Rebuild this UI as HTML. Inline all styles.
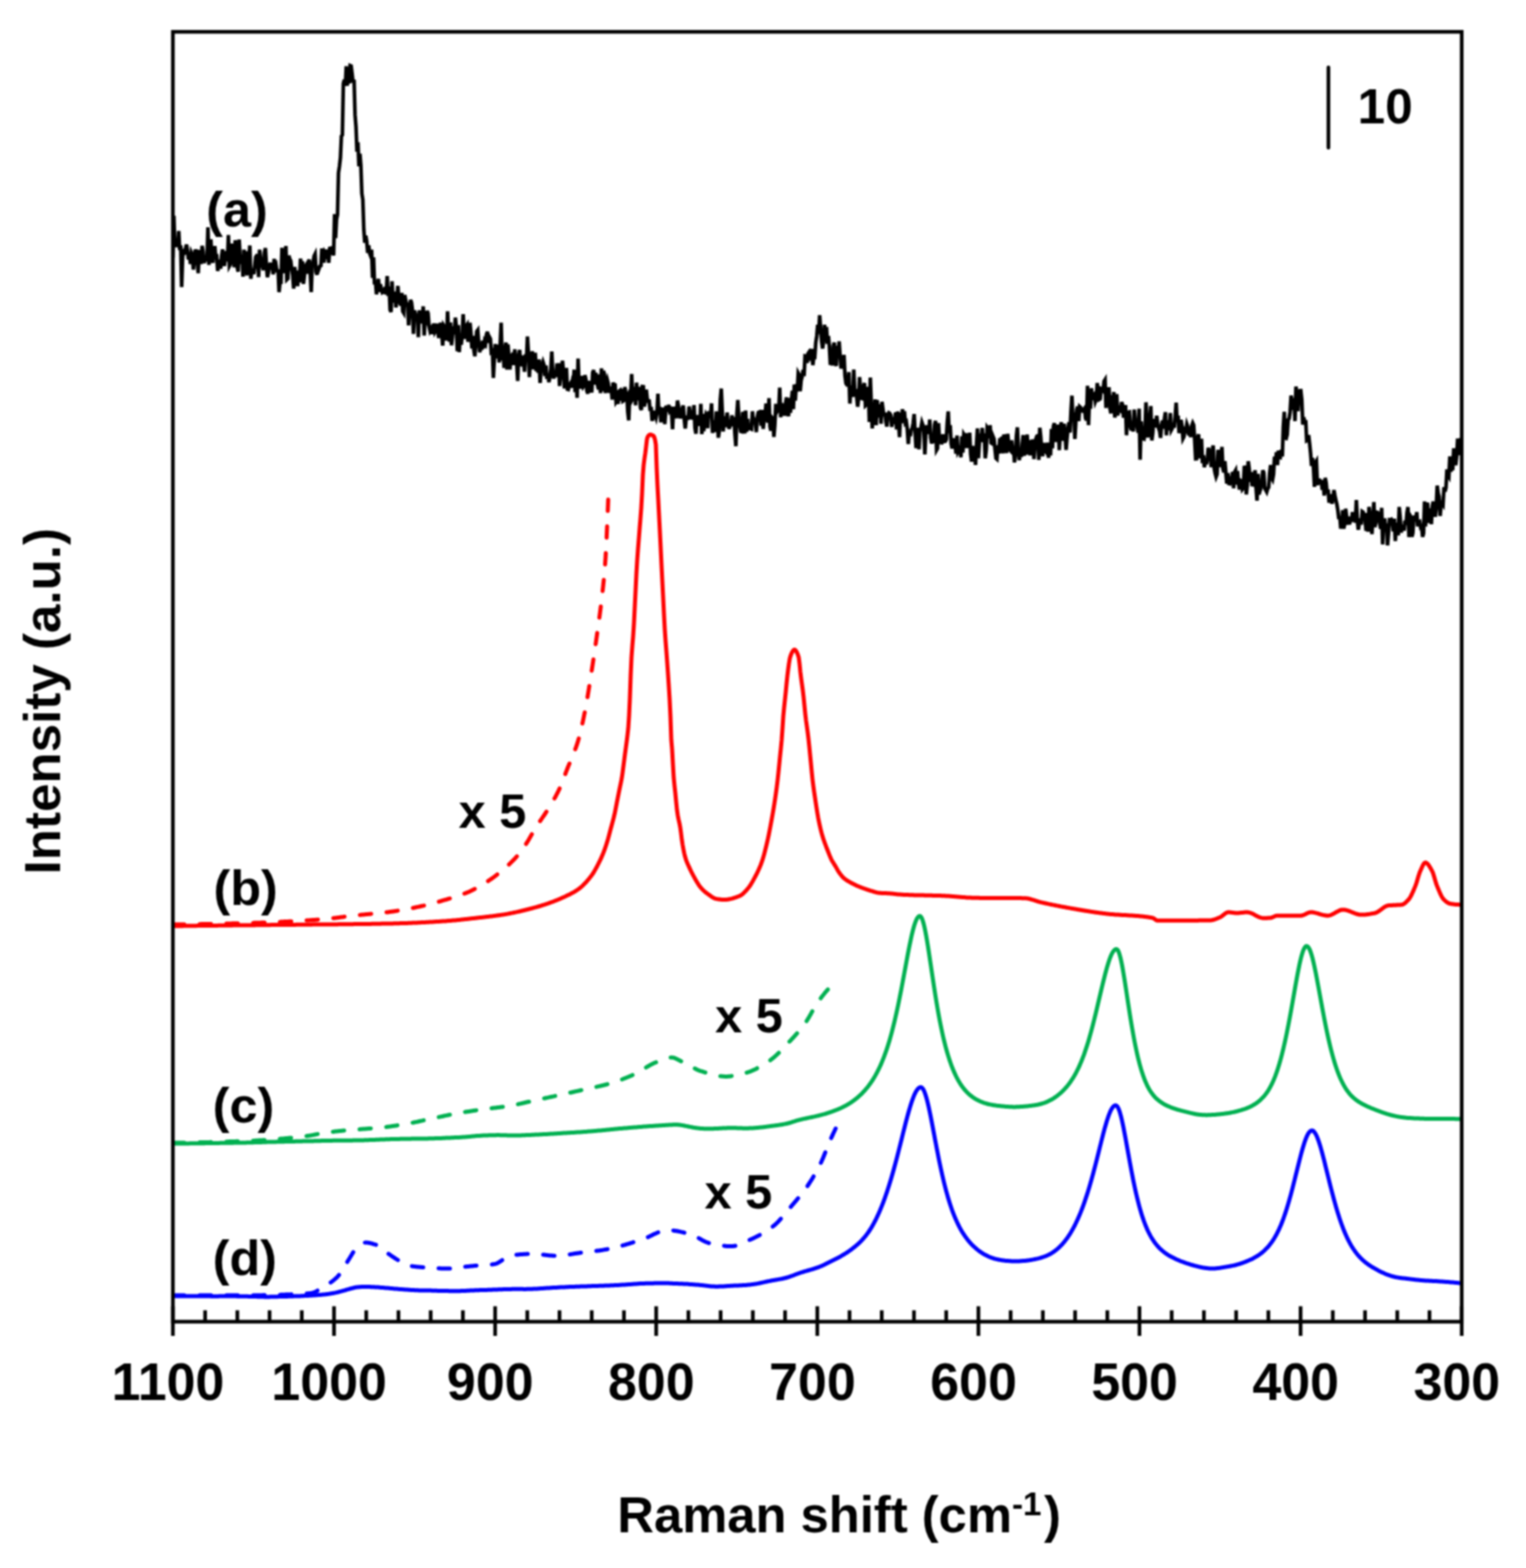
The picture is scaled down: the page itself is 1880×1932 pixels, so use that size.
<!DOCTYPE html>
<html><head><meta charset="utf-8"><title>Raman spectra</title>
<style>
html,body{margin:0;padding:0;background:#fff;width:1880px;height:1932px;overflow:hidden}
svg{display:block}
text{font-family:"Liberation Sans",Arial,sans-serif;font-weight:bold;fill:#000}
</style></head><body>
<svg width="1880" height="1932" viewBox="0 0 1880 1932">
<defs><filter id="bl" x="0" y="0" width="1880" height="1932" filterUnits="userSpaceOnUse" color-interpolation-filters="sRGB"><feConvolveMatrix order="5" kernelMatrix="4 14 20 14 4 14 49 70 49 14 20 70 100 70 20 14 49 70 49 14 4 14 20 14 4" divisor="784" edgeMode="duplicate"/></filter></defs>
<g filter="url(#bl)">
<rect x="0" y="0" width="1880" height="1932" fill="#fff"/>
<g clip-path="url(#plot)">
<path d="M213.0 317.5 L214.2 265.7 L215.4 304.5 L216.6 295.4 L217.8 299.2 L219.0 304.2 L220.2 284.7 L221.4 308.2 L222.6 302.2 L223.8 353.6 L225.0 316.7 L226.2 309.8 L227.4 310.6 L228.6 305.9 L229.8 301.3 L231.0 309.2 L232.2 319.7 L233.4 311.0 L234.6 325.3 L235.8 311.4 L237.0 314.0 L238.2 332.2 L239.4 320.2 L240.6 307.5 L241.8 311.3 L243.0 320.0 L244.2 336.7 L245.4 310.2 L246.6 310.5 L247.8 325.4 L249.0 302.8 L250.2 309.9 L251.4 324.0 L252.6 320.5 L253.8 314.8 L255.0 321.9 L256.2 280.1 L257.4 326.5 L258.6 303.0 L259.8 294.8 L261.0 318.4 L262.2 323.8 L263.4 310.4 L264.6 303.2 L265.8 316.7 L267.0 316.1 L268.2 333.9 L269.4 326.3 L270.6 320.0 L271.8 331.2 L273.0 315.7 L274.2 307.2 L275.4 325.6 L276.6 325.7 L277.8 316.3 L279.0 309.7 L280.2 322.0 L281.4 289.5 L282.6 327.8 L283.8 325.6 L285.0 300.2 L286.2 320.7 L287.4 308.6 L288.6 329.4 L289.8 296.0 L291.0 309.6 L292.2 329.2 L293.4 334.8 L294.6 295.1 L295.8 315.2 L297.0 325.3 L298.2 314.2 L299.4 340.8 L300.6 307.6 L301.8 326.3 L303.0 309.7 L304.2 339.3 L305.4 322.4 L306.6 318.4 L307.8 302.5 L309.0 343.5 L310.2 332.5 L311.4 332.8 L312.6 337.6 L313.8 328.4 L315.0 316.7 L316.2 315.0 L317.4 315.2 L318.6 341.5 L319.8 307.7 L321.0 318.3 L322.2 321.8 L323.4 328.6 L324.6 333.0 L325.8 311.3 L327.0 305.7 L328.2 326.6 L329.4 341.5 L330.6 336.2 L331.8 329.9 L333.0 323.8 L334.2 331.3 L335.4 325.1 L336.6 338.0 L337.8 318.9 L339.0 330.2 L340.2 327.5 L341.4 335.5 L342.6 331.9 L343.8 360.0 L345.0 347.5 L346.2 347.6 L347.4 305.3 L348.6 325.9 L349.8 322.8 L351.0 336.6 L352.2 303.0 L353.4 344.5 L354.6 343.3 L355.8 315.0 L357.0 319.0 L358.2 321.3 L359.4 331.5 L360.6 338.8 L361.8 355.7 L363.0 328.9 L364.2 340.6 L365.4 333.3 L366.6 352.6 L367.8 340.5 L369.0 348.0 L370.2 318.7 L371.4 329.4 L372.6 321.9 L373.8 349.8 L375.0 339.6 L376.2 328.0 L377.4 326.1 L378.6 337.2 L379.8 322.8 L381.0 319.8 L382.2 336.5 L383.4 360.0 L384.6 327.2 L385.8 323.1 L387.0 315.4 L388.2 313.0 L389.4 335.0 L390.6 338.5 L391.8 327.9 L393.0 331.1 L394.2 327.8 L395.4 327.2 L396.6 306.2 L397.8 317.9 L399.0 323.5 L400.2 311.3 L401.4 313.5 L402.6 307.8 L403.8 311.8 L405.0 323.9 L406.2 306.1 L407.4 305.8 L408.6 313.5 L409.8 307.1 L411.0 314.8 L412.2 263.9 L413.4 293.5 L414.6 269.9 L415.8 264.5 L417.0 213.0 L418.2 205.0 L419.4 194.3 L420.6 167.8 L421.8 166.3 L423.0 103.0 L424.2 98.3 L425.4 105.8 L426.6 81.7 L427.8 105.5 L429.0 87.3 L430.2 102.8 L431.4 80.7 L432.6 81.2 L433.8 91.1 L435.0 101.8 L436.2 98.3 L437.4 141.4 L438.6 156.6 L439.8 187.0 L441.0 175.3 L442.2 204.9 L443.4 189.5 L444.6 204.4 L445.8 238.6 L447.0 245.9 L448.2 282.5 L449.4 299.2 L450.6 290.4 L451.8 297.2 L453.0 311.6 L454.2 302.4 L455.4 312.1 L456.6 315.3 L457.8 307.7 L459.0 342.5 L460.2 317.1 L461.4 350.3 L462.6 345.9 L463.8 362.7 L465.0 350.7 L466.2 343.6 L467.4 359.6 L468.6 350.2 L469.8 356.3 L471.0 360.4 L472.2 359.6 L473.4 360.2 L474.6 353.6 L475.8 362.4 L477.0 340.0 L478.2 364.7 L479.4 353.1 L480.6 381.8 L481.8 384.4 L483.0 346.5 L484.2 372.3 L485.4 369.7 L486.6 359.3 L487.8 378.8 L489.0 367.5 L490.2 352.3 L491.4 370.8 L492.6 372.8 L493.8 376.3 L495.0 360.8 L496.2 383.5 L497.4 385.5 L498.6 363.5 L499.8 370.0 L501.0 377.6 L502.2 372.5 L503.4 400.9 L504.6 383.2 L505.8 369.4 L507.0 372.8 L508.2 382.4 L509.4 411.4 L510.6 382.6 L511.8 387.1 L513.0 392.5 L514.2 386.7 L515.4 415.3 L516.6 382.3 L517.8 398.4 L519.0 392.2 L520.2 398.4 L521.4 377.5 L522.6 413.5 L523.8 391.5 L525.0 394.0 L526.2 383.0 L527.4 386.0 L528.6 402.2 L529.8 407.8 L531.0 405.6 L532.2 411.6 L533.4 406.3 L534.6 398.6 L535.8 408.8 L537.0 406.5 L538.2 398.7 L539.4 409.1 L540.6 416.4 L541.8 404.3 L543.0 397.7 L544.2 411.1 L545.4 425.8 L546.6 401.0 L547.8 402.9 L549.0 402.9 L550.2 419.7 L551.4 383.5 L552.6 410.5 L553.8 420.9 L555.0 397.3 L556.2 425.5 L557.4 414.6 L558.6 402.1 L559.8 411.6 L561.0 391.3 L562.2 403.4 L563.4 432.7 L564.6 400.5 L565.8 434.0 L567.0 411.4 L568.2 424.8 L569.4 414.0 L570.6 387.1 L571.8 407.7 L573.0 417.4 L574.2 401.9 L575.4 400.1 L576.6 421.2 L577.8 409.6 L579.0 397.6 L580.2 410.3 L581.4 429.4 L582.6 413.9 L583.8 431.4 L585.0 439.0 L586.2 421.6 L587.4 408.3 L588.6 406.7 L589.8 422.6 L591.0 434.0 L592.2 427.2 L593.4 431.1 L594.6 419.8 L595.8 429.2 L597.0 420.5 L598.2 422.8 L599.4 411.7 L600.6 408.8 L601.8 422.4 L603.0 415.4 L604.2 417.7 L605.4 437.7 L606.6 428.9 L607.8 465.6 L609.0 442.2 L610.2 424.0 L611.4 441.4 L612.6 436.8 L613.8 424.7 L615.0 446.6 L616.2 424.5 L617.4 397.5 L618.6 444.2 L619.8 427.7 L621.0 453.4 L622.2 428.2 L623.4 422.2 L624.6 455.4 L625.8 424.3 L627.0 440.1 L628.2 455.4 L629.4 439.8 L630.6 437.9 L631.8 440.5 L633.0 449.7 L634.2 430.4 L635.4 447.8 L636.6 447.8 L637.8 469.3 L639.0 437.6 L640.2 431.1 L641.4 451.3 L642.6 438.1 L643.8 446.8 L645.0 445.3 L646.2 458.1 L647.4 436.6 L648.6 443.8 L649.8 414.7 L651.0 435.1 L652.2 464.6 L653.4 438.4 L654.6 438.6 L655.8 432.9 L657.0 454.9 L658.2 450.5 L659.4 434.5 L660.6 457.2 L661.8 452.7 L663.0 459.1 L664.2 442.8 L665.4 471.8 L666.6 456.3 L667.8 450.4 L669.0 446.0 L670.2 449.7 L671.4 463.4 L672.6 450.3 L673.8 466.8 L675.0 461.3 L676.2 470.9 L677.4 464.9 L678.6 454.8 L679.8 433.1 L681.0 460.0 L682.2 466.3 L683.4 459.2 L684.6 464.3 L685.8 452.4 L687.0 453.9 L688.2 447.6 L689.4 475.6 L690.6 461.6 L691.8 454.2 L693.0 444.5 L694.2 459.0 L695.4 478.5 L696.6 467.2 L697.8 453.3 L699.0 479.5 L700.2 479.9 L701.4 474.9 L702.6 472.9 L703.8 477.7 L705.0 470.7 L706.2 473.8 L707.4 455.5 L708.6 483.2 L709.8 468.3 L711.0 490.2 L712.2 441.8 L713.4 475.1 L714.6 478.7 L715.8 463.2 L717.0 473.1 L718.2 477.0 L719.4 475.3 L720.6 462.2 L721.8 467.4 L723.0 481.6 L724.2 485.1 L725.4 471.3 L726.6 471.4 L727.8 473.3 L729.0 483.7 L730.2 458.9 L731.4 456.0 L732.6 473.8 L733.8 459.4 L735.0 466.1 L736.2 474.5 L737.4 479.7 L738.6 461.4 L739.8 484.3 L741.0 453.8 L742.2 482.0 L743.4 457.0 L744.6 461.0 L745.8 484.4 L747.0 472.3 L748.2 468.0 L749.4 472.6 L750.6 484.0 L751.8 478.2 L753.0 478.9 L754.2 492.3 L755.4 471.5 L756.6 474.8 L757.8 474.7 L759.0 495.4 L760.2 493.7 L761.4 497.7 L762.6 482.2 L763.8 481.2 L765.0 493.7 L766.2 479.2 L767.4 494.3 L768.6 493.5 L769.8 476.9 L771.0 484.7 L772.2 484.7 L773.4 507.3 L774.6 518.0 L775.8 486.2 L777.0 488.0 L778.2 460.8 L779.4 491.2 L780.6 489.0 L781.8 476.6 L783.0 499.3 L784.2 471.5 L785.4 488.2 L786.6 492.9 L787.8 476.6 L789.0 502.3 L790.2 505.2 L791.4 476.3 L792.6 476.5 L793.8 501.0 L795.0 493.9 L796.2 480.1 L797.4 491.5 L798.6 494.2 L799.8 494.2 L801.0 506.3 L802.2 501.4 L803.4 518.5 L804.6 514.1 L805.8 506.2 L807.0 511.4 L808.2 514.8 L809.4 507.8 L810.6 485.0 L811.8 510.5 L813.0 501.4 L814.2 520.4 L815.4 502.5 L816.6 508.1 L817.8 506.1 L819.0 522.7 L820.2 505.1 L821.4 500.1 L822.6 507.4 L823.8 498.8 L825.0 506.4 L826.2 504.8 L827.4 508.6 L828.6 528.8 L829.8 501.2 L831.0 507.0 L832.2 504.5 L833.4 515.4 L834.6 493.5 L835.8 499.8 L837.0 508.0 L838.2 515.5 L839.4 508.7 L840.6 503.7 L841.8 499.6 L843.0 516.6 L844.2 528.1 L845.4 515.0 L846.6 513.8 L847.8 517.2 L849.0 500.9 L850.2 508.8 L851.4 509.6 L852.6 516.7 L853.8 513.0 L855.0 499.1 L856.2 527.4 L857.4 534.5 L858.6 511.3 L859.8 519.4 L861.0 518.1 L862.2 524.5 L863.4 497.6 L864.6 534.9 L865.8 510.1 L867.0 531.2 L868.2 517.2 L869.4 511.7 L870.6 514.9 L871.8 527.6 L873.0 506.7 L874.2 512.7 L875.4 511.6 L876.6 497.0 L877.8 533.4 L879.0 524.9 L880.2 517.9 L881.4 532.2 L882.6 506.9 L883.8 517.6 L885.0 539.3 L886.2 530.5 L887.4 492.1 L888.6 478.8 L889.8 506.4 L891.0 531.6 L892.2 513.2 L893.4 516.3 L894.6 526.2 L895.8 508.3 L897.0 521.5 L898.2 528.4 L899.4 524.5 L900.6 523.7 L901.8 511.7 L903.0 525.1 L904.2 513.8 L905.4 534.6 L906.6 549.7 L907.8 510.0 L909.0 492.8 L910.2 513.8 L911.4 523.4 L912.6 531.5 L913.8 531.8 L915.0 509.5 L916.2 509.4 L917.4 534.1 L918.6 505.8 L919.8 532.0 L921.0 516.2 L922.2 528.1 L923.4 527.4 L924.6 528.2 L925.8 528.7 L927.0 506.8 L928.2 522.0 L929.4 518.4 L930.6 521.6 L931.8 532.4 L933.0 514.0 L934.2 508.3 L935.4 507.7 L936.6 512.2 L937.8 524.5 L939.0 505.2 L940.2 528.4 L941.4 517.5 L942.6 510.9 L943.8 497.1 L945.0 515.6 L946.2 520.5 L947.4 490.6 L948.6 525.6 L949.8 530.6 L951.0 514.4 L952.2 515.8 L953.4 538.4 L954.6 523.7 L955.8 497.6 L957.0 507.6 L958.2 505.3 L959.4 504.7 L960.6 477.5 L961.8 514.2 L963.0 496.7 L964.2 505.5 L965.4 501.0 L966.6 512.2 L967.8 497.1 L969.0 489.7 L970.2 504.1 L971.4 512.9 L972.6 490.3 L973.8 508.6 L975.0 493.3 L976.2 481.6 L977.4 504.1 L978.6 473.9 L979.8 493.7 L981.0 473.3 L982.2 482.3 L983.4 459.6 L984.6 461.8 L985.8 482.0 L987.0 468.8 L988.2 464.2 L989.4 455.7 L990.6 463.5 L991.8 438.6 L993.0 438.9 L994.2 447.3 L995.4 435.9 L996.6 434.1 L997.8 438.3 L999.0 434.2 L1000.2 430.1 L1001.4 449.9 L1002.6 439.5 L1003.8 439.8 L1005.0 422.2 L1006.2 414.0 L1007.4 400.2 L1008.6 411.2 L1009.8 388.4 L1011.0 404.9 L1012.2 419.9 L1013.4 429.5 L1014.6 421.6 L1015.8 400.1 L1017.0 417.2 L1018.2 402.9 L1019.4 423.6 L1020.6 413.9 L1021.8 427.2 L1023.0 449.6 L1024.2 431.6 L1025.4 450.3 L1026.6 426.2 L1027.8 422.0 L1029.0 444.1 L1030.2 451.0 L1031.4 426.1 L1032.6 436.2 L1033.8 420.7 L1035.0 438.3 L1036.2 454.2 L1037.4 445.6 L1038.6 443.4 L1039.8 437.4 L1041.0 463.0 L1042.2 472.5 L1043.4 474.2 L1044.6 473.8 L1045.8 458.5 L1047.0 497.3 L1048.2 477.0 L1049.4 477.3 L1050.6 489.1 L1051.8 455.4 L1053.0 481.6 L1054.2 481.6 L1055.4 488.6 L1056.6 501.1 L1057.8 491.4 L1059.0 464.6 L1060.2 483.4 L1061.4 490.9 L1062.6 491.3 L1063.8 475.4 L1065.0 472.0 L1066.2 499.8 L1067.4 498.7 L1068.6 495.7 L1069.8 476.6 L1071.0 520.0 L1072.2 465.2 L1073.4 497.0 L1074.6 527.8 L1075.8 502.1 L1077.0 508.0 L1078.2 492.2 L1079.4 523.8 L1080.6 493.0 L1081.8 512.4 L1083.0 511.8 L1084.2 498.2 L1085.4 522.1 L1086.6 495.0 L1087.8 504.4 L1089.0 512.7 L1090.2 508.6 L1091.4 519.6 L1092.6 525.5 L1093.8 511.3 L1095.0 508.7 L1096.2 509.4 L1097.4 511.6 L1098.6 526.1 L1099.8 514.2 L1101.0 522.2 L1102.2 516.7 L1103.4 508.2 L1104.6 529.2 L1105.8 507.0 L1107.0 520.2 L1108.2 538.7 L1109.4 508.4 L1110.6 521.7 L1111.8 504.1 L1113.0 517.8 L1114.2 506.8 L1115.4 521.3 L1116.6 520.0 L1117.8 528.8 L1119.0 547.0 L1120.2 532.2 L1121.4 537.4 L1122.6 529.5 L1123.8 527.8 L1125.0 521.3 L1126.2 510.2 L1127.4 533.0 L1128.6 552.2 L1129.8 538.8 L1131.0 527.0 L1132.2 553.6 L1133.4 529.0 L1134.6 527.1 L1135.8 520.4 L1137.0 523.7 L1138.2 532.6 L1139.4 559.9 L1140.6 533.7 L1141.8 524.1 L1143.0 529.5 L1144.2 534.4 L1145.4 516.8 L1146.6 539.2 L1147.8 546.3 L1149.0 542.1 L1150.2 545.7 L1151.4 523.3 L1152.6 518.6 L1153.8 554.7 L1155.0 552.7 L1156.2 521.3 L1157.4 542.6 L1158.6 540.7 L1159.8 547.2 L1161.0 543.4 L1162.2 535.2 L1163.4 543.9 L1164.6 543.7 L1165.8 541.6 L1167.0 520.3 L1168.2 506.9 L1169.4 533.6 L1170.6 523.8 L1171.8 546.7 L1173.0 552.6 L1174.2 547.5 L1175.4 540.1 L1176.6 545.7 L1177.8 559.1 L1179.0 536.6 L1180.2 556.6 L1181.4 554.3 L1182.6 549.1 L1183.8 563.5 L1185.0 537.7 L1186.2 557.7 L1187.4 535.3 L1188.6 537.4 L1189.8 533.9 L1191.0 552.0 L1192.2 535.4 L1193.4 547.3 L1194.6 533.1 L1195.8 559.5 L1197.0 568.8 L1198.2 549.4 L1199.4 566.5 L1200.6 553.5 L1201.8 572.8 L1203.0 548.0 L1204.2 527.9 L1205.4 564.7 L1206.6 545.3 L1207.8 534.4 L1209.0 538.9 L1210.2 527.3 L1211.4 544.8 L1212.6 534.0 L1213.8 564.7 L1215.0 554.9 L1216.2 527.0 L1217.4 528.8 L1218.6 540.1 L1219.8 523.9 L1221.0 545.7 L1222.2 546.5 L1223.4 537.8 L1224.6 540.7 L1225.8 553.4 L1227.0 564.7 L1228.2 565.8 L1229.4 548.6 L1230.6 558.8 L1231.8 540.0 L1233.0 554.1 L1234.2 538.1 L1235.4 558.7 L1236.6 535.5 L1237.8 539.1 L1239.0 550.9 L1240.2 558.1 L1241.4 534.5 L1242.6 545.6 L1243.8 553.9 L1245.0 555.3 L1246.2 542.6 L1247.4 554.0 L1248.6 549.8 L1249.8 569.8 L1251.0 559.7 L1252.2 537.1 L1253.4 526.5 L1254.6 554.1 L1255.8 567.0 L1257.0 554.8 L1258.2 563.2 L1259.4 546.7 L1260.6 536.1 L1261.8 561.3 L1263.0 553.3 L1264.2 560.2 L1265.4 535.3 L1266.6 553.8 L1267.8 544.0 L1269.0 561.0 L1270.2 544.1 L1271.4 543.6 L1272.6 543.6 L1273.8 565.6 L1275.0 550.5 L1276.2 540.8 L1277.4 537.4 L1278.6 536.9 L1279.8 566.7 L1281.0 527.1 L1282.2 538.4 L1283.4 555.9 L1284.6 562.1 L1285.8 545.7 L1287.0 556.3 L1288.2 555.4 L1289.4 557.5 L1290.6 545.5 L1291.8 564.0 L1293.0 546.0 L1294.2 561.1 L1295.4 528.7 L1296.6 552.4 L1297.8 525.2 L1299.0 521.4 L1300.2 544.5 L1301.4 527.8 L1302.6 542.2 L1303.8 523.2 L1305.0 554.6 L1306.2 534.7 L1307.4 520.2 L1308.6 535.1 L1309.8 542.9 L1311.0 522.2 L1312.2 536.9 L1313.4 554.4 L1314.6 539.4 L1315.8 528.0 L1317.0 520.3 L1318.2 533.0 L1319.4 506.9 L1320.6 487.5 L1321.8 514.7 L1323.0 508.4 L1324.2 540.8 L1325.4 519.9 L1326.6 504.7 L1327.8 500.8 L1329.0 518.9 L1330.2 501.1 L1331.4 502.2 L1332.6 506.1 L1333.8 506.4 L1335.0 504.7 L1336.2 503.1 L1337.4 515.3 L1338.6 517.8 L1339.8 475.3 L1341.0 523.8 L1342.2 492.2 L1343.4 503.7 L1344.6 478.4 L1345.8 490.1 L1347.0 488.2 L1348.2 486.5 L1349.4 495.0 L1350.6 491.9 L1351.8 471.9 L1353.0 482.3 L1354.2 492.2 L1355.4 491.4 L1356.6 479.0 L1357.8 479.6 L1359.0 481.1 L1360.2 469.7 L1361.4 467.8 L1362.6 502.6 L1363.8 479.7 L1365.0 486.4 L1366.2 477.2 L1367.4 502.8 L1368.6 509.3 L1369.8 486.9 L1371.0 496.9 L1372.2 483.0 L1373.4 514.5 L1374.6 505.7 L1375.8 485.7 L1377.0 512.0 L1378.2 502.8 L1379.4 505.0 L1380.6 506.0 L1381.8 495.5 L1383.0 498.8 L1384.2 514.5 L1385.4 508.2 L1386.6 499.0 L1387.8 536.3 L1389.0 510.7 L1390.2 507.8 L1391.4 507.5 L1392.6 525.5 L1393.8 530.3 L1395.0 522.9 L1396.2 531.7 L1397.4 504.6 L1398.6 519.3 L1399.8 519.4 L1401.0 526.2 L1402.2 533.0 L1403.4 503.6 L1404.6 566.4 L1405.8 519.2 L1407.0 534.3 L1408.2 540.4 L1409.4 540.9 L1410.6 533.6 L1411.8 495.7 L1413.0 517.3 L1414.2 539.1 L1415.4 518.5 L1416.6 516.4 L1417.8 500.3 L1419.0 542.6 L1420.2 533.5 L1421.4 516.2 L1422.6 524.8 L1423.8 524.7 L1425.0 512.2 L1426.2 522.0 L1427.4 528.0 L1428.6 531.2 L1429.8 539.5 L1431.0 524.3 L1432.2 518.1 L1433.4 528.2 L1434.6 515.6 L1435.8 507.9 L1437.0 536.4 L1438.2 517.9 L1439.4 523.8 L1440.6 530.1 L1441.8 509.0 L1443.0 529.9 L1444.2 527.7 L1445.4 521.1 L1446.6 527.1 L1447.8 513.4 L1449.0 496.2 L1450.2 519.4 L1451.4 512.0 L1452.6 533.6 L1453.8 526.6 L1455.0 517.3 L1456.2 524.5 L1457.4 540.4 L1458.6 538.1 L1459.8 529.3 L1461.0 530.4 L1462.2 522.5 L1463.4 525.7 L1464.6 536.5 L1465.8 530.6 L1467.0 538.6 L1468.2 524.7 L1469.4 521.3 L1470.6 523.9 L1471.8 541.8 L1473.0 565.3 L1474.2 565.2 L1475.4 540.4 L1476.6 535.0 L1477.8 564.4 L1479.0 561.5 L1480.2 540.5 L1481.4 570.6 L1482.6 561.0 L1483.8 575.7 L1485.0 564.7 L1486.2 572.1 L1487.4 566.1 L1488.6 551.6 L1489.8 561.1 L1491.0 556.6 L1492.2 575.5 L1493.4 554.5 L1494.6 548.9 L1495.8 576.5 L1497.0 583.0 L1498.2 587.6 L1499.4 584.4 L1500.6 554.3 L1501.8 565.1 L1503.0 567.9 L1504.2 575.3 L1505.4 550.7 L1506.6 577.5 L1507.8 582.0 L1509.0 568.2 L1510.2 582.0 L1511.4 595.8 L1512.6 582.9 L1513.8 595.8 L1515.0 596.1 L1516.2 589.5 L1517.4 589.9 L1518.6 581.5 L1519.8 601.5 L1521.0 581.6 L1522.2 579.5 L1523.4 597.0 L1524.6 580.5 L1525.8 594.9 L1527.0 603.1 L1528.2 591.9 L1529.4 592.7 L1530.6 602.9 L1531.8 601.4 L1533.0 574.2 L1534.2 577.2 L1535.4 609.2 L1536.6 598.0 L1537.8 568.4 L1539.0 577.2 L1540.2 593.7 L1541.4 581.6 L1542.6 599.0 L1543.8 594.3 L1545.0 599.3 L1546.2 579.4 L1547.4 600.9 L1548.6 616.9 L1549.8 583.9 L1551.0 609.2 L1552.2 605.2 L1553.4 601.2 L1554.6 592.7 L1555.8 579.5 L1557.0 582.6 L1558.2 601.9 L1559.4 603.9 L1560.6 606.1 L1561.8 602.1 L1563.0 600.5 L1564.2 583.3 L1565.4 572.9 L1566.6 588.6 L1567.8 590.9 L1569.0 584.2 L1570.2 562.7 L1571.4 571.9 L1572.6 557.3 L1573.8 573.2 L1575.0 555.1 L1576.2 561.7 L1577.4 562.7 L1578.6 554.4 L1579.8 562.5 L1581.0 526.2 L1582.2 507.3 L1583.4 539.8 L1584.6 540.2 L1585.8 535.5 L1587.0 517.0 L1588.2 515.8 L1589.4 507.2 L1590.6 487.4 L1591.8 494.1 L1593.0 505.1 L1594.2 490.5 L1595.4 518.9 L1596.6 476.3 L1597.8 488.7 L1599.0 506.7 L1600.2 486.3 L1601.4 481.4 L1602.6 481.3 L1603.8 492.3 L1605.0 523.1 L1606.2 514.1 L1607.4 521.7 L1608.6 517.7 L1609.8 543.0 L1611.0 542.3 L1612.2 536.0 L1613.4 546.2 L1614.6 558.2 L1615.8 574.0 L1617.0 564.2 L1618.2 576.5 L1619.4 600.0 L1620.6 570.1 L1621.8 568.1 L1623.0 597.7 L1624.2 593.8 L1625.4 589.8 L1626.6 596.5 L1627.8 591.5 L1629.0 603.6 L1630.2 595.3 L1631.4 610.7 L1632.6 588.8 L1633.8 594.9 L1635.0 608.1 L1636.2 603.1 L1637.4 619.4 L1638.6 612.9 L1639.8 609.3 L1641.0 620.7 L1642.2 614.1 L1643.4 603.8 L1644.6 610.7 L1645.8 616.2 L1647.0 621.3 L1648.2 628.9 L1649.4 639.5 L1650.6 635.9 L1651.8 651.2 L1653.0 645.7 L1654.2 628.7 L1655.4 651.3 L1656.6 646.1 L1657.8 626.9 L1659.0 636.5 L1660.2 646.4 L1661.4 636.5 L1662.6 646.1 L1663.8 639.0 L1665.0 643.0 L1666.2 631.1 L1667.4 639.8 L1668.6 631.2 L1669.8 644.1 L1671.0 616.2 L1672.2 641.1 L1673.4 652.7 L1674.6 645.4 L1675.8 638.8 L1677.0 646.3 L1678.2 630.3 L1679.4 631.1 L1680.6 637.3 L1681.8 640.3 L1683.0 654.0 L1684.2 632.0 L1685.4 655.1 L1686.6 624.5 L1687.8 634.2 L1689.0 643.4 L1690.2 658.0 L1691.4 636.9 L1692.6 618.6 L1693.8 649.4 L1695.0 644.0 L1696.2 631.2 L1697.4 631.6 L1698.6 635.6 L1699.8 644.9 L1701.0 651.6 L1702.2 625.7 L1703.4 670.8 L1704.6 642.8 L1705.8 638.8 L1707.0 651.5 L1708.2 645.0 L1709.4 672.0 L1710.6 657.6 L1711.8 640.5 L1713.0 640.7 L1714.2 639.9 L1715.4 642.2 L1716.6 654.7 L1717.8 639.2 L1719.0 666.6 L1720.2 646.6 L1721.4 646.1 L1722.6 659.6 L1723.8 624.7 L1725.0 637.4 L1726.2 656.0 L1727.4 649.1 L1728.6 648.9 L1729.8 653.7 L1731.0 641.5 L1732.2 646.2 L1733.4 631.5 L1734.6 624.7 L1735.8 661.8 L1737.0 634.7 L1738.2 636.7 L1739.4 661.5 L1740.6 656.9 L1741.8 637.4 L1743.0 636.9 L1744.2 641.9 L1745.4 630.9 L1746.6 648.5 L1747.8 643.2 L1749.0 642.6 L1750.2 649.6 L1751.4 648.6 L1752.6 661.5 L1753.8 657.1 L1755.0 617.8 L1756.2 648.6 L1757.4 623.8 L1758.6 619.4 L1759.8 644.4 L1761.0 626.6 L1762.2 630.3 L1763.4 645.8 L1764.6 623.4 L1765.8 618.0 L1767.0 629.3 L1768.2 636.7 L1769.4 625.5 L1770.6 598.4 L1771.8 607.6 L1773.0 612.1 L1774.2 635.7 L1775.4 621.8 L1776.6 619.5 L1777.8 621.5 L1779.0 600.3 L1780.2 605.6 L1781.4 601.0 L1782.6 578.4 L1783.8 585.2 L1785.0 587.2 L1786.2 562.4 L1787.4 580.8 L1788.6 576.7 L1789.8 576.9 L1791.0 552.4 L1792.2 560.1 L1793.4 573.2 L1794.6 562.3 L1795.8 540.3 L1797.0 549.4 L1798.2 560.7 L1799.4 539.8 L1799.5 545.0" stroke="#000" stroke-width="4.5" fill="none" stroke-linejoin="miter"/>
<path d="M213.0 1139.0 L214.0 1139.0 L215.0 1139.0 L216.0 1139.0 L217.0 1139.0 L218.0 1139.0 L219.0 1139.0 L220.0 1139.0 L221.0 1139.0 L222.0 1139.0 L223.0 1139.0 L224.0 1138.9 L225.0 1138.9 L226.0 1138.9 L227.0 1138.9 L228.0 1138.9 L229.0 1138.9 L230.0 1138.9 L231.0 1138.9 L232.0 1138.9 L233.0 1138.9 L234.0 1138.8 L235.0 1138.8 L236.0 1138.8 L237.0 1138.8 L238.0 1138.8 L239.0 1138.8 L240.0 1138.8 L241.0 1138.8 L242.0 1138.7 L243.0 1138.7 L244.0 1138.7 L245.0 1138.7 L246.0 1138.7 L247.0 1138.7 L248.0 1138.6 L249.0 1138.6 L250.0 1138.6 L251.0 1138.6 L252.0 1138.6 L253.0 1138.6 L254.0 1138.5 L255.0 1138.5 L256.0 1138.5 L257.0 1138.5 L258.0 1138.5 L259.0 1138.5 L260.0 1138.4 L261.0 1138.4 L262.0 1138.4 L263.0 1138.4 L264.0 1138.3 L265.0 1138.3 L266.0 1138.3 L267.0 1138.3 L268.0 1138.3 L269.0 1138.2 L270.0 1138.2 L271.0 1138.2 L272.0 1138.2 L273.0 1138.2 L274.0 1138.1 L275.0 1138.1 L276.0 1138.1 L277.0 1138.1 L278.0 1138.0 L279.0 1138.0 L280.0 1138.0 L281.0 1138.0 L282.0 1137.9 L283.0 1137.9 L284.0 1137.9 L285.0 1137.9 L286.0 1137.8 L287.0 1137.8 L288.0 1137.8 L289.0 1137.8 L290.0 1137.8 L291.0 1137.7 L292.0 1137.7 L293.0 1137.7 L294.0 1137.7 L295.0 1137.6 L296.0 1137.6 L297.0 1137.6 L298.0 1137.6 L299.0 1137.5 L300.0 1137.5 L301.0 1137.5 L302.0 1137.4 L303.0 1137.4 L304.0 1137.4 L305.0 1137.4 L306.0 1137.3 L307.0 1137.3 L308.0 1137.3 L309.0 1137.3 L310.0 1137.2 L311.0 1137.2 L312.0 1137.2 L313.0 1137.1 L314.0 1137.1 L315.0 1137.1 L316.0 1137.0 L317.0 1137.0 L318.0 1137.0 L319.0 1136.9 L320.0 1136.9 L321.0 1136.9 L322.0 1136.8 L323.0 1136.8 L324.0 1136.8 L325.0 1136.7 L326.0 1136.7 L327.0 1136.6 L328.0 1136.6 L329.0 1136.6 L330.0 1136.5 L331.0 1136.5 L332.0 1136.4 L333.0 1136.4 L334.0 1136.4 L335.0 1136.3 L336.0 1136.3 L337.0 1136.2 L338.0 1136.2 L339.0 1136.1 L340.0 1136.1 L341.0 1136.1 L342.0 1136.0 L343.0 1136.0 L344.0 1135.9 L345.0 1135.9 L346.0 1135.8 L347.0 1135.8 L348.0 1135.7 L349.0 1135.7 L350.0 1135.6 L351.0 1135.6 L352.0 1135.5 L353.0 1135.5 L354.0 1135.4 L355.0 1135.4 L356.0 1135.3 L357.0 1135.3 L358.0 1135.2 L359.0 1135.2 L360.0 1135.1 L361.0 1135.1 L362.0 1135.0 L363.0 1134.9 L364.0 1134.9 L365.0 1134.8 L366.0 1134.8 L367.0 1134.7 L368.0 1134.7 L369.0 1134.6 L370.0 1134.5 L371.0 1134.5 L372.0 1134.4 L373.0 1134.4 L374.0 1134.3 L375.0 1134.2 L376.0 1134.2 L377.0 1134.1 L378.0 1134.0 L379.0 1134.0 L380.0 1133.9 L381.0 1133.9 L382.0 1133.8 L383.0 1133.7 L384.0 1133.7 L385.0 1133.6 L386.0 1133.5 L387.0 1133.5 L388.0 1133.4 L389.0 1133.3 L390.0 1133.3 L391.0 1133.2 L392.0 1133.1 L393.0 1133.0 L394.0 1133.0 L395.0 1132.9 L396.0 1132.8 L397.0 1132.7 L398.0 1132.7 L399.0 1132.6 L400.0 1132.5 L401.0 1132.4 L402.0 1132.3 L403.0 1132.2 L404.0 1132.1 L405.0 1132.0 L406.0 1131.9 L407.0 1131.7 L408.0 1131.6 L409.0 1131.5 L410.0 1131.4 L411.0 1131.3 L412.0 1131.2 L413.0 1131.0 L414.0 1130.9 L415.0 1130.8 L416.0 1130.7 L417.0 1130.5 L418.0 1130.4 L419.0 1130.3 L420.0 1130.1 L421.0 1130.0 L422.0 1129.9 L423.0 1129.8 L424.0 1129.6 L425.0 1129.5 L426.0 1129.4 L427.0 1129.2 L428.0 1129.1 L429.0 1129.0 L430.0 1128.9 L431.0 1128.7 L432.0 1128.6 L433.0 1128.5 L434.0 1128.4 L435.0 1128.3 L436.0 1128.1 L437.0 1128.0 L438.0 1127.9 L439.0 1127.8 L440.0 1127.7 L441.0 1127.6 L442.0 1127.5 L443.0 1127.4 L444.0 1127.3 L445.0 1127.2 L446.0 1127.1 L447.0 1127.0 L448.0 1126.9 L449.0 1126.8 L450.0 1126.7 L451.0 1126.6 L452.0 1126.5 L453.0 1126.4 L454.0 1126.3 L455.0 1126.3 L456.0 1126.2 L457.0 1126.1 L458.0 1126.0 L459.0 1125.9 L460.0 1125.8 L461.0 1125.7 L462.0 1125.6 L463.0 1125.5 L464.0 1125.4 L465.0 1125.3 L466.0 1125.2 L467.0 1125.1 L468.0 1125.0 L469.0 1124.9 L470.0 1124.8 L471.0 1124.7 L472.0 1124.6 L473.0 1124.5 L474.0 1124.4 L475.0 1124.2 L476.0 1124.1 L477.0 1124.0 L478.0 1123.9 L479.0 1123.7 L480.0 1123.6 L481.0 1123.5 L482.0 1123.3 L483.0 1123.2 L484.0 1123.0 L485.0 1122.9 L486.0 1122.7 L487.0 1122.6 L488.0 1122.4 L489.0 1122.3 L490.0 1122.1 L491.0 1121.9 L492.0 1121.8 L493.0 1121.6 L494.0 1121.4 L495.0 1121.3 L496.0 1121.1 L497.0 1120.9 L498.0 1120.7 L499.0 1120.6 L500.0 1120.4 L501.0 1120.2 L502.0 1120.0 L503.0 1119.8 L504.0 1119.6 L505.0 1119.4 L506.0 1119.3 L507.0 1119.1 L508.0 1118.9 L509.0 1118.7 L510.0 1118.5 L511.0 1118.3 L512.0 1118.0 L513.0 1117.8 L514.0 1117.6 L515.0 1117.4 L516.0 1117.2 L517.0 1117.0 L518.0 1116.8 L519.0 1116.5 L520.0 1116.3 L521.0 1116.1 L522.0 1115.9 L523.0 1115.6 L524.0 1115.4 L525.0 1115.2 L526.0 1114.9 L527.0 1114.7 L528.0 1114.4 L529.0 1114.2 L530.0 1113.9 L531.0 1113.6 L532.0 1113.4 L533.0 1113.1 L534.0 1112.8 L535.0 1112.6 L536.0 1112.3 L537.0 1112.0 L538.0 1111.7 L539.0 1111.5 L540.0 1111.2 L541.0 1110.9 L542.0 1110.6 L543.0 1110.3 L544.0 1110.0 L545.0 1109.7 L546.0 1109.4 L547.0 1109.1 L548.0 1108.8 L549.0 1108.6 L550.0 1108.3 L551.0 1108.0 L552.0 1107.7 L553.0 1107.4 L554.0 1107.1 L555.0 1106.8 L556.0 1106.5 L557.0 1106.2 L558.0 1105.9 L559.0 1105.6 L560.0 1105.2 L561.0 1104.9 L562.0 1104.6 L563.0 1104.3 L564.0 1104.0 L565.0 1103.6 L566.0 1103.3 L567.0 1102.9 L568.0 1102.6 L569.0 1102.2 L570.0 1101.9 L571.0 1101.5 L572.0 1101.1 L573.0 1100.7 L574.0 1100.4 L575.0 1099.9 L576.0 1099.5 L577.0 1099.1 L578.0 1098.7 L579.0 1098.2 L580.0 1097.8 L581.0 1097.3 L582.0 1096.8 L583.0 1096.3 L584.0 1095.8 L585.0 1095.3 L586.0 1094.7 L587.0 1094.2 L588.0 1093.6 L589.0 1093.1 L590.0 1092.5 L591.0 1091.9 L592.0 1091.3 L593.0 1090.7 L594.0 1090.1 L595.0 1089.5 L596.0 1088.9 L597.0 1088.3 L598.0 1087.7 L599.0 1087.1 L600.0 1086.4 L601.0 1085.8 L602.0 1085.1 L603.0 1084.5 L604.0 1083.8 L605.0 1083.1 L606.0 1082.4 L607.0 1081.7 L608.0 1080.9 L609.0 1080.2 L610.0 1079.4 L611.0 1078.7 L612.0 1077.9 L613.0 1077.1 L614.0 1076.3 L615.0 1075.5 L616.0 1074.7 L617.0 1073.9 L618.0 1073.1 L619.0 1072.2 L620.0 1071.4 L621.0 1070.5 L622.0 1069.7 L623.0 1068.8 L624.0 1067.9 L625.0 1067.0 L626.0 1066.1 L627.0 1065.2 L628.0 1064.2 L629.0 1063.3 L630.0 1062.3 L631.0 1061.3 L632.0 1060.3 L633.0 1059.2 L634.0 1058.2 L635.0 1057.1 L636.0 1056.0 L637.0 1054.9 L638.0 1053.8 L639.0 1052.6 L640.0 1051.4 L641.0 1050.1 L642.0 1048.7 L643.0 1047.4 L644.0 1045.9 L645.0 1044.5 L646.0 1043.0 L647.0 1041.5 L648.0 1040.0 L649.0 1038.4 L650.0 1036.8 L651.0 1035.2 L652.0 1033.5 L653.0 1031.8 L654.0 1030.0 L655.0 1028.3 L656.0 1026.5 L657.0 1024.8 L658.0 1023.1 L659.0 1021.4 L660.0 1019.8 L661.0 1018.2 L662.0 1016.7 L663.0 1015.2 L664.0 1013.7 L665.0 1012.2 L666.0 1010.8 L667.0 1009.3 L668.0 1007.9 L669.0 1006.4 L670.0 1005.0 L671.0 1003.5 L672.0 1002.0 L673.0 1000.5 L674.0 998.9 L675.0 997.3 L676.0 995.7 L677.0 994.1 L678.0 992.4 L679.0 990.8 L680.0 989.1 L681.0 987.4 L682.0 985.7 L683.0 984.0 L684.0 982.2 L685.0 980.3 L686.0 978.4 L687.0 976.5 L688.0 974.5 L689.0 972.4 L690.0 970.1 L691.0 967.8 L692.0 965.3 L693.0 962.8 L694.0 960.2 L695.0 957.5 L696.0 954.9 L697.0 952.2 L698.0 949.6 L699.0 947.0 L700.0 944.5 L701.0 942.1 L702.0 939.7 L703.0 937.3 L704.0 935.0 L705.0 932.6 L706.0 930.2 L707.0 927.7 L708.0 925.1 L709.0 922.4 L710.0 919.6 L711.0 916.6 L712.0 913.4 L713.0 910.0 L714.0 906.3 L715.0 902.3 L716.0 898.2 L717.0 893.8 L718.0 889.2 L719.0 884.5 L720.0 879.6 L721.0 874.6 L722.0 869.3 L723.0 863.7 L724.0 857.7 L725.0 851.6 L726.0 845.3 L727.0 839.0 L728.0 832.6 L729.0 826.2 L730.0 819.7 L731.0 813.0 L732.0 806.3 L733.0 799.4 L734.0 792.5 L735.0 785.4 L736.0 778.3 L737.0 771.3 L738.0 764.1 L739.0 756.5 L740.0 748.6 L741.0 740.1 L742.0 731.7 L743.0 722.8 L744.0 712.8 L745.0 701.4 L746.0 687.6 L747.0 669.6 L748.0 647.9 L749.0 623.6 L749.5 610.7" stroke="#f00" stroke-width="5" fill="none" stroke-dasharray="14 19" stroke-linecap="round"/>
<path d="M213.0 1141.0 L214.0 1141.0 L215.0 1141.0 L216.0 1141.0 L217.0 1141.0 L218.0 1140.9 L219.0 1140.9 L220.0 1140.9 L221.0 1140.9 L222.0 1140.9 L223.0 1140.9 L224.0 1140.9 L225.0 1140.9 L226.0 1140.8 L227.0 1140.8 L228.0 1140.8 L229.0 1140.8 L230.0 1140.8 L231.0 1140.8 L232.0 1140.8 L233.0 1140.8 L234.0 1140.7 L235.0 1140.7 L236.0 1140.7 L237.0 1140.7 L238.0 1140.7 L239.0 1140.7 L240.0 1140.7 L241.0 1140.7 L242.0 1140.7 L243.0 1140.6 L244.0 1140.6 L245.0 1140.6 L246.0 1140.6 L247.0 1140.6 L248.0 1140.6 L249.0 1140.6 L250.0 1140.6 L251.0 1140.5 L252.0 1140.5 L253.0 1140.5 L254.0 1140.5 L255.0 1140.5 L256.0 1140.5 L257.0 1140.5 L258.0 1140.5 L259.0 1140.5 L260.0 1140.4 L261.0 1140.4 L262.0 1140.4 L263.0 1140.4 L264.0 1140.4 L265.0 1140.4 L266.0 1140.4 L267.0 1140.4 L268.0 1140.4 L269.0 1140.3 L270.0 1140.3 L271.0 1140.3 L272.0 1140.3 L273.0 1140.3 L274.0 1140.3 L275.0 1140.3 L276.0 1140.3 L277.0 1140.3 L278.0 1140.2 L279.0 1140.2 L280.0 1140.2 L281.0 1140.2 L282.0 1140.2 L283.0 1140.2 L284.0 1140.2 L285.0 1140.2 L286.0 1140.2 L287.0 1140.1 L288.0 1140.1 L289.0 1140.1 L290.0 1140.1 L291.0 1140.1 L292.0 1140.1 L293.0 1140.1 L294.0 1140.1 L295.0 1140.1 L296.0 1140.0 L297.0 1140.0 L298.0 1140.0 L299.0 1140.0 L300.0 1140.0 L301.0 1140.0 L302.0 1140.0 L303.0 1140.0 L304.0 1140.0 L305.0 1139.9 L306.0 1139.9 L307.0 1139.9 L308.0 1139.9 L309.0 1139.9 L310.0 1139.9 L311.0 1139.9 L312.0 1139.9 L313.0 1139.9 L314.0 1139.9 L315.0 1139.8 L316.0 1139.8 L317.0 1139.8 L318.0 1139.8 L319.0 1139.8 L320.0 1139.8 L321.0 1139.8 L322.0 1139.8 L323.0 1139.8 L324.0 1139.8 L325.0 1139.7 L326.0 1139.7 L327.0 1139.7 L328.0 1139.7 L329.0 1139.7 L330.0 1139.7 L331.0 1139.7 L332.0 1139.7 L333.0 1139.7 L334.0 1139.6 L335.0 1139.6 L336.0 1139.6 L337.0 1139.6 L338.0 1139.6 L339.0 1139.6 L340.0 1139.6 L341.0 1139.6 L342.0 1139.6 L343.0 1139.6 L344.0 1139.6 L345.0 1139.5 L346.0 1139.5 L347.0 1139.5 L348.0 1139.5 L349.0 1139.5 L350.0 1139.5 L351.0 1139.5 L352.0 1139.5 L353.0 1139.5 L354.0 1139.5 L355.0 1139.4 L356.0 1139.4 L357.0 1139.4 L358.0 1139.4 L359.0 1139.4 L360.0 1139.4 L361.0 1139.4 L362.0 1139.4 L363.0 1139.4 L364.0 1139.4 L365.0 1139.3 L366.0 1139.3 L367.0 1139.3 L368.0 1139.3 L369.0 1139.3 L370.0 1139.3 L371.0 1139.3 L372.0 1139.3 L373.0 1139.3 L374.0 1139.3 L375.0 1139.2 L376.0 1139.2 L377.0 1139.2 L378.0 1139.2 L379.0 1139.2 L380.0 1139.2 L381.0 1139.2 L382.0 1139.2 L383.0 1139.2 L384.0 1139.2 L385.0 1139.1 L386.0 1139.1 L387.0 1139.1 L388.0 1139.1 L389.0 1139.1 L390.0 1139.1 L391.0 1139.1 L392.0 1139.1 L393.0 1139.1 L394.0 1139.1 L395.0 1139.0 L396.0 1139.0 L397.0 1139.0 L398.0 1139.0 L399.0 1139.0 L400.0 1139.0 L401.0 1139.0 L402.0 1139.0 L403.0 1139.0 L404.0 1139.0 L405.0 1139.0 L406.0 1138.9 L407.0 1138.9 L408.0 1138.9 L409.0 1138.9 L410.0 1138.9 L411.0 1138.9 L412.0 1138.9 L413.0 1138.9 L414.0 1138.9 L415.0 1138.9 L416.0 1138.9 L417.0 1138.8 L418.0 1138.8 L419.0 1138.8 L420.0 1138.8 L421.0 1138.8 L422.0 1138.8 L423.0 1138.8 L424.0 1138.8 L425.0 1138.8 L426.0 1138.8 L427.0 1138.7 L428.0 1138.7 L429.0 1138.7 L430.0 1138.7 L431.0 1138.7 L432.0 1138.7 L433.0 1138.7 L434.0 1138.7 L435.0 1138.7 L436.0 1138.6 L437.0 1138.6 L438.0 1138.6 L439.0 1138.6 L440.0 1138.6 L441.0 1138.6 L442.0 1138.6 L443.0 1138.6 L444.0 1138.5 L445.0 1138.5 L446.0 1138.5 L447.0 1138.5 L448.0 1138.5 L449.0 1138.5 L450.0 1138.5 L451.0 1138.5 L452.0 1138.4 L453.0 1138.4 L454.0 1138.4 L455.0 1138.4 L456.0 1138.4 L457.0 1138.4 L458.0 1138.3 L459.0 1138.3 L460.0 1138.3 L461.0 1138.3 L462.0 1138.3 L463.0 1138.3 L464.0 1138.2 L465.0 1138.2 L466.0 1138.2 L467.0 1138.2 L468.0 1138.2 L469.0 1138.2 L470.0 1138.1 L471.0 1138.1 L472.0 1138.1 L473.0 1138.1 L474.0 1138.1 L475.0 1138.0 L476.0 1138.0 L477.0 1138.0 L478.0 1138.0 L479.0 1138.0 L480.0 1137.9 L481.0 1137.9 L482.0 1137.9 L483.0 1137.9 L484.0 1137.9 L485.0 1137.8 L486.0 1137.8 L487.0 1137.8 L488.0 1137.8 L489.0 1137.7 L490.0 1137.7 L491.0 1137.7 L492.0 1137.7 L493.0 1137.6 L494.0 1137.6 L495.0 1137.6 L496.0 1137.5 L497.0 1137.5 L498.0 1137.5 L499.0 1137.5 L500.0 1137.4 L501.0 1137.4 L502.0 1137.4 L503.0 1137.3 L504.0 1137.3 L505.0 1137.3 L506.0 1137.2 L507.0 1137.2 L508.0 1137.1 L509.0 1137.1 L510.0 1137.1 L511.0 1137.0 L512.0 1137.0 L513.0 1136.9 L514.0 1136.9 L515.0 1136.8 L516.0 1136.8 L517.0 1136.7 L518.0 1136.7 L519.0 1136.6 L520.0 1136.6 L521.0 1136.5 L522.0 1136.5 L523.0 1136.4 L524.0 1136.4 L525.0 1136.3 L526.0 1136.3 L527.0 1136.2 L528.0 1136.2 L529.0 1136.1 L530.0 1136.1 L531.0 1136.0 L532.0 1135.9 L533.0 1135.9 L534.0 1135.8 L535.0 1135.8 L536.0 1135.7 L537.0 1135.6 L538.0 1135.6 L539.0 1135.5 L540.0 1135.5 L541.0 1135.4 L542.0 1135.3 L543.0 1135.3 L544.0 1135.2 L545.0 1135.1 L546.0 1135.1 L547.0 1135.0 L548.0 1134.9 L549.0 1134.9 L550.0 1134.8 L551.0 1134.7 L552.0 1134.6 L553.0 1134.6 L554.0 1134.5 L555.0 1134.4 L556.0 1134.3 L557.0 1134.2 L558.0 1134.1 L559.0 1134.0 L560.0 1134.0 L561.0 1133.9 L562.0 1133.8 L563.0 1133.7 L564.0 1133.6 L565.0 1133.5 L566.0 1133.4 L567.0 1133.3 L568.0 1133.1 L569.0 1133.0 L570.0 1132.9 L571.0 1132.8 L572.0 1132.7 L573.0 1132.6 L574.0 1132.5 L575.0 1132.4 L576.0 1132.3 L577.0 1132.2 L578.0 1132.0 L579.0 1131.9 L580.0 1131.8 L581.0 1131.7 L582.0 1131.6 L583.0 1131.5 L584.0 1131.4 L585.0 1131.3 L586.0 1131.2 L587.0 1131.0 L588.0 1130.9 L589.0 1130.8 L590.0 1130.7 L591.0 1130.6 L592.0 1130.5 L593.0 1130.4 L594.0 1130.3 L595.0 1130.2 L596.0 1130.1 L597.0 1129.9 L598.0 1129.8 L599.0 1129.7 L600.0 1129.6 L601.0 1129.5 L602.0 1129.4 L603.0 1129.2 L604.0 1129.1 L605.0 1129.0 L606.0 1128.9 L607.0 1128.8 L608.0 1128.6 L609.0 1128.5 L610.0 1128.4 L611.0 1128.2 L612.0 1128.1 L613.0 1128.0 L614.0 1127.8 L615.0 1127.7 L616.0 1127.5 L617.0 1127.4 L618.0 1127.2 L619.0 1127.1 L620.0 1126.9 L621.0 1126.8 L622.0 1126.6 L623.0 1126.4 L624.0 1126.3 L625.0 1126.1 L626.0 1125.9 L627.0 1125.7 L628.0 1125.5 L629.0 1125.3 L630.0 1125.1 L631.0 1124.9 L632.0 1124.7 L633.0 1124.5 L634.0 1124.3 L635.0 1124.1 L636.0 1123.9 L637.0 1123.6 L638.0 1123.4 L639.0 1123.2 L640.0 1123.0 L641.0 1122.7 L642.0 1122.5 L643.0 1122.2 L644.0 1122.0 L645.0 1121.8 L646.0 1121.5 L647.0 1121.3 L648.0 1121.0 L649.0 1120.8 L650.0 1120.5 L651.0 1120.3 L652.0 1120.0 L653.0 1119.7 L654.0 1119.5 L655.0 1119.2 L656.0 1119.0 L657.0 1118.7 L658.0 1118.4 L659.0 1118.2 L660.0 1117.9 L661.0 1117.6 L662.0 1117.3 L663.0 1117.0 L664.0 1116.8 L665.0 1116.5 L666.0 1116.2 L667.0 1115.8 L668.0 1115.5 L669.0 1115.2 L670.0 1114.9 L671.0 1114.6 L672.0 1114.2 L673.0 1113.9 L674.0 1113.6 L675.0 1113.2 L676.0 1112.9 L677.0 1112.5 L678.0 1112.2 L679.0 1111.8 L680.0 1111.4 L681.0 1111.1 L682.0 1110.7 L683.0 1110.3 L684.0 1109.9 L685.0 1109.5 L686.0 1109.1 L687.0 1108.7 L688.0 1108.3 L689.0 1107.9 L690.0 1107.4 L691.0 1107.0 L692.0 1106.5 L693.0 1106.1 L694.0 1105.6 L695.0 1105.2 L696.0 1104.7 L697.0 1104.3 L698.0 1103.8 L699.0 1103.3 L700.0 1102.8 L701.0 1102.4 L702.0 1101.9 L703.0 1101.3 L704.0 1100.8 L705.0 1100.3 L706.0 1099.7 L707.0 1099.2 L708.0 1098.6 L709.0 1098.0 L710.0 1097.3 L711.0 1096.7 L712.0 1096.0 L713.0 1095.3 L714.0 1094.5 L715.0 1093.7 L716.0 1092.9 L717.0 1092.0 L718.0 1091.1 L719.0 1090.1 L720.0 1089.1 L721.0 1088.1 L722.0 1087.0 L723.0 1085.9 L724.0 1084.7 L725.0 1083.5 L726.0 1082.3 L727.0 1081.0 L728.0 1079.7 L729.0 1078.4 L730.0 1077.0 L731.0 1075.5 L732.0 1073.9 L733.0 1072.1 L734.0 1070.3 L735.0 1068.5 L736.0 1066.6 L737.0 1064.7 L738.0 1062.7 L739.0 1060.7 L740.0 1058.6 L741.0 1056.4 L742.0 1054.1 L743.0 1051.7 L744.0 1049.1 L745.0 1046.4 L746.0 1043.5 L747.0 1040.4 L748.0 1037.2 L749.0 1033.9 L750.0 1030.3 L751.0 1026.5 L752.0 1022.7 L753.0 1019.0 L754.0 1015.3 L755.0 1011.7 L756.0 1007.8 L757.0 1003.7 L758.0 998.9 L759.0 993.7 L760.0 988.6 L761.0 983.6 L762.0 978.6 L763.0 973.6 L764.0 968.8 L765.0 964.1 L766.0 958.8 L767.0 952.1 L768.0 944.4 L769.0 936.7 L770.0 928.9 L771.0 921.5 L772.0 914.1 L773.0 906.3 L774.0 897.3 L775.0 882.2 L776.0 860.4 L777.0 831.7 L778.0 809.9 L779.0 796.3 L780.0 784.2 L781.0 768.5 L782.0 748.4 L783.0 728.1 L784.0 707.7 L785.0 690.7 L786.0 676.8 L787.0 664.1 L788.0 651.2 L789.0 639.1 L790.0 626.0 L791.0 608.3 L792.0 585.3 L793.0 572.8 L794.0 565.0 L795.0 558.4 L796.0 550.0 L797.0 541.2 L798.0 538.1 L799.0 536.7 L800.0 535.8 L801.0 535.5 L802.0 535.6 L803.0 535.9 L804.0 536.4 L805.0 537.0 L806.0 538.5 L807.0 541.9 L808.0 547.9 L809.0 576.1 L810.0 598.2 L811.0 616.4 L812.0 635.9 L813.0 655.6 L814.0 676.2 L815.0 696.9 L816.0 716.7 L817.0 736.2 L818.0 756.7 L819.0 775.5 L820.0 790.0 L821.0 802.8 L822.0 816.2 L823.0 830.6 L824.0 845.8 L825.0 862.2 L826.0 882.9 L827.0 911.3 L828.0 923.0 L829.0 941.2 L830.0 958.1 L831.0 968.2 L832.0 977.3 L833.0 987.8 L834.0 997.7 L835.0 1004.7 L836.0 1009.7 L837.0 1014.1 L838.0 1019.2 L839.0 1026.5 L840.0 1034.7 L841.0 1041.1 L842.0 1046.6 L843.0 1051.5 L844.0 1055.6 L845.0 1058.8 L846.0 1061.6 L847.0 1064.0 L848.0 1066.2 L849.0 1068.4 L850.0 1070.6 L851.0 1072.7 L852.0 1074.8 L853.0 1076.7 L854.0 1078.6 L855.0 1080.4 L856.0 1082.2 L857.0 1084.0 L858.0 1085.7 L859.0 1087.4 L860.0 1089.0 L861.0 1090.6 L862.0 1092.0 L863.0 1093.3 L864.0 1094.4 L865.0 1095.5 L866.0 1096.5 L867.0 1097.5 L868.0 1098.4 L869.0 1099.2 L870.0 1100.0 L871.0 1100.8 L872.0 1101.5 L873.0 1102.2 L874.0 1102.9 L875.0 1103.6 L876.0 1104.4 L877.0 1105.1 L878.0 1105.7 L879.0 1106.3 L880.0 1106.8 L881.0 1107.2 L882.0 1107.4 L883.0 1107.6 L884.0 1107.8 L885.0 1107.9 L886.0 1108.0 L887.0 1108.2 L888.0 1108.3 L889.0 1108.4 L890.0 1108.4 L891.0 1108.5 L892.0 1108.5 L893.0 1108.5 L894.0 1108.5 L895.0 1108.4 L896.0 1108.3 L897.0 1108.2 L898.0 1108.0 L899.0 1107.8 L900.0 1107.6 L901.0 1107.4 L902.0 1107.1 L903.0 1106.8 L904.0 1106.5 L905.0 1106.2 L906.0 1105.9 L907.0 1105.5 L908.0 1105.2 L909.0 1104.8 L910.0 1104.4 L911.0 1104.0 L912.0 1103.5 L913.0 1103.0 L914.0 1102.3 L915.0 1101.5 L916.0 1100.6 L917.0 1099.6 L918.0 1098.6 L919.0 1097.5 L920.0 1096.4 L921.0 1095.2 L922.0 1094.0 L923.0 1092.7 L924.0 1091.3 L925.0 1089.8 L926.0 1088.1 L927.0 1086.4 L928.0 1084.6 L929.0 1082.8 L930.0 1080.9 L931.0 1079.0 L932.0 1077.1 L933.0 1075.1 L934.0 1073.0 L935.0 1070.8 L936.0 1068.5 L937.0 1066.1 L938.0 1063.5 L939.0 1060.7 L940.0 1057.5 L941.0 1054.1 L942.0 1050.4 L943.0 1046.4 L944.0 1042.3 L945.0 1038.1 L946.0 1033.7 L947.0 1029.1 L948.0 1024.1 L949.0 1018.9 L950.0 1013.5 L951.0 1008.0 L952.0 1002.4 L953.0 996.5 L954.0 990.3 L955.0 983.8 L956.0 976.8 L957.0 969.3 L958.0 961.2 L959.0 952.1 L960.0 942.0 L961.0 931.8 L962.0 922.2 L963.0 911.8 L964.0 897.8 L965.0 882.6 L966.0 871.9 L967.0 862.6 L968.0 852.9 L969.0 842.4 L970.0 832.9 L971.0 824.9 L972.0 817.3 L973.0 811.4 L974.0 808.0 L975.0 805.5 L976.0 803.3 L977.0 801.7 L978.0 800.7 L979.0 800.5 L980.0 801.1 L981.0 802.4 L982.0 804.4 L983.0 806.8 L984.0 809.9 L985.0 817.6 L986.0 827.7 L987.0 835.9 L988.0 843.1 L989.0 850.4 L990.0 858.7 L991.0 868.7 L992.0 878.9 L993.0 887.5 L994.0 894.7 L995.0 901.8 L996.0 910.0 L997.0 919.5 L998.0 929.7 L999.0 940.1 L1000.0 950.8 L1001.0 960.4 L1002.0 968.4 L1003.0 975.6 L1004.0 982.4 L1005.0 989.1 L1006.0 995.7 L1007.0 1001.9 L1008.0 1007.7 L1009.0 1012.8 L1010.0 1017.4 L1011.0 1021.7 L1012.0 1025.7 L1013.0 1029.3 L1014.0 1032.6 L1015.0 1035.5 L1016.0 1038.3 L1017.0 1041.0 L1018.0 1043.7 L1019.0 1046.2 L1020.0 1048.7 L1021.0 1051.3 L1022.0 1053.9 L1023.0 1056.3 L1024.0 1058.6 L1025.0 1060.5 L1026.0 1062.2 L1027.0 1063.7 L1028.0 1065.3 L1029.0 1066.9 L1030.0 1068.6 L1031.0 1070.4 L1032.0 1072.2 L1033.0 1073.8 L1034.0 1075.3 L1035.0 1076.7 L1036.0 1078.0 L1037.0 1079.3 L1038.0 1080.4 L1039.0 1081.5 L1040.0 1082.3 L1041.0 1083.1 L1042.0 1083.9 L1043.0 1084.5 L1044.0 1085.2 L1045.0 1085.7 L1046.0 1086.3 L1047.0 1086.9 L1048.0 1087.5 L1049.0 1088.0 L1050.0 1088.6 L1051.0 1089.1 L1052.0 1089.6 L1053.0 1090.1 L1054.0 1090.6 L1055.0 1091.1 L1056.0 1091.5 L1057.0 1091.9 L1058.0 1092.3 L1059.0 1092.7 L1060.0 1093.1 L1061.0 1093.5 L1062.0 1093.9 L1063.0 1094.2 L1064.0 1094.6 L1065.0 1094.9 L1066.0 1095.3 L1067.0 1095.6 L1068.0 1096.0 L1069.0 1096.3 L1070.0 1096.6 L1071.0 1097.0 L1072.0 1097.3 L1073.0 1097.6 L1074.0 1097.9 L1075.0 1098.2 L1076.0 1098.5 L1077.0 1098.8 L1078.0 1099.1 L1079.0 1099.4 L1080.0 1099.7 L1081.0 1099.9 L1082.0 1100.1 L1083.0 1100.2 L1084.0 1100.3 L1085.0 1100.3 L1086.0 1100.4 L1087.0 1100.4 L1088.0 1100.5 L1089.0 1100.5 L1090.0 1100.6 L1091.0 1100.6 L1092.0 1100.6 L1093.0 1100.7 L1094.0 1100.7 L1095.0 1100.8 L1096.0 1100.8 L1097.0 1100.9 L1098.0 1101.0 L1099.0 1101.1 L1100.0 1101.2 L1101.0 1101.3 L1102.0 1101.4 L1103.0 1101.6 L1104.0 1101.7 L1105.0 1101.8 L1106.0 1101.9 L1107.0 1102.0 L1108.0 1102.1 L1109.0 1102.1 L1110.0 1102.2 L1111.0 1102.3 L1112.0 1102.3 L1113.0 1102.4 L1114.0 1102.4 L1115.0 1102.5 L1116.0 1102.5 L1117.0 1102.6 L1118.0 1102.6 L1119.0 1102.6 L1120.0 1102.7 L1121.0 1102.7 L1122.0 1102.7 L1123.0 1102.8 L1124.0 1102.8 L1125.0 1102.8 L1126.0 1102.9 L1127.0 1102.9 L1128.0 1102.9 L1129.0 1102.9 L1130.0 1103.0 L1131.0 1103.0 L1132.0 1103.0 L1133.0 1103.0 L1134.0 1103.1 L1135.0 1103.1 L1136.0 1103.1 L1137.0 1103.1 L1138.0 1103.1 L1139.0 1103.2 L1140.0 1103.2 L1141.0 1103.2 L1142.0 1103.2 L1143.0 1103.2 L1144.0 1103.3 L1145.0 1103.3 L1146.0 1103.3 L1147.0 1103.3 L1148.0 1103.3 L1149.0 1103.4 L1150.0 1103.4 L1151.0 1103.4 L1152.0 1103.4 L1153.0 1103.5 L1154.0 1103.5 L1155.0 1103.5 L1156.0 1103.5 L1157.0 1103.6 L1158.0 1103.6 L1159.0 1103.6 L1160.0 1103.7 L1161.0 1103.7 L1162.0 1103.7 L1163.0 1103.8 L1164.0 1103.8 L1165.0 1103.9 L1166.0 1103.9 L1167.0 1104.0 L1168.0 1104.0 L1169.0 1104.1 L1170.0 1104.2 L1171.0 1104.3 L1172.0 1104.3 L1173.0 1104.4 L1174.0 1104.5 L1175.0 1104.6 L1176.0 1104.7 L1177.0 1104.7 L1178.0 1104.8 L1179.0 1104.9 L1180.0 1105.0 L1181.0 1105.1 L1182.0 1105.2 L1183.0 1105.2 L1184.0 1105.3 L1185.0 1105.4 L1186.0 1105.5 L1187.0 1105.6 L1188.0 1105.6 L1189.0 1105.7 L1190.0 1105.8 L1191.0 1105.9 L1192.0 1105.9 L1193.0 1106.0 L1194.0 1106.0 L1195.0 1106.1 L1196.0 1106.1 L1197.0 1106.2 L1198.0 1106.2 L1199.0 1106.2 L1200.0 1106.3 L1201.0 1106.3 L1202.0 1106.3 L1203.0 1106.3 L1204.0 1106.3 L1205.0 1106.3 L1206.0 1106.3 L1207.0 1106.4 L1208.0 1106.4 L1209.0 1106.4 L1210.0 1106.4 L1211.0 1106.4 L1212.0 1106.4 L1213.0 1106.4 L1214.0 1106.4 L1215.0 1106.4 L1216.0 1106.4 L1217.0 1106.4 L1218.0 1106.4 L1219.0 1106.4 L1220.0 1106.4 L1221.0 1106.4 L1222.0 1106.4 L1223.0 1106.5 L1224.0 1106.5 L1225.0 1106.5 L1226.0 1106.5 L1227.0 1106.5 L1228.0 1106.5 L1229.0 1106.5 L1230.0 1106.5 L1231.0 1106.5 L1232.0 1106.5 L1233.0 1106.5 L1234.0 1106.5 L1235.0 1106.5 L1236.0 1106.5 L1237.0 1106.5 L1238.0 1106.5 L1239.0 1106.5 L1240.0 1106.5 L1241.0 1106.5 L1242.0 1106.5 L1243.0 1106.5 L1244.0 1106.5 L1245.0 1106.5 L1246.0 1106.5 L1247.0 1106.5 L1248.0 1106.5 L1249.0 1106.6 L1250.0 1106.6 L1251.0 1106.6 L1252.0 1106.6 L1253.0 1106.6 L1254.0 1106.6 L1255.0 1106.6 L1256.0 1106.6 L1257.0 1106.6 L1258.0 1106.6 L1259.0 1106.7 L1260.0 1106.7 L1261.0 1106.7 L1262.0 1106.7 L1263.0 1106.7 L1264.0 1106.8 L1265.0 1106.9 L1266.0 1107.0 L1267.0 1107.2 L1268.0 1107.5 L1269.0 1107.7 L1270.0 1108.0 L1271.0 1108.3 L1272.0 1108.6 L1273.0 1108.9 L1274.0 1109.2 L1275.0 1109.5 L1276.0 1109.9 L1277.0 1110.2 L1278.0 1110.5 L1279.0 1110.8 L1280.0 1111.1 L1281.0 1111.4 L1282.0 1111.7 L1283.0 1111.9 L1284.0 1112.1 L1285.0 1112.3 L1286.0 1112.6 L1287.0 1112.8 L1288.0 1113.0 L1289.0 1113.2 L1290.0 1113.4 L1291.0 1113.6 L1292.0 1113.9 L1293.0 1114.1 L1294.0 1114.3 L1295.0 1114.5 L1296.0 1114.7 L1297.0 1114.9 L1298.0 1115.1 L1299.0 1115.3 L1300.0 1115.5 L1301.0 1115.7 L1302.0 1115.9 L1303.0 1116.1 L1304.0 1116.3 L1305.0 1116.5 L1306.0 1116.7 L1307.0 1116.9 L1308.0 1117.1 L1309.0 1117.3 L1310.0 1117.5 L1311.0 1117.6 L1312.0 1117.8 L1313.0 1118.0 L1314.0 1118.2 L1315.0 1118.4 L1316.0 1118.6 L1317.0 1118.7 L1318.0 1118.9 L1319.0 1119.1 L1320.0 1119.3 L1321.0 1119.5 L1322.0 1119.6 L1323.0 1119.8 L1324.0 1120.0 L1325.0 1120.1 L1326.0 1120.3 L1327.0 1120.5 L1328.0 1120.7 L1329.0 1120.8 L1330.0 1121.0 L1331.0 1121.2 L1332.0 1121.3 L1333.0 1121.5 L1334.0 1121.7 L1335.0 1121.8 L1336.0 1122.0 L1337.0 1122.2 L1338.0 1122.3 L1339.0 1122.5 L1340.0 1122.6 L1341.0 1122.8 L1342.0 1123.0 L1343.0 1123.1 L1344.0 1123.3 L1345.0 1123.4 L1346.0 1123.6 L1347.0 1123.7 L1348.0 1123.9 L1349.0 1124.0 L1350.0 1124.2 L1351.0 1124.3 L1352.0 1124.4 L1353.0 1124.6 L1354.0 1124.7 L1355.0 1124.9 L1356.0 1125.0 L1357.0 1125.1 L1358.0 1125.2 L1359.0 1125.4 L1360.0 1125.5 L1361.0 1125.6 L1362.0 1125.7 L1363.0 1125.9 L1364.0 1126.0 L1365.0 1126.1 L1366.0 1126.2 L1367.0 1126.3 L1368.0 1126.4 L1369.0 1126.5 L1370.0 1126.6 L1371.0 1126.6 L1372.0 1126.7 L1373.0 1126.8 L1374.0 1126.9 L1375.0 1126.9 L1376.0 1127.0 L1377.0 1127.1 L1378.0 1127.1 L1379.0 1127.2 L1380.0 1127.3 L1381.0 1127.3 L1382.0 1127.4 L1383.0 1127.4 L1384.0 1127.5 L1385.0 1127.5 L1386.0 1127.6 L1387.0 1127.6 L1388.0 1127.7 L1389.0 1127.8 L1390.0 1127.8 L1391.0 1127.9 L1392.0 1127.9 L1393.0 1128.0 L1394.0 1128.1 L1395.0 1128.1 L1396.0 1128.2 L1397.0 1128.2 L1398.0 1128.3 L1399.0 1128.4 L1400.0 1128.5 L1401.0 1128.5 L1402.0 1128.6 L1403.0 1128.7 L1404.0 1128.8 L1405.0 1128.9 L1406.0 1129.0 L1407.0 1129.1 L1408.0 1129.2 L1409.0 1129.3 L1410.0 1129.5 L1411.0 1129.6 L1412.0 1129.7 L1413.0 1129.8 L1414.0 1130.0 L1415.0 1130.1 L1416.0 1130.3 L1417.0 1130.5 L1418.0 1130.6 L1419.0 1130.8 L1420.0 1131.0 L1421.0 1131.4 L1422.0 1132.0 L1423.0 1132.7 L1424.0 1133.5 L1425.0 1134.0 L1426.0 1134.2 L1427.0 1134.2 L1428.0 1134.2 L1429.0 1134.2 L1430.0 1134.2 L1431.0 1134.2 L1432.0 1134.2 L1433.0 1134.2 L1434.0 1134.2 L1435.0 1134.2 L1436.0 1134.2 L1437.0 1134.2 L1438.0 1134.2 L1439.0 1134.2 L1440.0 1134.2 L1441.0 1134.2 L1442.0 1134.2 L1443.0 1134.2 L1444.0 1134.2 L1445.0 1134.2 L1446.0 1134.2 L1447.0 1134.2 L1448.0 1134.2 L1449.0 1134.2 L1450.0 1134.2 L1451.0 1134.2 L1452.0 1134.2 L1453.0 1134.2 L1454.0 1134.2 L1455.0 1134.2 L1456.0 1134.2 L1457.0 1134.2 L1458.0 1134.2 L1459.0 1134.2 L1460.0 1134.2 L1461.0 1134.2 L1462.0 1134.2 L1463.0 1134.2 L1464.0 1134.2 L1465.0 1134.2 L1466.0 1134.2 L1467.0 1134.2 L1468.0 1134.2 L1469.0 1134.2 L1470.0 1134.2 L1471.0 1134.2 L1472.0 1134.2 L1473.0 1134.2 L1474.0 1134.2 L1475.0 1134.2 L1476.0 1134.2 L1477.0 1134.1 L1478.0 1134.1 L1479.0 1134.1 L1480.0 1134.1 L1481.0 1134.1 L1482.0 1134.1 L1483.0 1134.1 L1484.0 1134.1 L1485.0 1134.1 L1486.0 1134.1 L1487.0 1134.0 L1488.0 1134.0 L1489.0 1134.0 L1490.0 1134.0 L1491.0 1134.0 L1492.0 1133.9 L1493.0 1133.7 L1494.0 1133.5 L1495.0 1133.3 L1496.0 1133.0 L1497.0 1132.6 L1498.0 1132.3 L1499.0 1131.9 L1500.0 1131.5 L1501.0 1131.0 L1502.0 1130.6 L1503.0 1130.2 L1504.0 1129.7 L1505.0 1129.1 L1506.0 1128.3 L1507.0 1127.5 L1508.0 1126.7 L1509.0 1125.9 L1510.0 1125.2 L1511.0 1124.6 L1512.0 1124.2 L1513.0 1124.0 L1514.0 1124.0 L1515.0 1124.1 L1516.0 1124.2 L1517.0 1124.3 L1518.0 1124.4 L1519.0 1124.6 L1520.0 1124.7 L1521.0 1124.8 L1522.0 1124.9 L1523.0 1125.0 L1524.0 1125.0 L1525.0 1125.0 L1526.0 1124.9 L1527.0 1124.8 L1528.0 1124.7 L1529.0 1124.6 L1530.0 1124.5 L1531.0 1124.4 L1532.0 1124.3 L1533.0 1124.2 L1534.0 1124.1 L1535.0 1124.0 L1536.0 1124.0 L1537.0 1124.0 L1538.0 1124.2 L1539.0 1124.4 L1540.0 1124.6 L1541.0 1125.0 L1542.0 1125.4 L1543.0 1125.8 L1544.0 1126.3 L1545.0 1126.8 L1546.0 1127.4 L1547.0 1127.9 L1548.0 1128.4 L1549.0 1128.9 L1550.0 1129.4 L1551.0 1129.9 L1552.0 1130.3 L1553.0 1130.6 L1554.0 1130.9 L1555.0 1131.1 L1556.0 1131.3 L1557.0 1131.3 L1558.0 1131.3 L1559.0 1131.3 L1560.0 1131.2 L1561.0 1131.2 L1562.0 1131.1 L1563.0 1131.1 L1564.0 1131.0 L1565.0 1130.9 L1566.0 1130.8 L1567.0 1130.5 L1568.0 1130.1 L1569.0 1129.6 L1570.0 1129.2 L1571.0 1128.7 L1572.0 1128.4 L1573.0 1128.2 L1574.0 1128.2 L1575.0 1128.2 L1576.0 1128.2 L1577.0 1128.2 L1578.0 1128.2 L1579.0 1128.2 L1580.0 1128.2 L1581.0 1128.2 L1582.0 1128.2 L1583.0 1128.2 L1584.0 1128.2 L1585.0 1128.2 L1586.0 1128.2 L1587.0 1128.2 L1588.0 1128.2 L1589.0 1128.2 L1590.0 1128.2 L1591.0 1128.2 L1592.0 1128.2 L1593.0 1128.2 L1594.0 1128.2 L1595.0 1128.2 L1596.0 1128.2 L1597.0 1128.2 L1598.0 1128.2 L1599.0 1128.2 L1600.0 1128.2 L1601.0 1128.2 L1602.0 1128.2 L1603.0 1128.2 L1604.0 1128.0 L1605.0 1127.8 L1606.0 1127.4 L1607.0 1127.0 L1608.0 1126.5 L1609.0 1126.0 L1610.0 1125.5 L1611.0 1125.0 L1612.0 1124.6 L1613.0 1124.3 L1614.0 1124.1 L1615.0 1124.0 L1616.0 1124.0 L1617.0 1124.1 L1618.0 1124.2 L1619.0 1124.4 L1620.0 1124.6 L1621.0 1124.9 L1622.0 1125.1 L1623.0 1125.4 L1624.0 1125.7 L1625.0 1126.0 L1626.0 1126.3 L1627.0 1126.6 L1628.0 1126.9 L1629.0 1127.2 L1630.0 1127.4 L1631.0 1127.6 L1632.0 1127.8 L1633.0 1128.0 L1634.0 1128.1 L1635.0 1128.2 L1636.0 1128.2 L1637.0 1128.1 L1638.0 1127.9 L1639.0 1127.6 L1640.0 1127.2 L1641.0 1126.8 L1642.0 1126.3 L1643.0 1125.7 L1644.0 1125.2 L1645.0 1124.6 L1646.0 1124.0 L1647.0 1123.4 L1648.0 1122.9 L1649.0 1122.4 L1650.0 1121.9 L1651.0 1121.5 L1652.0 1121.2 L1653.0 1121.0 L1654.0 1120.9 L1655.0 1120.9 L1656.0 1121.0 L1657.0 1121.1 L1658.0 1121.3 L1659.0 1121.6 L1660.0 1121.8 L1661.0 1122.2 L1662.0 1122.5 L1663.0 1122.9 L1664.0 1123.3 L1665.0 1123.7 L1666.0 1124.1 L1667.0 1124.5 L1668.0 1124.9 L1669.0 1125.3 L1670.0 1125.6 L1671.0 1126.0 L1672.0 1126.3 L1673.0 1126.5 L1674.0 1126.8 L1675.0 1126.9 L1676.0 1127.1 L1677.0 1127.1 L1678.0 1127.1 L1679.0 1127.1 L1680.0 1127.0 L1681.0 1127.0 L1682.0 1126.9 L1683.0 1126.8 L1684.0 1126.7 L1685.0 1126.5 L1686.0 1126.4 L1687.0 1126.3 L1688.0 1126.1 L1689.0 1125.9 L1690.0 1125.7 L1691.0 1125.6 L1692.0 1125.4 L1693.0 1125.2 L1694.0 1125.0 L1695.0 1124.7 L1696.0 1124.2 L1697.0 1123.7 L1698.0 1123.1 L1699.0 1122.4 L1700.0 1121.7 L1701.0 1121.0 L1702.0 1120.2 L1703.0 1119.5 L1704.0 1118.7 L1705.0 1118.0 L1706.0 1117.4 L1707.0 1116.8 L1708.0 1116.4 L1709.0 1116.0 L1710.0 1115.8 L1711.0 1115.6 L1712.0 1115.5 L1713.0 1115.5 L1714.0 1115.4 L1715.0 1115.4 L1716.0 1115.3 L1717.0 1115.3 L1718.0 1115.3 L1719.0 1115.2 L1720.0 1115.2 L1721.0 1115.1 L1722.0 1115.1 L1723.0 1115.1 L1724.0 1115.0 L1725.0 1114.9 L1726.0 1114.8 L1727.0 1114.7 L1728.0 1114.5 L1729.0 1114.0 L1730.0 1113.4 L1731.0 1112.7 L1732.0 1111.8 L1733.0 1110.8 L1734.0 1109.8 L1735.0 1108.7 L1736.0 1107.6 L1737.0 1106.1 L1738.0 1104.4 L1739.0 1102.5 L1740.0 1100.3 L1741.0 1098.1 L1742.0 1095.8 L1743.0 1093.4 L1744.0 1090.9 L1745.0 1088.0 L1746.0 1084.7 L1747.0 1081.3 L1748.0 1078.1 L1749.0 1075.1 L1750.0 1072.8 L1751.0 1070.5 L1752.0 1068.2 L1753.0 1066.1 L1754.0 1064.4 L1755.0 1063.2 L1756.0 1062.8 L1757.0 1063.0 L1758.0 1063.7 L1759.0 1064.6 L1760.0 1065.9 L1761.0 1067.4 L1762.0 1069.1 L1763.0 1070.8 L1764.0 1072.7 L1765.0 1074.7 L1766.0 1077.4 L1767.0 1080.7 L1768.0 1084.2 L1769.0 1087.6 L1770.0 1090.6 L1771.0 1093.1 L1772.0 1095.5 L1773.0 1097.9 L1774.0 1100.2 L1775.0 1102.4 L1776.0 1104.4 L1777.0 1106.1 L1778.0 1107.5 L1779.0 1108.6 L1780.0 1109.5 L1781.0 1110.4 L1782.0 1111.2 L1783.0 1111.9 L1784.0 1112.5 L1785.0 1113.0 L1786.0 1113.3 L1787.0 1113.6 L1788.0 1113.7 L1789.0 1113.9 L1790.0 1114.0 L1791.0 1114.1 L1792.0 1114.3 L1793.0 1114.4 L1794.0 1114.4 L1795.0 1114.5 L1796.0 1114.6 L1797.0 1114.6 L1798.0 1114.7 L1799.0 1114.7 L1800.0 1114.7" stroke="#f00" stroke-width="5" fill="none" stroke-linejoin="round"/>
<path d="M213.0 1408.0 L214.0 1408.0 L215.0 1408.0 L216.0 1408.0 L217.0 1408.0 L218.0 1408.0 L219.0 1408.0 L220.0 1408.0 L221.0 1408.0 L222.0 1408.0 L223.0 1408.0 L224.0 1408.0 L225.0 1407.9 L226.0 1407.9 L227.0 1407.9 L228.0 1407.9 L229.0 1407.9 L230.0 1407.9 L231.0 1407.9 L232.0 1407.9 L233.0 1407.9 L234.0 1407.8 L235.0 1407.8 L236.0 1407.8 L237.0 1407.8 L238.0 1407.8 L239.0 1407.8 L240.0 1407.7 L241.0 1407.7 L242.0 1407.7 L243.0 1407.7 L244.0 1407.7 L245.0 1407.7 L246.0 1407.6 L247.0 1407.6 L248.0 1407.6 L249.0 1407.6 L250.0 1407.5 L251.0 1407.5 L252.0 1407.5 L253.0 1407.5 L254.0 1407.5 L255.0 1407.4 L256.0 1407.4 L257.0 1407.4 L258.0 1407.4 L259.0 1407.3 L260.0 1407.3 L261.0 1407.3 L262.0 1407.2 L263.0 1407.2 L264.0 1407.2 L265.0 1407.2 L266.0 1407.1 L267.0 1407.1 L268.0 1407.1 L269.0 1407.0 L270.0 1407.0 L271.0 1407.0 L272.0 1406.9 L273.0 1406.9 L274.0 1406.9 L275.0 1406.9 L276.0 1406.8 L277.0 1406.8 L278.0 1406.8 L279.0 1406.7 L280.0 1406.7 L281.0 1406.7 L282.0 1406.6 L283.0 1406.6 L284.0 1406.6 L285.0 1406.5 L286.0 1406.5 L287.0 1406.5 L288.0 1406.4 L289.0 1406.4 L290.0 1406.4 L291.0 1406.3 L292.0 1406.3 L293.0 1406.2 L294.0 1406.2 L295.0 1406.2 L296.0 1406.1 L297.0 1406.1 L298.0 1406.1 L299.0 1406.0 L300.0 1406.0 L301.0 1406.0 L302.0 1405.9 L303.0 1405.9 L304.0 1405.8 L305.0 1405.8 L306.0 1405.8 L307.0 1405.7 L308.0 1405.7 L309.0 1405.6 L310.0 1405.6 L311.0 1405.5 L312.0 1405.5 L313.0 1405.4 L314.0 1405.4 L315.0 1405.3 L316.0 1405.3 L317.0 1405.2 L318.0 1405.2 L319.0 1405.1 L320.0 1405.0 L321.0 1405.0 L322.0 1404.9 L323.0 1404.9 L324.0 1404.8 L325.0 1404.7 L326.0 1404.7 L327.0 1404.6 L328.0 1404.5 L329.0 1404.5 L330.0 1404.4 L331.0 1404.3 L332.0 1404.3 L333.0 1404.2 L334.0 1404.1 L335.0 1404.0 L336.0 1404.0 L337.0 1403.9 L338.0 1403.8 L339.0 1403.7 L340.0 1403.6 L341.0 1403.6 L342.0 1403.5 L343.0 1403.4 L344.0 1403.3 L345.0 1403.2 L346.0 1403.1 L347.0 1403.1 L348.0 1403.0 L349.0 1402.9 L350.0 1402.8 L351.0 1402.7 L352.0 1402.6 L353.0 1402.5 L354.0 1402.4 L355.0 1402.3 L356.0 1402.2 L357.0 1402.1 L358.0 1402.0 L359.0 1401.9 L360.0 1401.8 L361.0 1401.7 L362.0 1401.6 L363.0 1401.5 L364.0 1401.4 L365.0 1401.3 L366.0 1401.2 L367.0 1401.1 L368.0 1401.0 L369.0 1400.9 L370.0 1400.8 L371.0 1400.7 L372.0 1400.6 L373.0 1400.5 L374.0 1400.4 L375.0 1400.2 L376.0 1400.1 L377.0 1399.9 L378.0 1399.8 L379.0 1399.6 L380.0 1399.5 L381.0 1399.3 L382.0 1399.1 L383.0 1398.9 L384.0 1398.8 L385.0 1398.6 L386.0 1398.4 L387.0 1398.2 L388.0 1398.0 L389.0 1397.8 L390.0 1397.6 L391.0 1397.4 L392.0 1397.2 L393.0 1397.0 L394.0 1396.9 L395.0 1396.7 L396.0 1396.5 L397.0 1396.3 L398.0 1396.1 L399.0 1396.0 L400.0 1395.8 L401.0 1395.6 L402.0 1395.5 L403.0 1395.3 L404.0 1395.2 L405.0 1395.1 L406.0 1394.9 L407.0 1394.8 L408.0 1394.7 L409.0 1394.6 L410.0 1394.5 L411.0 1394.4 L412.0 1394.2 L413.0 1394.1 L414.0 1394.0 L415.0 1393.9 L416.0 1393.8 L417.0 1393.7 L418.0 1393.6 L419.0 1393.5 L420.0 1393.4 L421.0 1393.3 L422.0 1393.2 L423.0 1393.1 L424.0 1393.0 L425.0 1392.9 L426.0 1392.8 L427.0 1392.7 L428.0 1392.7 L429.0 1392.6 L430.0 1392.5 L431.0 1392.4 L432.0 1392.3 L433.0 1392.2 L434.0 1392.1 L435.0 1392.0 L436.0 1392.0 L437.0 1391.9 L438.0 1391.8 L439.0 1391.7 L440.0 1391.6 L441.0 1391.5 L442.0 1391.5 L443.0 1391.4 L444.0 1391.3 L445.0 1391.2 L446.0 1391.2 L447.0 1391.1 L448.0 1391.0 L449.0 1391.0 L450.0 1390.9 L451.0 1390.8 L452.0 1390.8 L453.0 1390.7 L454.0 1390.6 L455.0 1390.5 L456.0 1390.5 L457.0 1390.4 L458.0 1390.3 L459.0 1390.3 L460.0 1390.2 L461.0 1390.1 L462.0 1390.0 L463.0 1390.0 L464.0 1389.9 L465.0 1389.8 L466.0 1389.7 L467.0 1389.6 L468.0 1389.5 L469.0 1389.4 L470.0 1389.3 L471.0 1389.2 L472.0 1389.1 L473.0 1389.0 L474.0 1388.8 L475.0 1388.7 L476.0 1388.6 L477.0 1388.5 L478.0 1388.3 L479.0 1388.2 L480.0 1388.1 L481.0 1387.9 L482.0 1387.8 L483.0 1387.6 L484.0 1387.5 L485.0 1387.3 L486.0 1387.2 L487.0 1387.0 L488.0 1386.9 L489.0 1386.7 L490.0 1386.5 L491.0 1386.4 L492.0 1386.2 L493.0 1386.1 L494.0 1385.9 L495.0 1385.7 L496.0 1385.6 L497.0 1385.4 L498.0 1385.2 L499.0 1385.0 L500.0 1384.9 L501.0 1384.7 L502.0 1384.5 L503.0 1384.4 L504.0 1384.2 L505.0 1384.0 L506.0 1383.8 L507.0 1383.6 L508.0 1383.4 L509.0 1383.2 L510.0 1383.0 L511.0 1382.8 L512.0 1382.6 L513.0 1382.4 L514.0 1382.2 L515.0 1382.0 L516.0 1381.7 L517.0 1381.5 L518.0 1381.3 L519.0 1381.1 L520.0 1380.9 L521.0 1380.6 L522.0 1380.4 L523.0 1380.2 L524.0 1380.0 L525.0 1379.8 L526.0 1379.5 L527.0 1379.3 L528.0 1379.1 L529.0 1378.9 L530.0 1378.7 L531.0 1378.4 L532.0 1378.2 L533.0 1378.0 L534.0 1377.8 L535.0 1377.6 L536.0 1377.4 L537.0 1377.2 L538.0 1377.0 L539.0 1376.8 L540.0 1376.5 L541.0 1376.3 L542.0 1376.1 L543.0 1375.9 L544.0 1375.7 L545.0 1375.5 L546.0 1375.3 L547.0 1375.0 L548.0 1374.8 L549.0 1374.6 L550.0 1374.4 L551.0 1374.2 L552.0 1374.0 L553.0 1373.8 L554.0 1373.6 L555.0 1373.4 L556.0 1373.2 L557.0 1373.0 L558.0 1372.8 L559.0 1372.6 L560.0 1372.4 L561.0 1372.2 L562.0 1372.0 L563.0 1371.8 L564.0 1371.6 L565.0 1371.4 L566.0 1371.3 L567.0 1371.1 L568.0 1370.9 L569.0 1370.8 L570.0 1370.6 L571.0 1370.4 L572.0 1370.3 L573.0 1370.1 L574.0 1370.0 L575.0 1369.8 L576.0 1369.7 L577.0 1369.5 L578.0 1369.4 L579.0 1369.2 L580.0 1369.1 L581.0 1368.9 L582.0 1368.8 L583.0 1368.6 L584.0 1368.5 L585.0 1368.3 L586.0 1368.2 L587.0 1368.1 L588.0 1367.9 L589.0 1367.8 L590.0 1367.6 L591.0 1367.5 L592.0 1367.4 L593.0 1367.2 L594.0 1367.1 L595.0 1367.0 L596.0 1366.8 L597.0 1366.7 L598.0 1366.5 L599.0 1366.4 L600.0 1366.3 L601.0 1366.1 L602.0 1366.0 L603.0 1365.9 L604.0 1365.7 L605.0 1365.6 L606.0 1365.5 L607.0 1365.3 L608.0 1365.2 L609.0 1365.1 L610.0 1365.0 L611.0 1364.9 L612.0 1364.7 L613.0 1364.6 L614.0 1364.5 L615.0 1364.4 L616.0 1364.2 L617.0 1364.1 L618.0 1364.0 L619.0 1363.9 L620.0 1363.7 L621.0 1363.6 L622.0 1363.4 L623.0 1363.3 L624.0 1363.2 L625.0 1363.0 L626.0 1362.8 L627.0 1362.7 L628.0 1362.5 L629.0 1362.3 L630.0 1362.2 L631.0 1362.0 L632.0 1361.8 L633.0 1361.6 L634.0 1361.4 L635.0 1361.2 L636.0 1361.0 L637.0 1360.8 L638.0 1360.6 L639.0 1360.3 L640.0 1360.1 L641.0 1359.9 L642.0 1359.7 L643.0 1359.4 L644.0 1359.2 L645.0 1359.0 L646.0 1358.7 L647.0 1358.5 L648.0 1358.3 L649.0 1358.0 L650.0 1357.8 L651.0 1357.6 L652.0 1357.4 L653.0 1357.1 L654.0 1356.9 L655.0 1356.7 L656.0 1356.4 L657.0 1356.2 L658.0 1356.0 L659.0 1355.8 L660.0 1355.6 L661.0 1355.3 L662.0 1355.1 L663.0 1354.9 L664.0 1354.7 L665.0 1354.5 L666.0 1354.3 L667.0 1354.1 L668.0 1353.8 L669.0 1353.6 L670.0 1353.4 L671.0 1353.2 L672.0 1353.0 L673.0 1352.8 L674.0 1352.6 L675.0 1352.4 L676.0 1352.1 L677.0 1351.9 L678.0 1351.7 L679.0 1351.5 L680.0 1351.3 L681.0 1351.1 L682.0 1350.9 L683.0 1350.6 L684.0 1350.4 L685.0 1350.2 L686.0 1350.0 L687.0 1349.8 L688.0 1349.6 L689.0 1349.3 L690.0 1349.1 L691.0 1348.9 L692.0 1348.7 L693.0 1348.5 L694.0 1348.2 L695.0 1348.0 L696.0 1347.8 L697.0 1347.6 L698.0 1347.3 L699.0 1347.1 L700.0 1346.9 L701.0 1346.7 L702.0 1346.4 L703.0 1346.2 L704.0 1346.0 L705.0 1345.8 L706.0 1345.5 L707.0 1345.3 L708.0 1345.1 L709.0 1344.8 L710.0 1344.6 L711.0 1344.4 L712.0 1344.2 L713.0 1343.9 L714.0 1343.7 L715.0 1343.5 L716.0 1343.2 L717.0 1343.0 L718.0 1342.8 L719.0 1342.6 L720.0 1342.3 L721.0 1342.1 L722.0 1341.9 L723.0 1341.7 L724.0 1341.4 L725.0 1341.2 L726.0 1341.0 L727.0 1340.8 L728.0 1340.6 L729.0 1340.4 L730.0 1340.2 L731.0 1339.9 L732.0 1339.7 L733.0 1339.5 L734.0 1339.3 L735.0 1339.1 L736.0 1338.9 L737.0 1338.6 L738.0 1338.4 L739.0 1338.2 L740.0 1338.0 L741.0 1337.7 L742.0 1337.5 L743.0 1337.3 L744.0 1337.0 L745.0 1336.8 L746.0 1336.5 L747.0 1336.2 L748.0 1336.0 L749.0 1335.7 L750.0 1335.4 L751.0 1335.1 L752.0 1334.9 L753.0 1334.6 L754.0 1334.2 L755.0 1333.9 L756.0 1333.6 L757.0 1333.3 L758.0 1333.0 L759.0 1332.6 L760.0 1332.3 L761.0 1331.9 L762.0 1331.6 L763.0 1331.2 L764.0 1330.8 L765.0 1330.5 L766.0 1330.1 L767.0 1329.7 L768.0 1329.3 L769.0 1328.9 L770.0 1328.5 L771.0 1328.1 L772.0 1327.7 L773.0 1327.3 L774.0 1326.9 L775.0 1326.5 L776.0 1326.0 L777.0 1325.6 L778.0 1325.2 L779.0 1324.7 L780.0 1324.3 L781.0 1323.8 L782.0 1323.3 L783.0 1322.8 L784.0 1322.3 L785.0 1321.7 L786.0 1321.2 L787.0 1320.6 L788.0 1320.0 L789.0 1319.4 L790.0 1318.8 L791.0 1318.2 L792.0 1317.6 L793.0 1317.0 L794.0 1316.4 L795.0 1315.8 L796.0 1315.2 L797.0 1314.6 L798.0 1314.0 L799.0 1313.5 L800.0 1312.9 L801.0 1312.3 L802.0 1311.8 L803.0 1311.3 L804.0 1310.8 L805.0 1310.3 L806.0 1309.8 L807.0 1309.4 L808.0 1309.0 L809.0 1308.6 L810.0 1308.2 L811.0 1307.8 L812.0 1307.3 L813.0 1306.9 L814.0 1306.5 L815.0 1306.1 L816.0 1305.7 L817.0 1305.3 L818.0 1304.9 L819.0 1304.5 L820.0 1304.2 L821.0 1303.9 L822.0 1303.6 L823.0 1303.4 L824.0 1303.2 L825.0 1303.1 L826.0 1303.0 L827.0 1302.9 L828.0 1302.9 L829.0 1303.1 L830.0 1303.3 L831.0 1303.6 L832.0 1304.0 L833.0 1304.5 L834.0 1305.0 L835.0 1305.5 L836.0 1306.0 L837.0 1306.6 L838.0 1307.1 L839.0 1307.6 L840.0 1308.0 L841.0 1308.5 L842.0 1309.0 L843.0 1309.5 L844.0 1310.0 L845.0 1310.6 L846.0 1311.1 L847.0 1311.7 L848.0 1312.2 L849.0 1312.8 L850.0 1313.4 L851.0 1313.9 L852.0 1314.5 L853.0 1315.1 L854.0 1315.6 L855.0 1316.1 L856.0 1316.6 L857.0 1317.1 L858.0 1317.6 L859.0 1318.1 L860.0 1318.5 L861.0 1318.9 L862.0 1319.3 L863.0 1319.6 L864.0 1319.9 L865.0 1320.2 L866.0 1320.5 L867.0 1320.8 L868.0 1321.2 L869.0 1321.5 L870.0 1321.8 L871.0 1322.1 L872.0 1322.4 L873.0 1322.7 L874.0 1322.9 L875.0 1323.2 L876.0 1323.5 L877.0 1323.8 L878.0 1324.0 L879.0 1324.3 L880.0 1324.5 L881.0 1324.7 L882.0 1325.0 L883.0 1325.2 L884.0 1325.4 L885.0 1325.5 L886.0 1325.7 L887.0 1325.9 L888.0 1326.0 L889.0 1326.1 L890.0 1326.2 L891.0 1326.3 L892.0 1326.3 L893.0 1326.4 L894.0 1326.4 L895.0 1326.4 L896.0 1326.4 L897.0 1326.3 L898.0 1326.3 L899.0 1326.2 L900.0 1326.1 L901.0 1325.9 L902.0 1325.8 L903.0 1325.6 L904.0 1325.5 L905.0 1325.3 L906.0 1325.1 L907.0 1324.9 L908.0 1324.7 L909.0 1324.5 L910.0 1324.2 L911.0 1324.0 L912.0 1323.7 L913.0 1323.5 L914.0 1323.2 L915.0 1323.0 L916.0 1322.7 L917.0 1322.4 L918.0 1322.2 L919.0 1321.9 L920.0 1321.6 L921.0 1321.3 L922.0 1321.0 L923.0 1320.6 L924.0 1320.3 L925.0 1319.9 L926.0 1319.5 L927.0 1319.0 L928.0 1318.6 L929.0 1318.1 L930.0 1317.7 L931.0 1317.2 L932.0 1316.7 L933.0 1316.1 L934.0 1315.6 L935.0 1315.1 L936.0 1314.5 L937.0 1313.9 L938.0 1313.4 L939.0 1312.8 L940.0 1312.2 L941.0 1311.5 L942.0 1310.9 L943.0 1310.3 L944.0 1309.7 L945.0 1309.0 L946.0 1308.4 L947.0 1307.7 L948.0 1307.0 L949.0 1306.3 L950.0 1305.6 L951.0 1304.8 L952.0 1304.0 L953.0 1303.2 L954.0 1302.3 L955.0 1301.4 L956.0 1300.5 L957.0 1299.6 L958.0 1298.6 L959.0 1297.7 L960.0 1296.7 L961.0 1295.7 L962.0 1294.7 L963.0 1293.6 L964.0 1292.6 L965.0 1291.6 L966.0 1290.5 L967.0 1289.4 L968.0 1288.4 L969.0 1287.3 L970.0 1286.2 L971.0 1285.2 L972.0 1284.1 L973.0 1283.0 L974.0 1282.0 L975.0 1280.9 L976.0 1279.8 L977.0 1278.7 L978.0 1277.6 L979.0 1276.5 L980.0 1275.4 L981.0 1274.3 L982.0 1273.1 L983.0 1271.9 L984.0 1270.8 L985.0 1269.6 L986.0 1268.3 L987.0 1267.1 L988.0 1265.8 L989.0 1264.5 L990.0 1263.2 L991.0 1261.9 L992.0 1260.5 L993.0 1259.1 L994.0 1257.6 L995.0 1256.0 L996.0 1254.4 L997.0 1252.7 L998.0 1250.9 L999.0 1249.2 L1000.0 1247.4 L1001.0 1245.6 L1002.0 1243.9 L1003.0 1242.1 L1004.0 1240.4 L1005.0 1238.8 L1006.0 1237.2 L1007.0 1235.8 L1008.0 1234.3 L1009.0 1232.9 L1010.0 1231.5 L1011.0 1230.2 L1012.0 1228.8 L1013.0 1227.5 L1014.0 1226.2 L1015.0 1225.0 L1016.0 1223.7 L1017.0 1222.5 L1018.0 1221.4 L1019.0 1220.2 L1020.0 1219.1" stroke="#00b050" stroke-width="5" fill="none" stroke-dasharray="14 19" stroke-linecap="round"/>
<path d="M213.0 1409.1 L214.0 1409.1 L215.0 1409.1 L216.0 1409.0 L217.0 1409.0 L218.0 1409.0 L219.0 1409.0 L220.0 1409.0 L221.0 1409.0 L222.0 1409.0 L223.0 1408.9 L224.0 1408.9 L225.0 1408.9 L226.0 1408.9 L227.0 1408.9 L228.0 1408.9 L229.0 1408.9 L230.0 1408.9 L231.0 1408.9 L232.0 1408.9 L233.0 1408.9 L234.0 1408.8 L235.0 1408.8 L236.0 1408.8 L237.0 1408.8 L238.0 1408.8 L239.0 1408.8 L240.0 1408.8 L241.0 1408.8 L242.0 1408.8 L243.0 1408.8 L244.0 1408.8 L245.0 1408.8 L246.0 1408.8 L247.0 1408.7 L248.0 1408.7 L249.0 1408.7 L250.0 1408.7 L251.0 1408.7 L252.0 1408.7 L253.0 1408.6 L254.0 1408.6 L255.0 1408.6 L256.0 1408.6 L257.0 1408.6 L258.0 1408.6 L259.0 1408.5 L260.0 1408.5 L261.0 1408.5 L262.0 1408.5 L263.0 1408.5 L264.0 1408.4 L265.0 1408.4 L266.0 1408.4 L267.0 1408.4 L268.0 1408.4 L269.0 1408.4 L270.0 1408.4 L271.0 1408.3 L272.0 1408.3 L273.0 1408.3 L274.0 1408.3 L275.0 1408.3 L276.0 1408.3 L277.0 1408.3 L278.0 1408.3 L279.0 1408.3 L280.0 1408.2 L281.0 1408.2 L282.0 1408.2 L283.0 1408.2 L284.0 1408.2 L285.0 1408.2 L286.0 1408.2 L287.0 1408.2 L288.0 1408.1 L289.0 1408.1 L290.0 1408.1 L291.0 1408.1 L292.0 1408.1 L293.0 1408.1 L294.0 1408.0 L295.0 1408.0 L296.0 1408.0 L297.0 1408.0 L298.0 1408.0 L299.0 1408.0 L300.0 1407.9 L301.0 1407.9 L302.0 1407.9 L303.0 1407.9 L304.0 1407.8 L305.0 1407.8 L306.0 1407.8 L307.0 1407.8 L308.0 1407.8 L309.0 1407.7 L310.0 1407.7 L311.0 1407.7 L312.0 1407.7 L313.0 1407.6 L314.0 1407.6 L315.0 1407.6 L316.0 1407.5 L317.0 1407.5 L318.0 1407.5 L319.0 1407.5 L320.0 1407.4 L321.0 1407.4 L322.0 1407.4 L323.0 1407.3 L324.0 1407.3 L325.0 1407.3 L326.0 1407.2 L327.0 1407.2 L328.0 1407.2 L329.0 1407.1 L330.0 1407.1 L331.0 1407.1 L332.0 1407.1 L333.0 1407.0 L334.0 1407.0 L335.0 1407.0 L336.0 1407.0 L337.0 1406.9 L338.0 1406.9 L339.0 1406.9 L340.0 1406.9 L341.0 1406.8 L342.0 1406.8 L343.0 1406.8 L344.0 1406.8 L345.0 1406.8 L346.0 1406.7 L347.0 1406.7 L348.0 1406.7 L349.0 1406.7 L350.0 1406.7 L351.0 1406.6 L352.0 1406.6 L353.0 1406.6 L354.0 1406.6 L355.0 1406.5 L356.0 1406.5 L357.0 1406.5 L358.0 1406.5 L359.0 1406.5 L360.0 1406.4 L361.0 1406.4 L362.0 1406.4 L363.0 1406.4 L364.0 1406.3 L365.0 1406.3 L366.0 1406.3 L367.0 1406.3 L368.0 1406.3 L369.0 1406.2 L370.0 1406.2 L371.0 1406.2 L372.0 1406.2 L373.0 1406.1 L374.0 1406.1 L375.0 1406.1 L376.0 1406.1 L377.0 1406.1 L378.0 1406.0 L379.0 1406.0 L380.0 1406.0 L381.0 1406.0 L382.0 1405.9 L383.0 1405.9 L384.0 1405.9 L385.0 1405.9 L386.0 1405.9 L387.0 1405.8 L388.0 1405.8 L389.0 1405.8 L390.0 1405.8 L391.0 1405.7 L392.0 1405.7 L393.0 1405.7 L394.0 1405.7 L395.0 1405.7 L396.0 1405.6 L397.0 1405.6 L398.0 1405.6 L399.0 1405.6 L400.0 1405.5 L401.0 1405.5 L402.0 1405.5 L403.0 1405.5 L404.0 1405.5 L405.0 1405.4 L406.0 1405.4 L407.0 1405.4 L408.0 1405.4 L409.0 1405.4 L410.0 1405.3 L411.0 1405.3 L412.0 1405.3 L413.0 1405.3 L414.0 1405.3 L415.0 1405.3 L416.0 1405.3 L417.0 1405.3 L418.0 1405.3 L419.0 1405.3 L420.0 1405.3 L421.0 1405.3 L422.0 1405.3 L423.0 1405.3 L424.0 1405.3 L425.0 1405.3 L426.0 1405.2 L427.0 1405.2 L428.0 1405.2 L429.0 1405.2 L430.0 1405.2 L431.0 1405.2 L432.0 1405.2 L433.0 1405.2 L434.0 1405.2 L435.0 1405.1 L436.0 1405.1 L437.0 1405.1 L438.0 1405.1 L439.0 1405.1 L440.0 1405.0 L441.0 1405.0 L442.0 1405.0 L443.0 1405.0 L444.0 1405.0 L445.0 1404.9 L446.0 1404.9 L447.0 1404.9 L448.0 1404.9 L449.0 1404.8 L450.0 1404.8 L451.0 1404.8 L452.0 1404.7 L453.0 1404.7 L454.0 1404.7 L455.0 1404.6 L456.0 1404.6 L457.0 1404.6 L458.0 1404.5 L459.0 1404.5 L460.0 1404.5 L461.0 1404.4 L462.0 1404.4 L463.0 1404.3 L464.0 1404.3 L465.0 1404.2 L466.0 1404.2 L467.0 1404.2 L468.0 1404.1 L469.0 1404.1 L470.0 1404.0 L471.0 1404.0 L472.0 1403.9 L473.0 1403.9 L474.0 1403.9 L475.0 1403.8 L476.0 1403.8 L477.0 1403.8 L478.0 1403.7 L479.0 1403.7 L480.0 1403.7 L481.0 1403.6 L482.0 1403.6 L483.0 1403.6 L484.0 1403.6 L485.0 1403.5 L486.0 1403.5 L487.0 1403.5 L488.0 1403.5 L489.0 1403.4 L490.0 1403.4 L491.0 1403.4 L492.0 1403.4 L493.0 1403.3 L494.0 1403.3 L495.0 1403.3 L496.0 1403.3 L497.0 1403.3 L498.0 1403.2 L499.0 1403.2 L500.0 1403.2 L501.0 1403.2 L502.0 1403.2 L503.0 1403.2 L504.0 1403.2 L505.0 1403.2 L506.0 1403.2 L507.0 1403.1 L508.0 1403.1 L509.0 1403.1 L510.0 1403.1 L511.0 1403.1 L512.0 1403.1 L513.0 1403.1 L514.0 1403.1 L515.0 1403.1 L516.0 1403.1 L517.0 1403.1 L518.0 1403.0 L519.0 1403.0 L520.0 1403.0 L521.0 1403.0 L522.0 1403.0 L523.0 1403.0 L524.0 1402.9 L525.0 1402.9 L526.0 1402.9 L527.0 1402.9 L528.0 1402.8 L529.0 1402.8 L530.0 1402.8 L531.0 1402.8 L532.0 1402.7 L533.0 1402.7 L534.0 1402.7 L535.0 1402.7 L536.0 1402.6 L537.0 1402.6 L538.0 1402.6 L539.0 1402.5 L540.0 1402.5 L541.0 1402.5 L542.0 1402.4 L543.0 1402.4 L544.0 1402.4 L545.0 1402.3 L546.0 1402.3 L547.0 1402.2 L548.0 1402.2 L549.0 1402.1 L550.0 1402.1 L551.0 1402.1 L552.0 1402.0 L553.0 1402.0 L554.0 1401.9 L555.0 1401.9 L556.0 1401.8 L557.0 1401.8 L558.0 1401.7 L559.0 1401.7 L560.0 1401.6 L561.0 1401.6 L562.0 1401.6 L563.0 1401.5 L564.0 1401.5 L565.0 1401.4 L566.0 1401.4 L567.0 1401.3 L568.0 1401.3 L569.0 1401.2 L570.0 1401.1 L571.0 1401.1 L572.0 1401.0 L573.0 1400.9 L574.0 1400.8 L575.0 1400.8 L576.0 1400.7 L577.0 1400.6 L578.0 1400.5 L579.0 1400.4 L580.0 1400.3 L581.0 1400.2 L582.0 1400.1 L583.0 1400.0 L584.0 1399.9 L585.0 1399.8 L586.0 1399.7 L587.0 1399.6 L588.0 1399.6 L589.0 1399.5 L590.0 1399.4 L591.0 1399.4 L592.0 1399.3 L593.0 1399.2 L594.0 1399.2 L595.0 1399.1 L596.0 1399.1 L597.0 1399.0 L598.0 1399.0 L599.0 1399.0 L600.0 1398.9 L601.0 1398.9 L602.0 1398.8 L603.0 1398.8 L604.0 1398.8 L605.0 1398.8 L606.0 1398.7 L607.0 1398.7 L608.0 1398.7 L609.0 1398.7 L610.0 1398.7 L611.0 1398.7 L612.0 1398.6 L613.0 1398.6 L614.0 1398.6 L615.0 1398.6 L616.0 1398.7 L617.0 1398.7 L618.0 1398.7 L619.0 1398.7 L620.0 1398.7 L621.0 1398.7 L622.0 1398.8 L623.0 1398.8 L624.0 1398.8 L625.0 1398.9 L626.0 1398.9 L627.0 1398.9 L628.0 1399.0 L629.0 1399.0 L630.0 1399.0 L631.0 1399.0 L632.0 1399.0 L633.0 1399.0 L634.0 1399.0 L635.0 1399.0 L636.0 1399.0 L637.0 1399.0 L638.0 1399.0 L639.0 1398.9 L640.0 1398.9 L641.0 1398.9 L642.0 1398.9 L643.0 1398.8 L644.0 1398.8 L645.0 1398.7 L646.0 1398.7 L647.0 1398.7 L648.0 1398.6 L649.0 1398.6 L650.0 1398.5 L651.0 1398.5 L652.0 1398.5 L653.0 1398.4 L654.0 1398.4 L655.0 1398.3 L656.0 1398.3 L657.0 1398.2 L658.0 1398.2 L659.0 1398.1 L660.0 1398.1 L661.0 1398.0 L662.0 1398.0 L663.0 1397.9 L664.0 1397.9 L665.0 1397.8 L666.0 1397.8 L667.0 1397.7 L668.0 1397.7 L669.0 1397.6 L670.0 1397.6 L671.0 1397.5 L672.0 1397.5 L673.0 1397.4 L674.0 1397.4 L675.0 1397.3 L676.0 1397.3 L677.0 1397.2 L678.0 1397.1 L679.0 1397.1 L680.0 1397.0 L681.0 1397.0 L682.0 1396.9 L683.0 1396.8 L684.0 1396.8 L685.0 1396.7 L686.0 1396.7 L687.0 1396.6 L688.0 1396.5 L689.0 1396.5 L690.0 1396.4 L691.0 1396.3 L692.0 1396.3 L693.0 1396.2 L694.0 1396.1 L695.0 1396.1 L696.0 1396.0 L697.0 1396.0 L698.0 1395.9 L699.0 1395.8 L700.0 1395.8 L701.0 1395.7 L702.0 1395.7 L703.0 1395.6 L704.0 1395.5 L705.0 1395.5 L706.0 1395.4 L707.0 1395.4 L708.0 1395.3 L709.0 1395.2 L710.0 1395.2 L711.0 1395.1 L712.0 1395.1 L713.0 1395.0 L714.0 1394.9 L715.0 1394.9 L716.0 1394.8 L717.0 1394.7 L718.0 1394.7 L719.0 1394.6 L720.0 1394.5 L721.0 1394.5 L722.0 1394.4 L723.0 1394.3 L724.0 1394.2 L725.0 1394.1 L726.0 1394.1 L727.0 1394.0 L728.0 1393.9 L729.0 1393.8 L730.0 1393.7 L731.0 1393.7 L732.0 1393.6 L733.0 1393.5 L734.0 1393.4 L735.0 1393.3 L736.0 1393.2 L737.0 1393.1 L738.0 1393.1 L739.0 1393.0 L740.0 1392.9 L741.0 1392.8 L742.0 1392.7 L743.0 1392.6 L744.0 1392.5 L745.0 1392.4 L746.0 1392.3 L747.0 1392.2 L748.0 1392.1 L749.0 1392.0 L750.0 1391.9 L751.0 1391.8 L752.0 1391.7 L753.0 1391.6 L754.0 1391.5 L755.0 1391.4 L756.0 1391.3 L757.0 1391.2 L758.0 1391.1 L759.0 1391.0 L760.0 1390.9 L761.0 1390.8 L762.0 1390.7 L763.0 1390.6 L764.0 1390.6 L765.0 1390.5 L766.0 1390.4 L767.0 1390.3 L768.0 1390.2 L769.0 1390.1 L770.0 1390.0 L771.0 1389.9 L772.0 1389.9 L773.0 1389.8 L774.0 1389.7 L775.0 1389.6 L776.0 1389.5 L777.0 1389.4 L778.0 1389.3 L779.0 1389.3 L780.0 1389.2 L781.0 1389.1 L782.0 1389.0 L783.0 1388.9 L784.0 1388.9 L785.0 1388.8 L786.0 1388.7 L787.0 1388.6 L788.0 1388.5 L789.0 1388.5 L790.0 1388.4 L791.0 1388.3 L792.0 1388.2 L793.0 1388.1 L794.0 1388.1 L795.0 1388.0 L796.0 1387.9 L797.0 1387.8 L798.0 1387.8 L799.0 1387.7 L800.0 1387.6 L801.0 1387.6 L802.0 1387.5 L803.0 1387.4 L804.0 1387.4 L805.0 1387.3 L806.0 1387.2 L807.0 1387.2 L808.0 1387.1 L809.0 1387.0 L810.0 1387.0 L811.0 1386.9 L812.0 1386.8 L813.0 1386.8 L814.0 1386.7 L815.0 1386.7 L816.0 1386.6 L817.0 1386.5 L818.0 1386.5 L819.0 1386.4 L820.0 1386.3 L821.0 1386.3 L822.0 1386.2 L823.0 1386.2 L824.0 1386.1 L825.0 1386.0 L826.0 1386.0 L827.0 1385.9 L828.0 1385.9 L829.0 1385.8 L830.0 1385.7 L831.0 1385.7 L832.0 1385.7 L833.0 1385.7 L834.0 1385.8 L835.0 1385.8 L836.0 1385.9 L837.0 1386.0 L838.0 1386.1 L839.0 1386.3 L840.0 1386.4 L841.0 1386.6 L842.0 1386.8 L843.0 1387.0 L844.0 1387.2 L845.0 1387.4 L846.0 1387.6 L847.0 1387.8 L848.0 1388.0 L849.0 1388.2 L850.0 1388.4 L851.0 1388.6 L852.0 1388.8 L853.0 1389.0 L854.0 1389.2 L855.0 1389.4 L856.0 1389.5 L857.0 1389.7 L858.0 1389.8 L859.0 1389.9 L860.0 1390.1 L861.0 1390.2 L862.0 1390.3 L863.0 1390.4 L864.0 1390.5 L865.0 1390.5 L866.0 1390.6 L867.0 1390.7 L868.0 1390.7 L869.0 1390.7 L870.0 1390.8 L871.0 1390.8 L872.0 1390.8 L873.0 1390.8 L874.0 1390.8 L875.0 1390.8 L876.0 1390.8 L877.0 1390.7 L878.0 1390.7 L879.0 1390.7 L880.0 1390.6 L881.0 1390.6 L882.0 1390.5 L883.0 1390.5 L884.0 1390.4 L885.0 1390.4 L886.0 1390.3 L887.0 1390.3 L888.0 1390.2 L889.0 1390.2 L890.0 1390.1 L891.0 1390.1 L892.0 1390.0 L893.0 1390.0 L894.0 1389.9 L895.0 1389.9 L896.0 1389.8 L897.0 1389.8 L898.0 1389.8 L899.0 1389.7 L900.0 1389.7 L901.0 1389.7 L902.0 1389.7 L903.0 1389.7 L904.0 1389.7 L905.0 1389.8 L906.0 1389.8 L907.0 1389.8 L908.0 1389.9 L909.0 1389.9 L910.0 1390.0 L911.0 1390.0 L912.0 1390.1 L913.0 1390.1 L914.0 1390.1 L915.0 1390.2 L916.0 1390.2 L917.0 1390.2 L918.0 1390.2 L919.0 1390.2 L920.0 1390.2 L921.0 1390.2 L922.0 1390.2 L923.0 1390.1 L924.0 1390.1 L925.0 1390.1 L926.0 1390.0 L927.0 1390.0 L928.0 1389.9 L929.0 1389.8 L930.0 1389.8 L931.0 1389.7 L932.0 1389.6 L933.0 1389.5 L934.0 1389.4 L935.0 1389.3 L936.0 1389.2 L937.0 1389.1 L938.0 1389.0 L939.0 1388.9 L940.0 1388.8 L941.0 1388.7 L942.0 1388.5 L943.0 1388.4 L944.0 1388.3 L945.0 1388.1 L946.0 1388.0 L947.0 1387.9 L948.0 1387.7 L949.0 1387.6 L950.0 1387.5 L951.0 1387.3 L952.0 1387.2 L953.0 1387.1 L954.0 1386.9 L955.0 1386.8 L956.0 1386.7 L957.0 1386.5 L958.0 1386.4 L959.0 1386.3 L960.0 1386.1 L961.0 1386.0 L962.0 1385.8 L963.0 1385.7 L964.0 1385.5 L965.0 1385.3 L966.0 1385.1 L967.0 1384.9 L968.0 1384.7 L969.0 1384.5 L970.0 1384.3 L971.0 1384.0 L972.0 1383.8 L973.0 1383.5 L974.0 1383.2 L975.0 1382.9 L976.0 1382.5 L977.0 1382.2 L978.0 1381.9 L979.0 1381.6 L980.0 1381.2 L981.0 1380.9 L982.0 1380.6 L983.0 1380.3 L984.0 1380.1 L985.0 1379.8 L986.0 1379.6 L987.0 1379.3 L988.0 1379.1 L989.0 1378.8 L990.0 1378.6 L991.0 1378.4 L992.0 1378.2 L993.0 1378.0 L994.0 1377.8 L995.0 1377.6 L996.0 1377.3 L997.0 1377.1 L998.0 1376.9 L999.0 1376.7 L1000.0 1376.5 L1001.0 1376.3 L1002.0 1376.1 L1003.0 1375.9 L1004.0 1375.6 L1005.0 1375.4 L1006.0 1375.2 L1007.0 1374.9 L1008.0 1374.7 L1009.0 1374.5 L1010.0 1374.2 L1011.0 1373.9 L1012.0 1373.7 L1013.0 1373.4 L1014.0 1373.1 L1015.0 1372.9 L1016.0 1372.6 L1017.0 1372.3 L1018.0 1372.0 L1019.0 1371.7 L1020.0 1371.3 L1021.0 1371.0 L1022.0 1370.7 L1023.0 1370.3 L1024.0 1370.0 L1025.0 1369.6 L1026.0 1369.3 L1027.0 1368.9 L1028.0 1368.5 L1029.0 1368.2 L1030.0 1367.8 L1031.0 1367.4 L1032.0 1367.0 L1033.0 1366.6 L1034.0 1366.1 L1035.0 1365.7 L1036.0 1365.2 L1037.0 1364.8 L1038.0 1364.3 L1039.0 1363.8 L1040.0 1363.3 L1041.0 1362.8 L1042.0 1362.3 L1043.0 1361.7 L1044.0 1361.1 L1045.0 1360.5 L1046.0 1359.9 L1047.0 1359.3 L1048.0 1358.6 L1049.0 1358.0 L1050.0 1357.3 L1051.0 1356.6 L1052.0 1355.8 L1053.0 1355.1 L1054.0 1354.3 L1055.0 1353.5 L1056.0 1352.7 L1057.0 1351.8 L1058.0 1350.9 L1059.0 1350.0 L1060.0 1349.1 L1061.0 1348.2 L1062.0 1347.2 L1063.0 1346.1 L1064.0 1345.1 L1065.0 1344.0 L1066.0 1342.9 L1067.0 1341.7 L1068.0 1340.5 L1069.0 1339.3 L1070.0 1338.0 L1071.0 1336.6 L1072.0 1335.3 L1073.0 1333.8 L1074.0 1332.4 L1075.0 1330.8 L1076.0 1329.2 L1077.0 1327.6 L1078.0 1325.9 L1079.0 1324.1 L1080.0 1322.3 L1081.0 1320.4 L1082.0 1318.4 L1083.0 1316.4 L1084.0 1314.3 L1085.0 1312.1 L1086.0 1309.8 L1087.0 1307.4 L1088.0 1304.9 L1089.0 1302.4 L1090.0 1299.7 L1091.0 1296.9 L1092.0 1294.1 L1093.0 1291.1 L1094.0 1288.0 L1095.0 1284.7 L1096.0 1281.4 L1097.0 1277.9 L1098.0 1274.3 L1099.0 1270.6 L1100.0 1266.7 L1101.0 1262.7 L1102.0 1258.6 L1103.0 1254.3 L1104.0 1249.9 L1105.0 1245.4 L1106.0 1240.7 L1107.0 1235.9 L1108.0 1231.0 L1109.0 1226.0 L1110.0 1220.9 L1111.0 1215.6 L1112.0 1210.4 L1113.0 1205.0 L1114.0 1199.6 L1115.0 1194.2 L1116.0 1188.8 L1117.0 1183.4 L1118.0 1178.0 L1119.0 1172.8 L1120.0 1167.6 L1121.0 1162.7 L1122.0 1157.9 L1123.0 1153.3 L1124.0 1149.1 L1125.0 1145.1 L1126.0 1141.5 L1127.0 1138.3 L1128.0 1135.5 L1129.0 1133.1 L1130.0 1131.2 L1131.0 1129.9 L1132.0 1129.0 L1133.0 1128.7 L1134.0 1129.0 L1135.0 1130.2 L1136.0 1132.2 L1137.0 1135.0 L1138.0 1138.5 L1139.0 1142.7 L1140.0 1147.5 L1141.0 1152.8 L1142.0 1158.5 L1143.0 1164.6 L1144.0 1171.0 L1145.0 1177.6 L1146.0 1184.3 L1147.0 1191.0 L1148.0 1197.8 L1149.0 1204.5 L1150.0 1211.2 L1151.0 1217.7 L1152.0 1224.1 L1153.0 1230.4 L1154.0 1236.5 L1155.0 1242.3 L1156.0 1248.0 L1157.0 1253.5 L1158.0 1258.7 L1159.0 1263.8 L1160.0 1268.6 L1161.0 1273.2 L1162.0 1277.7 L1163.0 1281.9 L1164.0 1285.9 L1165.0 1289.8 L1166.0 1293.5 L1167.0 1297.0 L1168.0 1300.4 L1169.0 1303.6 L1170.0 1306.6 L1171.0 1309.5 L1172.0 1312.3 L1173.0 1315.0 L1174.0 1317.5 L1175.0 1319.9 L1176.0 1322.1 L1177.0 1324.3 L1178.0 1326.4 L1179.0 1328.3 L1180.0 1330.2 L1181.0 1331.9 L1182.0 1333.6 L1183.0 1335.2 L1184.0 1336.8 L1185.0 1338.2 L1186.0 1339.6 L1187.0 1340.9 L1188.0 1342.1 L1189.0 1343.3 L1190.0 1344.4 L1191.0 1345.5 L1192.0 1346.5 L1193.0 1347.4 L1194.0 1348.4 L1195.0 1349.2 L1196.0 1350.0 L1197.0 1350.8 L1198.0 1351.6 L1199.0 1352.3 L1200.0 1352.9 L1201.0 1353.6 L1202.0 1354.2 L1203.0 1354.7 L1204.0 1355.3 L1205.0 1355.8 L1206.0 1356.3 L1207.0 1356.8 L1208.0 1357.2 L1209.0 1357.6 L1210.0 1358.0 L1211.0 1358.4 L1212.0 1358.8 L1213.0 1359.1 L1214.0 1359.4 L1215.0 1359.7 L1216.0 1360.0 L1217.0 1360.3 L1218.0 1360.5 L1219.0 1360.7 L1220.0 1360.9 L1221.0 1361.1 L1222.0 1361.3 L1223.0 1361.5 L1224.0 1361.7 L1225.0 1361.8 L1226.0 1362.0 L1227.0 1362.1 L1228.0 1362.3 L1229.0 1362.4 L1230.0 1362.5 L1231.0 1362.6 L1232.0 1362.7 L1233.0 1362.8 L1234.0 1362.9 L1235.0 1363.0 L1236.0 1363.1 L1237.0 1363.2 L1238.0 1363.3 L1239.0 1363.4 L1240.0 1363.5 L1241.0 1363.5 L1242.0 1363.6 L1243.0 1363.7 L1244.0 1363.7 L1245.0 1363.8 L1246.0 1363.8 L1247.0 1363.8 L1248.0 1363.9 L1249.0 1363.9 L1250.0 1363.9 L1251.0 1363.9 L1252.0 1363.8 L1253.0 1363.8 L1254.0 1363.8 L1255.0 1363.7 L1256.0 1363.7 L1257.0 1363.6 L1258.0 1363.6 L1259.0 1363.5 L1260.0 1363.4 L1261.0 1363.3 L1262.0 1363.3 L1263.0 1363.2 L1264.0 1363.1 L1265.0 1363.0 L1266.0 1362.9 L1267.0 1362.8 L1268.0 1362.6 L1269.0 1362.5 L1270.0 1362.4 L1271.0 1362.3 L1272.0 1362.1 L1273.0 1362.0 L1274.0 1361.9 L1275.0 1361.7 L1276.0 1361.5 L1277.0 1361.4 L1278.0 1361.2 L1279.0 1361.0 L1280.0 1360.7 L1281.0 1360.5 L1282.0 1360.3 L1283.0 1360.0 L1284.0 1359.7 L1285.0 1359.4 L1286.0 1359.1 L1287.0 1358.7 L1288.0 1358.3 L1289.0 1358.0 L1290.0 1357.5 L1291.0 1357.1 L1292.0 1356.6 L1293.0 1356.1 L1294.0 1355.6 L1295.0 1355.1 L1296.0 1354.5 L1297.0 1353.9 L1298.0 1353.3 L1299.0 1352.6 L1300.0 1351.9 L1301.0 1351.2 L1302.0 1350.5 L1303.0 1349.7 L1304.0 1348.9 L1305.0 1348.1 L1306.0 1347.3 L1307.0 1346.4 L1308.0 1345.5 L1309.0 1344.5 L1310.0 1343.5 L1311.0 1342.5 L1312.0 1341.4 L1313.0 1340.3 L1314.0 1339.2 L1315.0 1338.0 L1316.0 1336.7 L1317.0 1335.4 L1318.0 1334.1 L1319.0 1332.7 L1320.0 1331.2 L1321.0 1329.7 L1322.0 1328.1 L1323.0 1326.5 L1324.0 1324.8 L1325.0 1323.0 L1326.0 1321.1 L1327.0 1319.2 L1328.0 1317.2 L1329.0 1315.1 L1330.0 1312.9 L1331.0 1310.6 L1332.0 1308.3 L1333.0 1305.8 L1334.0 1303.2 L1335.0 1300.6 L1336.0 1297.8 L1337.0 1294.9 L1338.0 1291.9 L1339.0 1288.9 L1340.0 1285.7 L1341.0 1282.4 L1342.0 1279.0 L1343.0 1275.4 L1344.0 1271.8 L1345.0 1268.1 L1346.0 1264.3 L1347.0 1260.4 L1348.0 1256.5 L1349.0 1252.4 L1350.0 1248.3 L1351.0 1244.1 L1352.0 1239.9 L1353.0 1235.7 L1354.0 1231.4 L1355.0 1227.2 L1356.0 1222.9 L1357.0 1218.7 L1358.0 1214.5 L1359.0 1210.3 L1360.0 1206.3 L1361.0 1202.3 L1362.0 1198.5 L1363.0 1194.8 L1364.0 1191.2 L1365.0 1187.9 L1366.0 1184.7 L1367.0 1181.8 L1368.0 1179.2 L1369.0 1176.8 L1370.0 1174.7 L1371.0 1173.0 L1372.0 1171.6 L1373.0 1170.5 L1374.0 1169.8 L1375.0 1169.4 L1376.0 1169.6 L1377.0 1170.5 L1378.0 1172.4 L1379.0 1175.1 L1380.0 1178.6 L1381.0 1182.7 L1382.0 1187.5 L1383.0 1192.8 L1384.0 1198.6 L1385.0 1204.6 L1386.0 1210.9 L1387.0 1217.4 L1388.0 1224.0 L1389.0 1230.6 L1390.0 1237.2 L1391.0 1243.7 L1392.0 1250.1 L1393.0 1256.3 L1394.0 1262.4 L1395.0 1268.2 L1396.0 1273.9 L1397.0 1279.4 L1398.0 1284.6 L1399.0 1289.6 L1400.0 1294.3 L1401.0 1298.9 L1402.0 1303.2 L1403.0 1307.2 L1404.0 1311.1 L1405.0 1314.7 L1406.0 1318.1 L1407.0 1321.3 L1408.0 1324.3 L1409.0 1327.2 L1410.0 1329.8 L1411.0 1332.3 L1412.0 1334.6 L1413.0 1336.8 L1414.0 1338.8 L1415.0 1340.7 L1416.0 1342.5 L1417.0 1344.1 L1418.0 1345.6 L1419.0 1347.0 L1420.0 1348.4 L1421.0 1349.6 L1422.0 1350.8 L1423.0 1351.9 L1424.0 1352.9 L1425.0 1353.9 L1426.0 1354.7 L1427.0 1355.6 L1428.0 1356.4 L1429.0 1357.1 L1430.0 1357.9 L1431.0 1358.5 L1432.0 1359.2 L1433.0 1359.8 L1434.0 1360.4 L1435.0 1360.9 L1436.0 1361.4 L1437.0 1361.9 L1438.0 1362.4 L1439.0 1362.9 L1440.0 1363.3 L1441.0 1363.8 L1442.0 1364.2 L1443.0 1364.6 L1444.0 1365.0 L1445.0 1365.3 L1446.0 1365.7 L1447.0 1366.0 L1448.0 1366.3 L1449.0 1366.7 L1450.0 1367.0 L1451.0 1367.3 L1452.0 1367.6 L1453.0 1367.8 L1454.0 1368.1 L1455.0 1368.4 L1456.0 1368.6 L1457.0 1368.9 L1458.0 1369.1 L1459.0 1369.4 L1460.0 1369.6 L1461.0 1369.9 L1462.0 1370.1 L1463.0 1370.4 L1464.0 1370.6 L1465.0 1370.9 L1466.0 1371.1 L1467.0 1371.4 L1468.0 1371.6 L1469.0 1371.8 L1470.0 1372.1 L1471.0 1372.3 L1472.0 1372.5 L1473.0 1372.7 L1474.0 1372.9 L1475.0 1373.0 L1476.0 1373.2 L1477.0 1373.3 L1478.0 1373.4 L1479.0 1373.5 L1480.0 1373.6 L1481.0 1373.7 L1482.0 1373.8 L1483.0 1373.8 L1484.0 1373.8 L1485.0 1373.8 L1486.0 1373.9 L1487.0 1373.9 L1488.0 1373.8 L1489.0 1373.8 L1490.0 1373.8 L1491.0 1373.7 L1492.0 1373.7 L1493.0 1373.6 L1494.0 1373.6 L1495.0 1373.5 L1496.0 1373.4 L1497.0 1373.4 L1498.0 1373.3 L1499.0 1373.2 L1500.0 1373.1 L1501.0 1373.0 L1502.0 1372.9 L1503.0 1372.8 L1504.0 1372.7 L1505.0 1372.6 L1506.0 1372.5 L1507.0 1372.4 L1508.0 1372.2 L1509.0 1372.1 L1510.0 1372.0 L1511.0 1371.8 L1512.0 1371.7 L1513.0 1371.5 L1514.0 1371.4 L1515.0 1371.2 L1516.0 1371.0 L1517.0 1370.8 L1518.0 1370.6 L1519.0 1370.4 L1520.0 1370.2 L1521.0 1370.0 L1522.0 1369.7 L1523.0 1369.5 L1524.0 1369.2 L1525.0 1369.0 L1526.0 1368.7 L1527.0 1368.4 L1528.0 1368.1 L1529.0 1367.9 L1530.0 1367.5 L1531.0 1367.2 L1532.0 1366.9 L1533.0 1366.6 L1534.0 1366.2 L1535.0 1365.8 L1536.0 1365.5 L1537.0 1365.1 L1538.0 1364.6 L1539.0 1364.2 L1540.0 1363.7 L1541.0 1363.2 L1542.0 1362.7 L1543.0 1362.2 L1544.0 1361.6 L1545.0 1361.1 L1546.0 1360.4 L1547.0 1359.8 L1548.0 1359.1 L1549.0 1358.4 L1550.0 1357.6 L1551.0 1356.8 L1552.0 1356.0 L1553.0 1355.1 L1554.0 1354.1 L1555.0 1353.1 L1556.0 1352.1 L1557.0 1351.0 L1558.0 1349.8 L1559.0 1348.5 L1560.0 1347.2 L1561.0 1345.8 L1562.0 1344.3 L1563.0 1342.7 L1564.0 1341.0 L1565.0 1339.2 L1566.0 1337.3 L1567.0 1335.3 L1568.0 1333.2 L1569.0 1331.0 L1570.0 1328.6 L1571.0 1326.1 L1572.0 1323.4 L1573.0 1320.6 L1574.0 1317.6 L1575.0 1314.5 L1576.0 1311.2 L1577.0 1307.8 L1578.0 1304.1 L1579.0 1300.4 L1580.0 1296.4 L1581.0 1292.3 L1582.0 1288.0 L1583.0 1283.6 L1584.0 1279.0 L1585.0 1274.2 L1586.0 1269.3 L1587.0 1264.2 L1588.0 1259.0 L1589.0 1253.7 L1590.0 1248.2 L1591.0 1242.7 L1592.0 1237.1 L1593.0 1231.4 L1594.0 1225.7 L1595.0 1220.0 L1596.0 1214.3 L1597.0 1208.8 L1598.0 1203.3 L1599.0 1198.0 L1600.0 1192.9 L1601.0 1188.1 L1602.0 1183.6 L1603.0 1179.5 L1604.0 1175.9 L1605.0 1172.7 L1606.0 1170.1 L1607.0 1168.1 L1608.0 1166.6 L1609.0 1165.8 L1610.0 1165.7 L1611.0 1166.2 L1612.0 1167.2 L1613.0 1168.9 L1614.0 1171.1 L1615.0 1173.9 L1616.0 1177.1 L1617.0 1180.7 L1618.0 1184.8 L1619.0 1189.2 L1620.0 1193.9 L1621.0 1198.8 L1622.0 1203.9 L1623.0 1209.2 L1624.0 1214.6 L1625.0 1220.1 L1626.0 1225.6 L1627.0 1231.1 L1628.0 1236.5 L1629.0 1242.0 L1630.0 1247.3 L1631.0 1252.6 L1632.0 1257.8 L1633.0 1262.8 L1634.0 1267.7 L1635.0 1272.5 L1636.0 1277.1 L1637.0 1281.6 L1638.0 1285.9 L1639.0 1290.1 L1640.0 1294.1 L1641.0 1297.9 L1642.0 1301.6 L1643.0 1305.1 L1644.0 1308.5 L1645.0 1311.7 L1646.0 1314.8 L1647.0 1317.7 L1648.0 1320.5 L1649.0 1323.1 L1650.0 1325.6 L1651.0 1328.0 L1652.0 1330.2 L1653.0 1332.3 L1654.0 1334.3 L1655.0 1336.2 L1656.0 1338.0 L1657.0 1339.7 L1658.0 1341.3 L1659.0 1342.8 L1660.0 1344.3 L1661.0 1345.6 L1662.0 1346.9 L1663.0 1348.1 L1664.0 1349.2 L1665.0 1350.2 L1666.0 1351.2 L1667.0 1352.2 L1668.0 1353.1 L1669.0 1353.9 L1670.0 1354.7 L1671.0 1355.5 L1672.0 1356.2 L1673.0 1356.9 L1674.0 1357.6 L1675.0 1358.2 L1676.0 1358.8 L1677.0 1359.4 L1678.0 1360.0 L1679.0 1360.5 L1680.0 1361.0 L1681.0 1361.5 L1682.0 1362.0 L1683.0 1362.5 L1684.0 1363.0 L1685.0 1363.4 L1686.0 1363.9 L1687.0 1364.3 L1688.0 1364.7 L1689.0 1365.2 L1690.0 1365.6 L1691.0 1366.0 L1692.0 1366.4 L1693.0 1366.8 L1694.0 1367.2 L1695.0 1367.6 L1696.0 1368.0 L1697.0 1368.4 L1698.0 1368.7 L1699.0 1369.1 L1700.0 1369.5 L1701.0 1369.9 L1702.0 1370.2 L1703.0 1370.6 L1704.0 1370.9 L1705.0 1371.3 L1706.0 1371.6 L1707.0 1371.9 L1708.0 1372.3 L1709.0 1372.6 L1710.0 1372.9 L1711.0 1373.2 L1712.0 1373.5 L1713.0 1373.7 L1714.0 1374.0 L1715.0 1374.2 L1716.0 1374.5 L1717.0 1374.7 L1718.0 1374.9 L1719.0 1375.2 L1720.0 1375.4 L1721.0 1375.6 L1722.0 1375.8 L1723.0 1375.9 L1724.0 1376.1 L1725.0 1376.3 L1726.0 1376.4 L1727.0 1376.6 L1728.0 1376.7 L1729.0 1376.8 L1730.0 1377.0 L1731.0 1377.1 L1732.0 1377.2 L1733.0 1377.3 L1734.0 1377.4 L1735.0 1377.4 L1736.0 1377.5 L1737.0 1377.6 L1738.0 1377.6 L1739.0 1377.7 L1740.0 1377.8 L1741.0 1377.8 L1742.0 1377.9 L1743.0 1377.9 L1744.0 1378.0 L1745.0 1378.0 L1746.0 1378.0 L1747.0 1378.1 L1748.0 1378.1 L1749.0 1378.2 L1750.0 1378.2 L1751.0 1378.2 L1752.0 1378.3 L1753.0 1378.3 L1754.0 1378.3 L1755.0 1378.4 L1756.0 1378.4 L1757.0 1378.4 L1758.0 1378.4 L1759.0 1378.4 L1760.0 1378.4 L1761.0 1378.4 L1762.0 1378.4 L1763.0 1378.4 L1764.0 1378.4 L1765.0 1378.4 L1766.0 1378.4 L1767.0 1378.4 L1768.0 1378.4 L1769.0 1378.4 L1770.0 1378.4 L1771.0 1378.4 L1772.0 1378.4 L1773.0 1378.5 L1774.0 1378.5 L1775.0 1378.5 L1776.0 1378.5 L1777.0 1378.5 L1778.0 1378.5 L1779.0 1378.5 L1780.0 1378.5 L1781.0 1378.5 L1782.0 1378.5 L1783.0 1378.5 L1784.0 1378.5 L1785.0 1378.5 L1786.0 1378.6 L1787.0 1378.6 L1788.0 1378.6 L1789.0 1378.6 L1790.0 1378.6 L1791.0 1378.6 L1792.0 1378.6 L1793.0 1378.7 L1794.0 1378.7 L1795.0 1378.7 L1796.0 1378.7 L1797.0 1378.7 L1798.0 1378.8 L1799.0 1378.8 L1800.0 1378.8" stroke="#00b050" stroke-width="5" fill="none" stroke-linejoin="round"/>
<path d="M213.0 1596.0 L214.0 1596.0 L215.0 1596.0 L216.0 1596.0 L217.0 1596.0 L218.0 1596.0 L219.0 1596.0 L220.0 1596.0 L221.0 1596.0 L222.0 1596.0 L223.0 1596.0 L224.0 1596.0 L225.0 1596.0 L226.0 1596.0 L227.0 1596.0 L228.0 1596.0 L229.0 1596.0 L230.0 1596.0 L231.0 1596.0 L232.0 1596.0 L233.0 1596.0 L234.0 1596.0 L235.0 1596.0 L236.0 1596.0 L237.0 1596.0 L238.0 1596.0 L239.0 1596.0 L240.0 1596.0 L241.0 1596.0 L242.0 1596.0 L243.0 1596.0 L244.0 1596.0 L245.0 1596.0 L246.0 1596.0 L247.0 1596.0 L248.0 1596.0 L249.0 1596.0 L250.0 1596.0 L251.0 1596.0 L252.0 1596.0 L253.0 1596.0 L254.0 1596.0 L255.0 1596.0 L256.0 1596.0 L257.0 1596.0 L258.0 1596.0 L259.0 1596.0 L260.0 1596.0 L261.0 1596.0 L262.0 1596.0 L263.0 1596.0 L264.0 1596.0 L265.0 1596.0 L266.0 1596.0 L267.0 1596.0 L268.0 1596.0 L269.0 1596.0 L270.0 1596.0 L271.0 1596.0 L272.0 1596.0 L273.0 1596.0 L274.0 1596.0 L275.0 1596.0 L276.0 1596.0 L277.0 1596.0 L278.0 1596.0 L279.0 1596.0 L280.0 1596.0 L281.0 1596.0 L282.0 1596.0 L283.0 1596.0 L284.0 1596.0 L285.0 1596.0 L286.0 1596.0 L287.0 1596.0 L288.0 1596.0 L289.0 1596.0 L290.0 1596.0 L291.0 1596.0 L292.0 1596.0 L293.0 1596.0 L294.0 1596.0 L295.0 1596.0 L296.0 1596.0 L297.0 1596.0 L298.0 1596.0 L299.0 1596.0 L300.0 1596.0 L301.0 1596.0 L302.0 1596.0 L303.0 1596.0 L304.0 1596.0 L305.0 1596.0 L306.0 1596.0 L307.0 1596.0 L308.0 1596.0 L309.0 1596.0 L310.0 1596.0 L311.0 1596.0 L312.0 1596.0 L313.0 1596.0 L314.0 1595.9 L315.0 1595.9 L316.0 1595.9 L317.0 1595.9 L318.0 1595.9 L319.0 1595.9 L320.0 1595.9 L321.0 1595.9 L322.0 1595.9 L323.0 1595.9 L324.0 1595.8 L325.0 1595.8 L326.0 1595.8 L327.0 1595.8 L328.0 1595.8 L329.0 1595.8 L330.0 1595.7 L331.0 1595.7 L332.0 1595.7 L333.0 1595.7 L334.0 1595.7 L335.0 1595.6 L336.0 1595.6 L337.0 1595.6 L338.0 1595.6 L339.0 1595.5 L340.0 1595.5 L341.0 1595.5 L342.0 1595.5 L343.0 1595.4 L344.0 1595.4 L345.0 1595.4 L346.0 1595.3 L347.0 1595.3 L348.0 1595.3 L349.0 1595.2 L350.0 1595.2 L351.0 1595.2 L352.0 1595.1 L353.0 1595.1 L354.0 1595.1 L355.0 1595.0 L356.0 1595.0 L357.0 1594.9 L358.0 1594.9 L359.0 1594.8 L360.0 1594.8 L361.0 1594.8 L362.0 1594.7 L363.0 1594.7 L364.0 1594.6 L365.0 1594.6 L366.0 1594.5 L367.0 1594.5 L368.0 1594.4 L369.0 1594.4 L370.0 1594.3 L371.0 1594.2 L372.0 1594.2 L373.0 1594.1 L374.0 1594.1 L375.0 1594.0 L376.0 1593.9 L377.0 1593.9 L378.0 1593.8 L379.0 1593.7 L380.0 1593.7 L381.0 1593.6 L382.0 1593.5 L383.0 1593.5 L384.0 1593.3 L385.0 1593.1 L386.0 1592.7 L387.0 1592.4 L388.0 1591.9 L389.0 1591.4 L390.0 1590.9 L391.0 1590.3 L392.0 1589.7 L393.0 1589.1 L394.0 1588.5 L395.0 1587.8 L396.0 1587.2 L397.0 1586.5 L398.0 1585.9 L399.0 1585.3 L400.0 1584.7 L401.0 1584.1 L402.0 1583.5 L403.0 1582.9 L404.0 1582.3 L405.0 1581.7 L406.0 1581.0 L407.0 1580.4 L408.0 1579.7 L409.0 1578.9 L410.0 1578.2 L411.0 1577.4 L412.0 1576.6 L413.0 1575.7 L414.0 1574.8 L415.0 1573.9 L416.0 1572.9 L417.0 1571.7 L418.0 1570.5 L419.0 1569.1 L420.0 1567.6 L421.0 1566.0 L422.0 1564.4 L423.0 1562.8 L424.0 1561.1 L425.0 1559.4 L426.0 1557.8 L427.0 1556.1 L428.0 1554.5 L429.0 1553.0 L430.0 1551.4 L431.0 1549.8 L432.0 1548.1 L433.0 1546.5 L434.0 1544.8 L435.0 1543.2 L436.0 1541.7 L437.0 1540.4 L438.0 1539.2 L439.0 1538.2 L440.0 1537.3 L441.0 1536.4 L442.0 1535.5 L443.0 1534.6 L444.0 1533.8 L445.0 1533.1 L446.0 1532.4 L447.0 1531.9 L448.0 1531.5 L449.0 1531.2 L450.0 1531.0 L451.0 1531.0 L452.0 1531.1 L453.0 1531.2 L454.0 1531.3 L455.0 1531.5 L456.0 1531.7 L457.0 1531.9 L458.0 1532.2 L459.0 1532.5 L460.0 1532.8 L461.0 1533.1 L462.0 1533.4 L463.0 1533.7 L464.0 1534.2 L465.0 1534.7 L466.0 1535.3 L467.0 1536.0 L468.0 1536.8 L469.0 1537.5 L470.0 1538.3 L471.0 1539.2 L472.0 1540.0 L473.0 1540.8 L474.0 1541.6 L475.0 1542.3 L476.0 1543.1 L477.0 1543.7 L478.0 1544.4 L479.0 1545.1 L480.0 1545.8 L481.0 1546.5 L482.0 1547.2 L483.0 1547.9 L484.0 1548.6 L485.0 1549.2 L486.0 1549.9 L487.0 1550.6 L488.0 1551.2 L489.0 1551.8 L490.0 1552.4 L491.0 1553.0 L492.0 1553.6 L493.0 1554.2 L494.0 1554.8 L495.0 1555.4 L496.0 1556.0 L497.0 1556.6 L498.0 1557.2 L499.0 1557.7 L500.0 1558.2 L501.0 1558.6 L502.0 1559.0 L503.0 1559.3 L504.0 1559.6 L505.0 1559.7 L506.0 1559.9 L507.0 1560.0 L508.0 1560.2 L509.0 1560.3 L510.0 1560.5 L511.0 1560.6 L512.0 1560.7 L513.0 1560.8 L514.0 1560.9 L515.0 1561.0 L516.0 1561.1 L517.0 1561.2 L518.0 1561.2 L519.0 1561.3 L520.0 1561.4 L521.0 1561.5 L522.0 1561.5 L523.0 1561.6 L524.0 1561.7 L525.0 1561.7 L526.0 1561.8 L527.0 1561.9 L528.0 1561.9 L529.0 1562.0 L530.0 1562.1 L531.0 1562.1 L532.0 1562.2 L533.0 1562.3 L534.0 1562.3 L535.0 1562.4 L536.0 1562.5 L537.0 1562.6 L538.0 1562.6 L539.0 1562.7 L540.0 1562.7 L541.0 1562.8 L542.0 1562.8 L543.0 1562.9 L544.0 1562.9 L545.0 1563.0 L546.0 1563.0 L547.0 1563.0 L548.0 1563.1 L549.0 1563.1 L550.0 1563.1 L551.0 1563.1 L552.0 1563.1 L553.0 1563.1 L554.0 1563.0 L555.0 1563.0 L556.0 1562.9 L557.0 1562.8 L558.0 1562.7 L559.0 1562.6 L560.0 1562.5 L561.0 1562.4 L562.0 1562.3 L563.0 1562.2 L564.0 1562.0 L565.0 1561.9 L566.0 1561.8 L567.0 1561.6 L568.0 1561.5 L569.0 1561.3 L570.0 1561.2 L571.0 1561.1 L572.0 1561.0 L573.0 1560.8 L574.0 1560.7 L575.0 1560.6 L576.0 1560.5 L577.0 1560.4 L578.0 1560.3 L579.0 1560.2 L580.0 1560.1 L581.0 1560.0 L582.0 1559.9 L583.0 1559.8 L584.0 1559.7 L585.0 1559.6 L586.0 1559.5 L587.0 1559.4 L588.0 1559.3 L589.0 1559.2 L590.0 1559.1 L591.0 1559.0 L592.0 1558.9 L593.0 1558.8 L594.0 1558.7 L595.0 1558.6 L596.0 1558.6 L597.0 1558.5 L598.0 1558.4 L599.0 1558.3 L600.0 1558.2 L601.0 1558.2 L602.0 1558.1 L603.0 1558.1 L604.0 1558.0 L605.0 1557.9 L606.0 1557.9 L607.0 1557.8 L608.0 1557.7 L609.0 1557.6 L610.0 1557.4 L611.0 1557.2 L612.0 1556.8 L613.0 1556.3 L614.0 1555.7 L615.0 1555.1 L616.0 1554.4 L617.0 1553.8 L618.0 1553.1 L619.0 1552.5 L620.0 1552.0 L621.0 1551.5 L622.0 1550.9 L623.0 1550.4 L624.0 1549.8 L625.0 1549.2 L626.0 1548.7 L627.0 1548.2 L628.0 1547.7 L629.0 1547.3 L630.0 1547.0 L631.0 1546.7 L632.0 1546.6 L633.0 1546.4 L634.0 1546.3 L635.0 1546.2 L636.0 1546.1 L637.0 1546.0 L638.0 1545.9 L639.0 1545.8 L640.0 1545.7 L641.0 1545.6 L642.0 1545.5 L643.0 1545.4 L644.0 1545.4 L645.0 1545.3 L646.0 1545.3 L647.0 1545.2 L648.0 1545.2 L649.0 1545.1 L650.0 1545.1 L651.0 1545.1 L652.0 1545.0 L653.0 1545.0 L654.0 1545.0 L655.0 1545.0 L656.0 1545.0 L657.0 1545.0 L658.0 1545.1 L659.0 1545.1 L660.0 1545.2 L661.0 1545.2 L662.0 1545.3 L663.0 1545.4 L664.0 1545.5 L665.0 1545.6 L666.0 1545.7 L667.0 1545.8 L668.0 1545.9 L669.0 1546.0 L670.0 1546.1 L671.0 1546.2 L672.0 1546.3 L673.0 1546.5 L674.0 1546.6 L675.0 1546.7 L676.0 1546.8 L677.0 1546.9 L678.0 1546.9 L679.0 1547.0 L680.0 1547.1 L681.0 1547.2 L682.0 1547.2 L683.0 1547.3 L684.0 1547.3 L685.0 1547.3 L686.0 1547.3 L687.0 1547.3 L688.0 1547.2 L689.0 1547.2 L690.0 1547.1 L691.0 1547.1 L692.0 1547.0 L693.0 1546.9 L694.0 1546.8 L695.0 1546.6 L696.0 1546.5 L697.0 1546.4 L698.0 1546.2 L699.0 1546.1 L700.0 1545.9 L701.0 1545.8 L702.0 1545.6 L703.0 1545.4 L704.0 1545.3 L705.0 1545.1 L706.0 1544.9 L707.0 1544.8 L708.0 1544.6 L709.0 1544.5 L710.0 1544.3 L711.0 1544.2 L712.0 1544.0 L713.0 1543.9 L714.0 1543.8 L715.0 1543.6 L716.0 1543.5 L717.0 1543.4 L718.0 1543.3 L719.0 1543.2 L720.0 1543.0 L721.0 1542.9 L722.0 1542.8 L723.0 1542.7 L724.0 1542.6 L725.0 1542.5 L726.0 1542.4 L727.0 1542.3 L728.0 1542.1 L729.0 1542.0 L730.0 1541.9 L731.0 1541.8 L732.0 1541.7 L733.0 1541.5 L734.0 1541.4 L735.0 1541.3 L736.0 1541.1 L737.0 1541.0 L738.0 1540.9 L739.0 1540.7 L740.0 1540.6 L741.0 1540.4 L742.0 1540.3 L743.0 1540.1 L744.0 1539.9 L745.0 1539.7 L746.0 1539.5 L747.0 1539.4 L748.0 1539.2 L749.0 1539.0 L750.0 1538.7 L751.0 1538.5 L752.0 1538.3 L753.0 1538.1 L754.0 1537.9 L755.0 1537.6 L756.0 1537.4 L757.0 1537.1 L758.0 1536.9 L759.0 1536.7 L760.0 1536.4 L761.0 1536.2 L762.0 1535.9 L763.0 1535.6 L764.0 1535.4 L765.0 1535.1 L766.0 1534.9 L767.0 1534.6 L768.0 1534.3 L769.0 1534.1 L770.0 1533.8 L771.0 1533.5 L772.0 1533.2 L773.0 1532.9 L774.0 1532.6 L775.0 1532.3 L776.0 1532.0 L777.0 1531.7 L778.0 1531.4 L779.0 1531.1 L780.0 1530.7 L781.0 1530.4 L782.0 1530.1 L783.0 1529.8 L784.0 1529.4 L785.0 1529.1 L786.0 1528.7 L787.0 1528.4 L788.0 1528.1 L789.0 1527.7 L790.0 1527.4 L791.0 1527.0 L792.0 1526.7 L793.0 1526.4 L794.0 1526.0 L795.0 1525.6 L796.0 1525.3 L797.0 1524.8 L798.0 1524.4 L799.0 1524.0 L800.0 1523.5 L801.0 1523.0 L802.0 1522.5 L803.0 1522.1 L804.0 1521.6 L805.0 1521.1 L806.0 1520.6 L807.0 1520.1 L808.0 1519.7 L809.0 1519.2 L810.0 1518.8 L811.0 1518.4 L812.0 1518.0 L813.0 1517.6 L814.0 1517.2 L815.0 1516.9 L816.0 1516.6 L817.0 1516.4 L818.0 1516.2 L819.0 1516.0 L820.0 1515.8 L821.0 1515.7 L822.0 1515.7 L823.0 1515.7 L824.0 1515.7 L825.0 1515.8 L826.0 1515.8 L827.0 1515.9 L828.0 1516.0 L829.0 1516.1 L830.0 1516.2 L831.0 1516.4 L832.0 1516.5 L833.0 1516.7 L834.0 1516.8 L835.0 1517.0 L836.0 1517.2 L837.0 1517.4 L838.0 1517.6 L839.0 1517.9 L840.0 1518.1 L841.0 1518.3 L842.0 1518.6 L843.0 1518.8 L844.0 1519.1 L845.0 1519.3 L846.0 1519.6 L847.0 1519.8 L848.0 1520.1 L849.0 1520.3 L850.0 1520.6 L851.0 1520.9 L852.0 1521.3 L853.0 1521.6 L854.0 1522.1 L855.0 1522.5 L856.0 1523.0 L857.0 1523.5 L858.0 1524.1 L859.0 1524.6 L860.0 1525.2 L861.0 1525.7 L862.0 1526.3 L863.0 1526.8 L864.0 1527.4 L865.0 1528.0 L866.0 1528.5 L867.0 1529.0 L868.0 1529.5 L869.0 1530.0 L870.0 1530.4 L871.0 1530.8 L872.0 1531.2 L873.0 1531.5 L874.0 1531.8 L875.0 1532.1 L876.0 1532.3 L877.0 1532.5 L878.0 1532.7 L879.0 1532.9 L880.0 1533.1 L881.0 1533.3 L882.0 1533.5 L883.0 1533.7 L884.0 1533.9 L885.0 1534.0 L886.0 1534.2 L887.0 1534.4 L888.0 1534.5 L889.0 1534.7 L890.0 1534.8 L891.0 1534.9 L892.0 1535.1 L893.0 1535.2 L894.0 1535.3 L895.0 1535.4 L896.0 1535.4 L897.0 1535.5 L898.0 1535.5 L899.0 1535.6 L900.0 1535.6 L901.0 1535.6 L902.0 1535.6 L903.0 1535.5 L904.0 1535.3 L905.0 1535.2 L906.0 1535.0 L907.0 1534.7 L908.0 1534.4 L909.0 1534.1 L910.0 1533.7 L911.0 1533.4 L912.0 1533.0 L913.0 1532.6 L914.0 1532.1 L915.0 1531.7 L916.0 1531.2 L917.0 1530.7 L918.0 1530.3 L919.0 1529.8 L920.0 1529.3 L921.0 1528.9 L922.0 1528.4 L923.0 1527.9 L924.0 1527.5 L925.0 1527.1 L926.0 1526.6 L927.0 1526.2 L928.0 1525.7 L929.0 1525.2 L930.0 1524.7 L931.0 1524.3 L932.0 1523.8 L933.0 1523.3 L934.0 1522.7 L935.0 1522.2 L936.0 1521.7 L937.0 1521.1 L938.0 1520.6 L939.0 1520.0 L940.0 1519.4 L941.0 1518.8 L942.0 1518.2 L943.0 1517.6 L944.0 1516.9 L945.0 1516.3 L946.0 1515.6 L947.0 1514.9 L948.0 1514.3 L949.0 1513.5 L950.0 1512.8 L951.0 1512.1 L952.0 1511.3 L953.0 1510.6 L954.0 1509.7 L955.0 1508.9 L956.0 1507.9 L957.0 1507.0 L958.0 1506.0 L959.0 1505.0 L960.0 1503.9 L961.0 1502.8 L962.0 1501.7 L963.0 1500.6 L964.0 1499.4 L965.0 1498.2 L966.0 1497.0 L967.0 1495.8 L968.0 1494.6 L969.0 1493.4 L970.0 1492.2 L971.0 1491.0 L972.0 1489.7 L973.0 1488.5 L974.0 1487.3 L975.0 1486.1 L976.0 1484.9 L977.0 1483.8 L978.0 1482.6 L979.0 1481.4 L980.0 1480.3 L981.0 1479.1 L982.0 1477.9 L983.0 1476.7 L984.0 1475.5 L985.0 1474.3 L986.0 1473.1 L987.0 1471.8 L988.0 1470.6 L989.0 1469.3 L990.0 1468.0 L991.0 1466.6 L992.0 1465.3 L993.0 1463.9 L994.0 1462.5 L995.0 1461.0 L996.0 1459.5 L997.0 1458.0 L998.0 1456.5 L999.0 1454.9 L1000.0 1453.3 L1001.0 1451.7 L1002.0 1450.0 L1003.0 1448.3 L1004.0 1446.6 L1005.0 1444.8 L1006.0 1443.0 L1007.0 1441.2 L1008.0 1439.3 L1009.0 1437.4 L1010.0 1435.4 L1011.0 1433.4 L1012.0 1431.3 L1013.0 1429.0 L1014.0 1426.7 L1015.0 1424.2 L1016.0 1421.8 L1017.0 1419.2 L1018.0 1416.7 L1019.0 1414.2 L1020.0 1411.7 L1021.0 1409.2 L1022.0 1406.8 L1023.0 1404.6 L1024.0 1402.3 L1025.0 1400.1 L1026.0 1397.9 L1027.0 1395.8 L1028.0 1393.7 L1029.0 1391.5 L1029.5 1390.5" stroke="#00f" stroke-width="5" fill="none" stroke-dasharray="14 19" stroke-linecap="round"/>
<path d="M213.0 1596.8 L214.0 1596.8 L215.0 1596.8 L216.0 1596.9 L217.0 1596.9 L218.0 1596.9 L219.0 1596.9 L220.0 1596.9 L221.0 1597.0 L222.0 1597.0 L223.0 1597.0 L224.0 1597.0 L225.0 1597.0 L226.0 1597.0 L227.0 1597.0 L228.0 1597.0 L229.0 1597.0 L230.0 1597.0 L231.0 1597.0 L232.0 1597.0 L233.0 1597.0 L234.0 1597.0 L235.0 1597.0 L236.0 1597.0 L237.0 1597.0 L238.0 1597.0 L239.0 1597.0 L240.0 1597.0 L241.0 1596.9 L242.0 1596.9 L243.0 1596.9 L244.0 1596.9 L245.0 1597.0 L246.0 1597.0 L247.0 1597.0 L248.0 1597.0 L249.0 1597.0 L250.0 1597.0 L251.0 1597.0 L252.0 1597.0 L253.0 1597.1 L254.0 1597.1 L255.0 1597.1 L256.0 1597.1 L257.0 1597.1 L258.0 1597.1 L259.0 1597.1 L260.0 1597.2 L261.0 1597.2 L262.0 1597.2 L263.0 1597.2 L264.0 1597.2 L265.0 1597.2 L266.0 1597.2 L267.0 1597.2 L268.0 1597.2 L269.0 1597.2 L270.0 1597.1 L271.0 1597.1 L272.0 1597.1 L273.0 1597.1 L274.0 1597.1 L275.0 1597.1 L276.0 1597.1 L277.0 1597.1 L278.0 1597.1 L279.0 1597.1 L280.0 1597.1 L281.0 1597.1 L282.0 1597.1 L283.0 1597.1 L284.0 1597.1 L285.0 1597.1 L286.0 1597.1 L287.0 1597.1 L288.0 1597.1 L289.0 1597.1 L290.0 1597.1 L291.0 1597.1 L292.0 1597.2 L293.0 1597.2 L294.0 1597.2 L295.0 1597.2 L296.0 1597.2 L297.0 1597.2 L298.0 1597.2 L299.0 1597.2 L300.0 1597.3 L301.0 1597.3 L302.0 1597.3 L303.0 1597.3 L304.0 1597.3 L305.0 1597.3 L306.0 1597.4 L307.0 1597.4 L308.0 1597.4 L309.0 1597.4 L310.0 1597.5 L311.0 1597.5 L312.0 1597.5 L313.0 1597.5 L314.0 1597.6 L315.0 1597.6 L316.0 1597.6 L317.0 1597.7 L318.0 1597.7 L319.0 1597.7 L320.0 1597.7 L321.0 1597.8 L322.0 1597.8 L323.0 1597.8 L324.0 1597.8 L325.0 1597.8 L326.0 1597.9 L327.0 1597.9 L328.0 1597.9 L329.0 1597.9 L330.0 1597.9 L331.0 1597.9 L332.0 1597.9 L333.0 1597.8 L334.0 1597.8 L335.0 1597.8 L336.0 1597.8 L337.0 1597.8 L338.0 1597.8 L339.0 1597.7 L340.0 1597.7 L341.0 1597.7 L342.0 1597.7 L343.0 1597.6 L344.0 1597.6 L345.0 1597.6 L346.0 1597.6 L347.0 1597.5 L348.0 1597.5 L349.0 1597.5 L350.0 1597.5 L351.0 1597.4 L352.0 1597.4 L353.0 1597.4 L354.0 1597.4 L355.0 1597.3 L356.0 1597.3 L357.0 1597.3 L358.0 1597.3 L359.0 1597.2 L360.0 1597.2 L361.0 1597.2 L362.0 1597.1 L363.0 1597.1 L364.0 1597.1 L365.0 1597.0 L366.0 1597.0 L367.0 1597.0 L368.0 1596.9 L369.0 1596.9 L370.0 1596.9 L371.0 1596.8 L372.0 1596.8 L373.0 1596.7 L374.0 1596.7 L375.0 1596.6 L376.0 1596.6 L377.0 1596.5 L378.0 1596.5 L379.0 1596.4 L380.0 1596.4 L381.0 1596.3 L382.0 1596.3 L383.0 1596.2 L384.0 1596.2 L385.0 1596.1 L386.0 1596.0 L387.0 1596.0 L388.0 1595.9 L389.0 1595.8 L390.0 1595.7 L391.0 1595.7 L392.0 1595.6 L393.0 1595.5 L394.0 1595.4 L395.0 1595.4 L396.0 1595.3 L397.0 1595.2 L398.0 1595.1 L399.0 1595.0 L400.0 1594.9 L401.0 1594.8 L402.0 1594.7 L403.0 1594.5 L404.0 1594.4 L405.0 1594.3 L406.0 1594.1 L407.0 1594.0 L408.0 1593.8 L409.0 1593.6 L410.0 1593.5 L411.0 1593.3 L412.0 1593.1 L413.0 1592.9 L414.0 1592.7 L415.0 1592.4 L416.0 1592.2 L417.0 1592.0 L418.0 1591.7 L419.0 1591.4 L420.0 1591.2 L421.0 1590.9 L422.0 1590.6 L423.0 1590.3 L424.0 1590.1 L425.0 1589.8 L426.0 1589.5 L427.0 1589.2 L428.0 1588.9 L429.0 1588.6 L430.0 1588.3 L431.0 1588.0 L432.0 1587.7 L433.0 1587.5 L434.0 1587.2 L435.0 1587.0 L436.0 1586.7 L437.0 1586.5 L438.0 1586.3 L439.0 1586.1 L440.0 1586.0 L441.0 1585.9 L442.0 1585.8 L443.0 1585.7 L444.0 1585.7 L445.0 1585.6 L446.0 1585.6 L447.0 1585.6 L448.0 1585.6 L449.0 1585.6 L450.0 1585.6 L451.0 1585.6 L452.0 1585.6 L453.0 1585.6 L454.0 1585.6 L455.0 1585.6 L456.0 1585.6 L457.0 1585.7 L458.0 1585.7 L459.0 1585.7 L460.0 1585.8 L461.0 1585.8 L462.0 1585.9 L463.0 1585.9 L464.0 1586.0 L465.0 1586.1 L466.0 1586.1 L467.0 1586.2 L468.0 1586.3 L469.0 1586.4 L470.0 1586.4 L471.0 1586.5 L472.0 1586.6 L473.0 1586.7 L474.0 1586.8 L475.0 1586.9 L476.0 1587.0 L477.0 1587.0 L478.0 1587.1 L479.0 1587.2 L480.0 1587.3 L481.0 1587.4 L482.0 1587.5 L483.0 1587.6 L484.0 1587.7 L485.0 1587.8 L486.0 1587.9 L487.0 1587.9 L488.0 1588.0 L489.0 1588.1 L490.0 1588.2 L491.0 1588.3 L492.0 1588.4 L493.0 1588.5 L494.0 1588.5 L495.0 1588.6 L496.0 1588.7 L497.0 1588.8 L498.0 1588.8 L499.0 1588.9 L500.0 1589.0 L501.0 1589.1 L502.0 1589.1 L503.0 1589.2 L504.0 1589.3 L505.0 1589.3 L506.0 1589.4 L507.0 1589.4 L508.0 1589.5 L509.0 1589.6 L510.0 1589.6 L511.0 1589.7 L512.0 1589.7 L513.0 1589.7 L514.0 1589.8 L515.0 1589.8 L516.0 1589.9 L517.0 1589.9 L518.0 1589.9 L519.0 1589.9 L520.0 1590.0 L521.0 1590.0 L522.0 1590.0 L523.0 1590.0 L524.0 1590.0 L525.0 1590.0 L526.0 1590.0 L527.0 1590.1 L528.0 1590.1 L529.0 1590.1 L530.0 1590.1 L531.0 1590.1 L532.0 1590.2 L533.0 1590.2 L534.0 1590.2 L535.0 1590.2 L536.0 1590.3 L537.0 1590.3 L538.0 1590.3 L539.0 1590.4 L540.0 1590.4 L541.0 1590.4 L542.0 1590.4 L543.0 1590.5 L544.0 1590.5 L545.0 1590.5 L546.0 1590.5 L547.0 1590.6 L548.0 1590.6 L549.0 1590.6 L550.0 1590.6 L551.0 1590.6 L552.0 1590.6 L553.0 1590.7 L554.0 1590.7 L555.0 1590.7 L556.0 1590.7 L557.0 1590.7 L558.0 1590.7 L559.0 1590.7 L560.0 1590.7 L561.0 1590.7 L562.0 1590.7 L563.0 1590.7 L564.0 1590.7 L565.0 1590.7 L566.0 1590.7 L567.0 1590.7 L568.0 1590.6 L569.0 1590.6 L570.0 1590.6 L571.0 1590.5 L572.0 1590.5 L573.0 1590.5 L574.0 1590.4 L575.0 1590.3 L576.0 1590.3 L577.0 1590.2 L578.0 1590.2 L579.0 1590.1 L580.0 1590.1 L581.0 1590.0 L582.0 1590.0 L583.0 1589.9 L584.0 1589.9 L585.0 1589.8 L586.0 1589.8 L587.0 1589.8 L588.0 1589.7 L589.0 1589.7 L590.0 1589.7 L591.0 1589.6 L592.0 1589.6 L593.0 1589.6 L594.0 1589.6 L595.0 1589.5 L596.0 1589.5 L597.0 1589.5 L598.0 1589.4 L599.0 1589.4 L600.0 1589.4 L601.0 1589.3 L602.0 1589.3 L603.0 1589.3 L604.0 1589.2 L605.0 1589.2 L606.0 1589.2 L607.0 1589.1 L608.0 1589.1 L609.0 1589.0 L610.0 1589.0 L611.0 1589.0 L612.0 1588.9 L613.0 1588.9 L614.0 1588.8 L615.0 1588.8 L616.0 1588.8 L617.0 1588.7 L618.0 1588.7 L619.0 1588.7 L620.0 1588.6 L621.0 1588.6 L622.0 1588.6 L623.0 1588.5 L624.0 1588.5 L625.0 1588.5 L626.0 1588.4 L627.0 1588.4 L628.0 1588.4 L629.0 1588.4 L630.0 1588.4 L631.0 1588.3 L632.0 1588.3 L633.0 1588.3 L634.0 1588.3 L635.0 1588.3 L636.0 1588.3 L637.0 1588.3 L638.0 1588.3 L639.0 1588.3 L640.0 1588.3 L641.0 1588.3 L642.0 1588.3 L643.0 1588.3 L644.0 1588.3 L645.0 1588.4 L646.0 1588.4 L647.0 1588.4 L648.0 1588.4 L649.0 1588.3 L650.0 1588.3 L651.0 1588.3 L652.0 1588.3 L653.0 1588.3 L654.0 1588.2 L655.0 1588.2 L656.0 1588.2 L657.0 1588.1 L658.0 1588.1 L659.0 1588.0 L660.0 1588.0 L661.0 1587.9 L662.0 1587.9 L663.0 1587.8 L664.0 1587.7 L665.0 1587.7 L666.0 1587.6 L667.0 1587.5 L668.0 1587.5 L669.0 1587.4 L670.0 1587.3 L671.0 1587.3 L672.0 1587.2 L673.0 1587.1 L674.0 1587.1 L675.0 1587.0 L676.0 1586.9 L677.0 1586.9 L678.0 1586.8 L679.0 1586.8 L680.0 1586.7 L681.0 1586.6 L682.0 1586.6 L683.0 1586.5 L684.0 1586.5 L685.0 1586.4 L686.0 1586.4 L687.0 1586.3 L688.0 1586.3 L689.0 1586.2 L690.0 1586.1 L691.0 1586.1 L692.0 1586.0 L693.0 1586.0 L694.0 1585.9 L695.0 1585.9 L696.0 1585.9 L697.0 1585.8 L698.0 1585.8 L699.0 1585.7 L700.0 1585.7 L701.0 1585.6 L702.0 1585.6 L703.0 1585.5 L704.0 1585.5 L705.0 1585.5 L706.0 1585.4 L707.0 1585.4 L708.0 1585.4 L709.0 1585.3 L710.0 1585.3 L711.0 1585.3 L712.0 1585.2 L713.0 1585.2 L714.0 1585.2 L715.0 1585.1 L716.0 1585.1 L717.0 1585.1 L718.0 1585.0 L719.0 1585.0 L720.0 1585.0 L721.0 1584.9 L722.0 1584.9 L723.0 1584.9 L724.0 1584.8 L725.0 1584.8 L726.0 1584.7 L727.0 1584.7 L728.0 1584.7 L729.0 1584.6 L730.0 1584.6 L731.0 1584.5 L732.0 1584.5 L733.0 1584.5 L734.0 1584.5 L735.0 1584.4 L736.0 1584.4 L737.0 1584.4 L738.0 1584.3 L739.0 1584.3 L740.0 1584.3 L741.0 1584.3 L742.0 1584.2 L743.0 1584.2 L744.0 1584.2 L745.0 1584.1 L746.0 1584.1 L747.0 1584.1 L748.0 1584.0 L749.0 1584.0 L750.0 1583.9 L751.0 1583.9 L752.0 1583.8 L753.0 1583.8 L754.0 1583.8 L755.0 1583.7 L756.0 1583.7 L757.0 1583.6 L758.0 1583.6 L759.0 1583.5 L760.0 1583.5 L761.0 1583.4 L762.0 1583.4 L763.0 1583.3 L764.0 1583.2 L765.0 1583.2 L766.0 1583.1 L767.0 1583.1 L768.0 1583.0 L769.0 1582.9 L770.0 1582.9 L771.0 1582.8 L772.0 1582.8 L773.0 1582.7 L774.0 1582.6 L775.0 1582.6 L776.0 1582.5 L777.0 1582.4 L778.0 1582.3 L779.0 1582.3 L780.0 1582.2 L781.0 1582.1 L782.0 1582.1 L783.0 1582.0 L784.0 1581.9 L785.0 1581.8 L786.0 1581.8 L787.0 1581.7 L788.0 1581.6 L789.0 1581.6 L790.0 1581.5 L791.0 1581.5 L792.0 1581.4 L793.0 1581.4 L794.0 1581.4 L795.0 1581.3 L796.0 1581.3 L797.0 1581.3 L798.0 1581.3 L799.0 1581.3 L800.0 1581.2 L801.0 1581.2 L802.0 1581.2 L803.0 1581.2 L804.0 1581.2 L805.0 1581.2 L806.0 1581.1 L807.0 1581.1 L808.0 1581.1 L809.0 1581.0 L810.0 1581.0 L811.0 1581.0 L812.0 1581.0 L813.0 1580.9 L814.0 1580.9 L815.0 1580.9 L816.0 1580.9 L817.0 1580.9 L818.0 1581.0 L819.0 1581.0 L820.0 1581.0 L821.0 1581.0 L822.0 1581.1 L823.0 1581.1 L824.0 1581.1 L825.0 1581.2 L826.0 1581.2 L827.0 1581.3 L828.0 1581.3 L829.0 1581.4 L830.0 1581.4 L831.0 1581.5 L832.0 1581.5 L833.0 1581.6 L834.0 1581.6 L835.0 1581.6 L836.0 1581.7 L837.0 1581.7 L838.0 1581.7 L839.0 1581.8 L840.0 1581.8 L841.0 1581.8 L842.0 1581.9 L843.0 1581.9 L844.0 1582.0 L845.0 1582.0 L846.0 1582.1 L847.0 1582.1 L848.0 1582.2 L849.0 1582.3 L850.0 1582.4 L851.0 1582.4 L852.0 1582.5 L853.0 1582.6 L854.0 1582.7 L855.0 1582.7 L856.0 1582.8 L857.0 1582.9 L858.0 1583.0 L859.0 1583.1 L860.0 1583.1 L861.0 1583.2 L862.0 1583.3 L863.0 1583.4 L864.0 1583.5 L865.0 1583.6 L866.0 1583.7 L867.0 1583.8 L868.0 1583.9 L869.0 1584.1 L870.0 1584.2 L871.0 1584.3 L872.0 1584.4 L873.0 1584.6 L874.0 1584.7 L875.0 1584.8 L876.0 1584.9 L877.0 1585.0 L878.0 1585.0 L879.0 1585.1 L880.0 1585.1 L881.0 1585.2 L882.0 1585.2 L883.0 1585.2 L884.0 1585.2 L885.0 1585.2 L886.0 1585.1 L887.0 1585.1 L888.0 1585.1 L889.0 1585.0 L890.0 1585.0 L891.0 1584.9 L892.0 1584.9 L893.0 1584.8 L894.0 1584.7 L895.0 1584.7 L896.0 1584.6 L897.0 1584.5 L898.0 1584.5 L899.0 1584.4 L900.0 1584.3 L901.0 1584.3 L902.0 1584.2 L903.0 1584.2 L904.0 1584.1 L905.0 1584.1 L906.0 1584.0 L907.0 1584.0 L908.0 1583.9 L909.0 1583.9 L910.0 1583.9 L911.0 1583.8 L912.0 1583.8 L913.0 1583.7 L914.0 1583.7 L915.0 1583.6 L916.0 1583.6 L917.0 1583.5 L918.0 1583.4 L919.0 1583.4 L920.0 1583.3 L921.0 1583.2 L922.0 1583.1 L923.0 1583.0 L924.0 1582.9 L925.0 1582.8 L926.0 1582.6 L927.0 1582.5 L928.0 1582.4 L929.0 1582.2 L930.0 1582.1 L931.0 1581.9 L932.0 1581.8 L933.0 1581.6 L934.0 1581.4 L935.0 1581.2 L936.0 1581.0 L937.0 1580.8 L938.0 1580.6 L939.0 1580.3 L940.0 1580.1 L941.0 1579.9 L942.0 1579.7 L943.0 1579.4 L944.0 1579.2 L945.0 1579.0 L946.0 1578.8 L947.0 1578.6 L948.0 1578.4 L949.0 1578.2 L950.0 1578.0 L951.0 1577.8 L952.0 1577.6 L953.0 1577.5 L954.0 1577.3 L955.0 1577.1 L956.0 1577.0 L957.0 1576.8 L958.0 1576.6 L959.0 1576.4 L960.0 1576.2 L961.0 1576.1 L962.0 1575.9 L963.0 1575.7 L964.0 1575.5 L965.0 1575.2 L966.0 1575.0 L967.0 1574.8 L968.0 1574.5 L969.0 1574.3 L970.0 1574.0 L971.0 1573.7 L972.0 1573.4 L973.0 1573.0 L974.0 1572.7 L975.0 1572.3 L976.0 1571.9 L977.0 1571.6 L978.0 1571.2 L979.0 1570.8 L980.0 1570.4 L981.0 1570.0 L982.0 1569.6 L983.0 1569.3 L984.0 1568.9 L985.0 1568.6 L986.0 1568.2 L987.0 1567.9 L988.0 1567.6 L989.0 1567.3 L990.0 1567.0 L991.0 1566.7 L992.0 1566.4 L993.0 1566.1 L994.0 1565.8 L995.0 1565.5 L996.0 1565.2 L997.0 1565.0 L998.0 1564.7 L999.0 1564.4 L1000.0 1564.1 L1001.0 1563.8 L1002.0 1563.5 L1003.0 1563.2 L1004.0 1562.8 L1005.0 1562.5 L1006.0 1562.2 L1007.0 1561.8 L1008.0 1561.5 L1009.0 1561.1 L1010.0 1560.7 L1011.0 1560.3 L1012.0 1559.9 L1013.0 1559.4 L1014.0 1559.0 L1015.0 1558.5 L1016.0 1558.1 L1017.0 1557.6 L1018.0 1557.1 L1019.0 1556.6 L1020.0 1556.1 L1021.0 1555.6 L1022.0 1555.1 L1023.0 1554.6 L1024.0 1554.1 L1025.0 1553.6 L1026.0 1553.1 L1027.0 1552.6 L1028.0 1552.1 L1029.0 1551.6 L1030.0 1551.1 L1031.0 1550.5 L1032.0 1550.0 L1033.0 1549.5 L1034.0 1548.9 L1035.0 1548.4 L1036.0 1547.8 L1037.0 1547.2 L1038.0 1546.6 L1039.0 1546.1 L1040.0 1545.4 L1041.0 1544.8 L1042.0 1544.2 L1043.0 1543.6 L1044.0 1542.9 L1045.0 1542.2 L1046.0 1541.5 L1047.0 1540.8 L1048.0 1540.1 L1049.0 1539.4 L1050.0 1538.6 L1051.0 1537.8 L1052.0 1537.0 L1053.0 1536.2 L1054.0 1535.4 L1055.0 1534.5 L1056.0 1533.7 L1057.0 1532.8 L1058.0 1531.9 L1059.0 1530.9 L1060.0 1529.9 L1061.0 1528.9 L1062.0 1527.9 L1063.0 1526.8 L1064.0 1525.7 L1065.0 1524.5 L1066.0 1523.3 L1067.0 1522.1 L1068.0 1520.8 L1069.0 1519.4 L1070.0 1518.0 L1071.0 1516.5 L1072.0 1515.0 L1073.0 1513.4 L1074.0 1511.8 L1075.0 1510.0 L1076.0 1508.3 L1077.0 1506.4 L1078.0 1504.5 L1079.0 1502.6 L1080.0 1500.5 L1081.0 1498.4 L1082.0 1496.2 L1083.0 1494.0 L1084.0 1491.7 L1085.0 1489.3 L1086.0 1486.9 L1087.0 1484.4 L1088.0 1481.8 L1089.0 1479.1 L1090.0 1476.4 L1091.0 1473.5 L1092.0 1470.7 L1093.0 1467.7 L1094.0 1464.6 L1095.0 1461.5 L1096.0 1458.3 L1097.0 1455.0 L1098.0 1451.7 L1099.0 1448.2 L1100.0 1444.7 L1101.0 1441.2 L1102.0 1437.5 L1103.0 1433.8 L1104.0 1430.1 L1105.0 1426.3 L1106.0 1422.4 L1107.0 1418.5 L1108.0 1414.5 L1109.0 1410.6 L1110.0 1406.6 L1111.0 1402.6 L1112.0 1398.5 L1113.0 1394.5 L1114.0 1390.6 L1115.0 1386.6 L1116.0 1382.7 L1117.0 1378.9 L1118.0 1375.2 L1119.0 1371.5 L1120.0 1368.0 L1121.0 1364.6 L1122.0 1361.3 L1123.0 1358.2 L1124.0 1355.3 L1125.0 1352.6 L1126.0 1350.1 L1127.0 1347.8 L1128.0 1345.8 L1129.0 1344.1 L1130.0 1342.6 L1131.0 1341.4 L1132.0 1340.5 L1133.0 1339.9 L1134.0 1339.6 L1135.0 1339.7 L1136.0 1340.3 L1137.0 1341.5 L1138.0 1343.3 L1139.0 1345.5 L1140.0 1348.3 L1141.0 1351.5 L1142.0 1355.1 L1143.0 1359.1 L1144.0 1363.4 L1145.0 1368.0 L1146.0 1372.8 L1147.0 1377.8 L1148.0 1383.0 L1149.0 1388.2 L1150.0 1393.5 L1151.0 1398.8 L1152.0 1404.2 L1153.0 1409.4 L1154.0 1414.7 L1155.0 1419.8 L1156.0 1424.9 L1157.0 1429.9 L1158.0 1434.7 L1159.0 1439.4 L1160.0 1444.0 L1161.0 1448.5 L1162.0 1452.8 L1163.0 1457.0 L1164.0 1461.0 L1165.0 1464.9 L1166.0 1468.6 L1167.0 1472.2 L1168.0 1475.7 L1169.0 1479.0 L1170.0 1482.2 L1171.0 1485.3 L1172.0 1488.2 L1173.0 1491.1 L1174.0 1493.8 L1175.0 1496.4 L1176.0 1498.9 L1177.0 1501.3 L1178.0 1503.6 L1179.0 1505.8 L1180.0 1507.9 L1181.0 1509.9 L1182.0 1511.9 L1183.0 1513.7 L1184.0 1515.5 L1185.0 1517.2 L1186.0 1518.9 L1187.0 1520.4 L1188.0 1521.9 L1189.0 1523.4 L1190.0 1524.8 L1191.0 1526.1 L1192.0 1527.4 L1193.0 1528.7 L1194.0 1529.9 L1195.0 1531.0 L1196.0 1532.1 L1197.0 1533.2 L1198.0 1534.2 L1199.0 1535.2 L1200.0 1536.1 L1201.0 1537.0 L1202.0 1537.9 L1203.0 1538.8 L1204.0 1539.6 L1205.0 1540.4 L1206.0 1541.2 L1207.0 1541.9 L1208.0 1542.6 L1209.0 1543.3 L1210.0 1543.9 L1211.0 1544.6 L1212.0 1545.2 L1213.0 1545.7 L1214.0 1546.3 L1215.0 1546.8 L1216.0 1547.3 L1217.0 1547.8 L1218.0 1548.3 L1219.0 1548.7 L1220.0 1549.1 L1221.0 1549.5 L1222.0 1549.8 L1223.0 1550.2 L1224.0 1550.5 L1225.0 1550.8 L1226.0 1551.1 L1227.0 1551.3 L1228.0 1551.6 L1229.0 1551.8 L1230.0 1552.0 L1231.0 1552.2 L1232.0 1552.4 L1233.0 1552.6 L1234.0 1552.7 L1235.0 1552.9 L1236.0 1553.0 L1237.0 1553.1 L1238.0 1553.3 L1239.0 1553.4 L1240.0 1553.5 L1241.0 1553.6 L1242.0 1553.6 L1243.0 1553.7 L1244.0 1553.8 L1245.0 1553.8 L1246.0 1553.9 L1247.0 1553.9 L1248.0 1553.9 L1249.0 1554.0 L1250.0 1554.0 L1251.0 1554.0 L1252.0 1554.0 L1253.0 1554.0 L1254.0 1553.9 L1255.0 1553.9 L1256.0 1553.9 L1257.0 1553.8 L1258.0 1553.8 L1259.0 1553.7 L1260.0 1553.6 L1261.0 1553.6 L1262.0 1553.5 L1263.0 1553.4 L1264.0 1553.3 L1265.0 1553.2 L1266.0 1553.0 L1267.0 1552.9 L1268.0 1552.8 L1269.0 1552.6 L1270.0 1552.5 L1271.0 1552.3 L1272.0 1552.1 L1273.0 1551.9 L1274.0 1551.7 L1275.0 1551.5 L1276.0 1551.3 L1277.0 1551.1 L1278.0 1550.9 L1279.0 1550.6 L1280.0 1550.4 L1281.0 1550.1 L1282.0 1549.8 L1283.0 1549.5 L1284.0 1549.2 L1285.0 1548.9 L1286.0 1548.5 L1287.0 1548.1 L1288.0 1547.8 L1289.0 1547.4 L1290.0 1546.9 L1291.0 1546.5 L1292.0 1546.0 L1293.0 1545.5 L1294.0 1544.9 L1295.0 1544.4 L1296.0 1543.8 L1297.0 1543.1 L1298.0 1542.5 L1299.0 1541.8 L1300.0 1541.0 L1301.0 1540.3 L1302.0 1539.4 L1303.0 1538.6 L1304.0 1537.7 L1305.0 1536.8 L1306.0 1535.8 L1307.0 1534.8 L1308.0 1533.8 L1309.0 1532.7 L1310.0 1531.5 L1311.0 1530.3 L1312.0 1529.1 L1313.0 1527.8 L1314.0 1526.5 L1315.0 1525.1 L1316.0 1523.6 L1317.0 1522.1 L1318.0 1520.6 L1319.0 1519.0 L1320.0 1517.3 L1321.0 1515.6 L1322.0 1513.8 L1323.0 1511.9 L1324.0 1510.0 L1325.0 1508.0 L1326.0 1505.9 L1327.0 1503.8 L1328.0 1501.6 L1329.0 1499.3 L1330.0 1497.0 L1331.0 1494.6 L1332.0 1492.1 L1333.0 1489.5 L1334.0 1486.8 L1335.0 1484.1 L1336.0 1481.3 L1337.0 1478.4 L1338.0 1475.4 L1339.0 1472.4 L1340.0 1469.2 L1341.0 1466.0 L1342.0 1462.7 L1343.0 1459.3 L1344.0 1455.8 L1345.0 1452.3 L1346.0 1448.7 L1347.0 1445.0 L1348.0 1441.2 L1349.0 1437.4 L1350.0 1433.5 L1351.0 1429.6 L1352.0 1425.6 L1353.0 1421.6 L1354.0 1417.6 L1355.0 1413.5 L1356.0 1409.5 L1357.0 1405.5 L1358.0 1401.6 L1359.0 1397.7 L1360.0 1393.9 L1361.0 1390.2 L1362.0 1386.7 L1363.0 1383.2 L1364.0 1380.0 L1365.0 1377.0 L1366.0 1374.1 L1367.0 1371.6 L1368.0 1369.2 L1369.0 1367.2 L1370.0 1365.5 L1371.0 1364.1 L1372.0 1363.1 L1373.0 1362.3 L1374.0 1362.0 L1375.0 1362.0 L1376.0 1362.7 L1377.0 1364.0 L1378.0 1366.0 L1379.0 1368.6 L1380.0 1371.8 L1381.0 1375.4 L1382.0 1379.5 L1383.0 1384.0 L1384.0 1388.8 L1385.0 1393.9 L1386.0 1399.2 L1387.0 1404.6 L1388.0 1410.2 L1389.0 1415.7 L1390.0 1421.3 L1391.0 1426.9 L1392.0 1432.4 L1393.0 1437.8 L1394.0 1443.1 L1395.0 1448.3 L1396.0 1453.4 L1397.0 1458.3 L1398.0 1463.0 L1399.0 1467.6 L1400.0 1472.0 L1401.0 1476.2 L1402.0 1480.2 L1403.0 1484.1 L1404.0 1487.8 L1405.0 1491.3 L1406.0 1494.7 L1407.0 1497.9 L1408.0 1500.9 L1409.0 1503.8 L1410.0 1506.5 L1411.0 1509.1 L1412.0 1511.6 L1413.0 1513.9 L1414.0 1516.2 L1415.0 1518.3 L1416.0 1520.2 L1417.0 1522.1 L1418.0 1523.9 L1419.0 1525.6 L1420.0 1527.2 L1421.0 1528.7 L1422.0 1530.2 L1423.0 1531.5 L1424.0 1532.8 L1425.0 1534.0 L1426.0 1535.2 L1427.0 1536.3 L1428.0 1537.4 L1429.0 1538.4 L1430.0 1539.3 L1431.0 1540.2 L1432.0 1541.1 L1433.0 1541.9 L1434.0 1542.7 L1435.0 1543.5 L1436.0 1544.2 L1437.0 1544.9 L1438.0 1545.6 L1439.0 1546.2 L1440.0 1546.9 L1441.0 1547.4 L1442.0 1548.0 L1443.0 1548.6 L1444.0 1549.1 L1445.0 1549.6 L1446.0 1550.1 L1447.0 1550.6 L1448.0 1551.1 L1449.0 1551.5 L1450.0 1552.0 L1451.0 1552.4 L1452.0 1552.8 L1453.0 1553.3 L1454.0 1553.7 L1455.0 1554.1 L1456.0 1554.4 L1457.0 1554.8 L1458.0 1555.2 L1459.0 1555.5 L1460.0 1555.9 L1461.0 1556.2 L1462.0 1556.6 L1463.0 1556.9 L1464.0 1557.2 L1465.0 1557.5 L1466.0 1557.9 L1467.0 1558.2 L1468.0 1558.5 L1469.0 1558.7 L1470.0 1559.0 L1471.0 1559.3 L1472.0 1559.6 L1473.0 1559.8 L1474.0 1560.1 L1475.0 1560.3 L1476.0 1560.6 L1477.0 1560.8 L1478.0 1561.1 L1479.0 1561.3 L1480.0 1561.5 L1481.0 1561.7 L1482.0 1561.9 L1483.0 1562.0 L1484.0 1562.2 L1485.0 1562.3 L1486.0 1562.5 L1487.0 1562.6 L1488.0 1562.7 L1489.0 1562.8 L1490.0 1562.9 L1491.0 1562.9 L1492.0 1563.0 L1493.0 1563.0 L1494.0 1563.0 L1495.0 1563.0 L1496.0 1562.9 L1497.0 1562.9 L1498.0 1562.8 L1499.0 1562.7 L1500.0 1562.6 L1501.0 1562.5 L1502.0 1562.4 L1503.0 1562.2 L1504.0 1562.1 L1505.0 1561.9 L1506.0 1561.7 L1507.0 1561.6 L1508.0 1561.4 L1509.0 1561.2 L1510.0 1561.1 L1511.0 1560.9 L1512.0 1560.7 L1513.0 1560.6 L1514.0 1560.4 L1515.0 1560.2 L1516.0 1560.0 L1517.0 1559.8 L1518.0 1559.6 L1519.0 1559.4 L1520.0 1559.2 L1521.0 1559.0 L1522.0 1558.7 L1523.0 1558.5 L1524.0 1558.2 L1525.0 1557.9 L1526.0 1557.6 L1527.0 1557.3 L1528.0 1557.0 L1529.0 1556.7 L1530.0 1556.3 L1531.0 1556.0 L1532.0 1555.6 L1533.0 1555.2 L1534.0 1554.8 L1535.0 1554.5 L1536.0 1554.0 L1537.0 1553.6 L1538.0 1553.2 L1539.0 1552.8 L1540.0 1552.3 L1541.0 1551.9 L1542.0 1551.4 L1543.0 1550.9 L1544.0 1550.4 L1545.0 1549.8 L1546.0 1549.3 L1547.0 1548.7 L1548.0 1548.1 L1549.0 1547.5 L1550.0 1546.9 L1551.0 1546.2 L1552.0 1545.5 L1553.0 1544.8 L1554.0 1544.0 L1555.0 1543.2 L1556.0 1542.4 L1557.0 1541.5 L1558.0 1540.6 L1559.0 1539.6 L1560.0 1538.6 L1561.0 1537.6 L1562.0 1536.5 L1563.0 1535.3 L1564.0 1534.1 L1565.0 1532.8 L1566.0 1531.5 L1567.0 1530.1 L1568.0 1528.6 L1569.0 1527.1 L1570.0 1525.5 L1571.0 1523.8 L1572.0 1522.0 L1573.0 1520.2 L1574.0 1518.2 L1575.0 1516.2 L1576.0 1514.1 L1577.0 1511.8 L1578.0 1509.5 L1579.0 1507.0 L1580.0 1504.5 L1581.0 1501.8 L1582.0 1499.0 L1583.0 1496.1 L1584.0 1493.1 L1585.0 1490.0 L1586.0 1486.8 L1587.0 1483.4 L1588.0 1480.0 L1589.0 1476.4 L1590.0 1472.8 L1591.0 1469.1 L1592.0 1465.3 L1593.0 1461.4 L1594.0 1457.4 L1595.0 1453.5 L1596.0 1449.4 L1597.0 1445.4 L1598.0 1441.4 L1599.0 1437.3 L1600.0 1433.3 L1601.0 1429.4 L1602.0 1425.5 L1603.0 1421.7 L1604.0 1418.0 L1605.0 1414.5 L1606.0 1411.2 L1607.0 1408.0 L1608.0 1405.1 L1609.0 1402.4 L1610.0 1400.1 L1611.0 1398.0 L1612.0 1396.3 L1613.0 1394.9 L1614.0 1393.9 L1615.0 1393.2 L1616.0 1393.0 L1617.0 1393.1 L1618.0 1393.6 L1619.0 1394.6 L1620.0 1395.9 L1621.0 1397.5 L1622.0 1399.5 L1623.0 1401.9 L1624.0 1404.5 L1625.0 1407.4 L1626.0 1410.5 L1627.0 1413.8 L1628.0 1417.4 L1629.0 1421.0 L1630.0 1424.8 L1631.0 1428.7 L1632.0 1432.7 L1633.0 1436.8 L1634.0 1440.8 L1635.0 1444.9 L1636.0 1449.0 L1637.0 1453.0 L1638.0 1457.1 L1639.0 1461.1 L1640.0 1465.0 L1641.0 1468.9 L1642.0 1472.7 L1643.0 1476.5 L1644.0 1480.1 L1645.0 1483.7 L1646.0 1487.2 L1647.0 1490.6 L1648.0 1493.9 L1649.0 1497.1 L1650.0 1500.2 L1651.0 1503.2 L1652.0 1506.2 L1653.0 1509.0 L1654.0 1511.7 L1655.0 1514.3 L1656.0 1516.8 L1657.0 1519.2 L1658.0 1521.5 L1659.0 1523.7 L1660.0 1525.9 L1661.0 1527.9 L1662.0 1529.8 L1663.0 1531.7 L1664.0 1533.5 L1665.0 1535.2 L1666.0 1536.8 L1667.0 1538.4 L1668.0 1539.9 L1669.0 1541.3 L1670.0 1542.7 L1671.0 1544.0 L1672.0 1545.3 L1673.0 1546.5 L1674.0 1547.6 L1675.0 1548.7 L1676.0 1549.8 L1677.0 1550.8 L1678.0 1551.8 L1679.0 1552.7 L1680.0 1553.6 L1681.0 1554.4 L1682.0 1555.3 L1683.0 1556.1 L1684.0 1556.8 L1685.0 1557.5 L1686.0 1558.3 L1687.0 1558.9 L1688.0 1559.6 L1689.0 1560.2 L1690.0 1560.9 L1691.0 1561.5 L1692.0 1562.1 L1693.0 1562.6 L1694.0 1563.2 L1695.0 1563.8 L1696.0 1564.3 L1697.0 1564.8 L1698.0 1565.4 L1699.0 1565.9 L1700.0 1566.4 L1701.0 1566.9 L1702.0 1567.4 L1703.0 1567.9 L1704.0 1568.3 L1705.0 1568.8 L1706.0 1569.2 L1707.0 1569.7 L1708.0 1570.1 L1709.0 1570.5 L1710.0 1570.8 L1711.0 1571.2 L1712.0 1571.5 L1713.0 1571.9 L1714.0 1572.2 L1715.0 1572.5 L1716.0 1572.7 L1717.0 1573.0 L1718.0 1573.2 L1719.0 1573.5 L1720.0 1573.7 L1721.0 1573.9 L1722.0 1574.1 L1723.0 1574.2 L1724.0 1574.4 L1725.0 1574.5 L1726.0 1574.7 L1727.0 1574.8 L1728.0 1574.9 L1729.0 1575.0 L1730.0 1575.1 L1731.0 1575.2 L1732.0 1575.3 L1733.0 1575.5 L1734.0 1575.6 L1735.0 1575.7 L1736.0 1575.8 L1737.0 1575.9 L1738.0 1576.1 L1739.0 1576.2 L1740.0 1576.3 L1741.0 1576.4 L1742.0 1576.5 L1743.0 1576.7 L1744.0 1576.8 L1745.0 1576.9 L1746.0 1577.0 L1747.0 1577.1 L1748.0 1577.2 L1749.0 1577.3 L1750.0 1577.4 L1751.0 1577.5 L1752.0 1577.6 L1753.0 1577.7 L1754.0 1577.7 L1755.0 1577.8 L1756.0 1577.9 L1757.0 1577.9 L1758.0 1578.0 L1759.0 1578.1 L1760.0 1578.1 L1761.0 1578.2 L1762.0 1578.2 L1763.0 1578.3 L1764.0 1578.3 L1765.0 1578.4 L1766.0 1578.4 L1767.0 1578.5 L1768.0 1578.5 L1769.0 1578.6 L1770.0 1578.6 L1771.0 1578.7 L1772.0 1578.8 L1773.0 1578.8 L1774.0 1578.9 L1775.0 1578.9 L1776.0 1579.0 L1777.0 1579.1 L1778.0 1579.2 L1779.0 1579.2 L1780.0 1579.3 L1781.0 1579.4 L1782.0 1579.5 L1783.0 1579.5 L1784.0 1579.6 L1785.0 1579.7 L1786.0 1579.8 L1787.0 1579.9 L1788.0 1580.0 L1789.0 1580.1 L1790.0 1580.1 L1791.0 1580.2 L1792.0 1580.3 L1793.0 1580.4 L1794.0 1580.5 L1795.0 1580.6 L1796.0 1580.7 L1797.0 1580.8 L1798.0 1580.9 L1799.0 1581.0 L1800.0 1581.1" stroke="#00f" stroke-width="5" fill="none" stroke-linejoin="round"/>
</g>
<clipPath id="plot"><rect x="213.0" y="39.2" width="1587.8" height="1589.3"/></clipPath>
<rect x="213.0" y="39.2" width="1587.8" height="1589.3" fill="none" stroke="#000" stroke-width="4.5"/>
<path d="M213.0 1609.5 V1646.0 M252.7 1614.5 V1628.5 M292.4 1614.5 V1628.5 M332.1 1614.5 V1628.5 M371.8 1614.5 V1628.5 M411.5 1609.5 V1646.0 M451.2 1614.5 V1628.5 M490.9 1614.5 V1628.5 M530.6 1614.5 V1628.5 M570.3 1614.5 V1628.5 M610.0 1609.5 V1646.0 M649.6 1614.5 V1628.5 M689.3 1614.5 V1628.5 M729.0 1614.5 V1628.5 M768.7 1614.5 V1628.5 M808.4 1609.5 V1646.0 M848.1 1614.5 V1628.5 M887.8 1614.5 V1628.5 M927.5 1614.5 V1628.5 M967.2 1614.5 V1628.5 M1006.9 1609.5 V1646.0 M1046.6 1614.5 V1628.5 M1086.3 1614.5 V1628.5 M1126.0 1614.5 V1628.5 M1165.7 1614.5 V1628.5 M1205.4 1609.5 V1646.0 M1245.1 1614.5 V1628.5 M1284.8 1614.5 V1628.5 M1324.5 1614.5 V1628.5 M1364.2 1614.5 V1628.5 M1403.8 1609.5 V1646.0 M1443.5 1614.5 V1628.5 M1483.2 1614.5 V1628.5 M1522.9 1614.5 V1628.5 M1562.6 1614.5 V1628.5 M1602.3 1609.5 V1646.0 M1642.0 1614.5 V1628.5 M1681.7 1614.5 V1628.5 M1721.4 1614.5 V1628.5 M1761.1 1614.5 V1628.5 M1800.8 1609.5 V1646.0" stroke="#000" stroke-width="4.5" fill="none"/>
<g font-size="64"><text x="207.0" y="1724.5" text-anchor="middle">1100</text><text x="405.5" y="1724.5" text-anchor="middle">1000</text><text x="604.0" y="1724.5" text-anchor="middle">900</text><text x="802.4" y="1724.5" text-anchor="middle">800</text><text x="1000.9" y="1724.5" text-anchor="middle">700</text><text x="1199.4" y="1724.5" text-anchor="middle">600</text><text x="1397.8" y="1724.5" text-anchor="middle">500</text><text x="1596.3" y="1724.5" text-anchor="middle">400</text><text x="1794.8" y="1724.5" text-anchor="middle">300</text></g>
<text font-size="63" transform="translate(73.5 864) rotate(-90)" text-anchor="middle">Intensity (a.u.)</text>
<text font-size="62.5" x="760.5" y="1888.3">Raman shift (cm<tspan font-size="41" dy="-21">-1</tspan><tspan dy="21" dx="3">)</tspan></text>
<g font-size="62">
<text x="254" y="278.5">(a)</text>
<text x="263" y="1114.5">(b)</text>
<text x="262" y="1383">(c)</text>
<text x="262" y="1571">(d)</text>
</g>
<g font-size="60">
<text x="565" y="1020">x 5</text>
<text x="881" y="1271.8">x 5</text>
<text x="868" y="1488.8">x 5</text>
<text x="1672.5" y="152.2" font-size="61">10</text>
</g>
<path d="M1636.6 83 V182" stroke="#000" stroke-width="4.5" stroke-linecap="round"/>
</g>
</svg>
</body></html>
